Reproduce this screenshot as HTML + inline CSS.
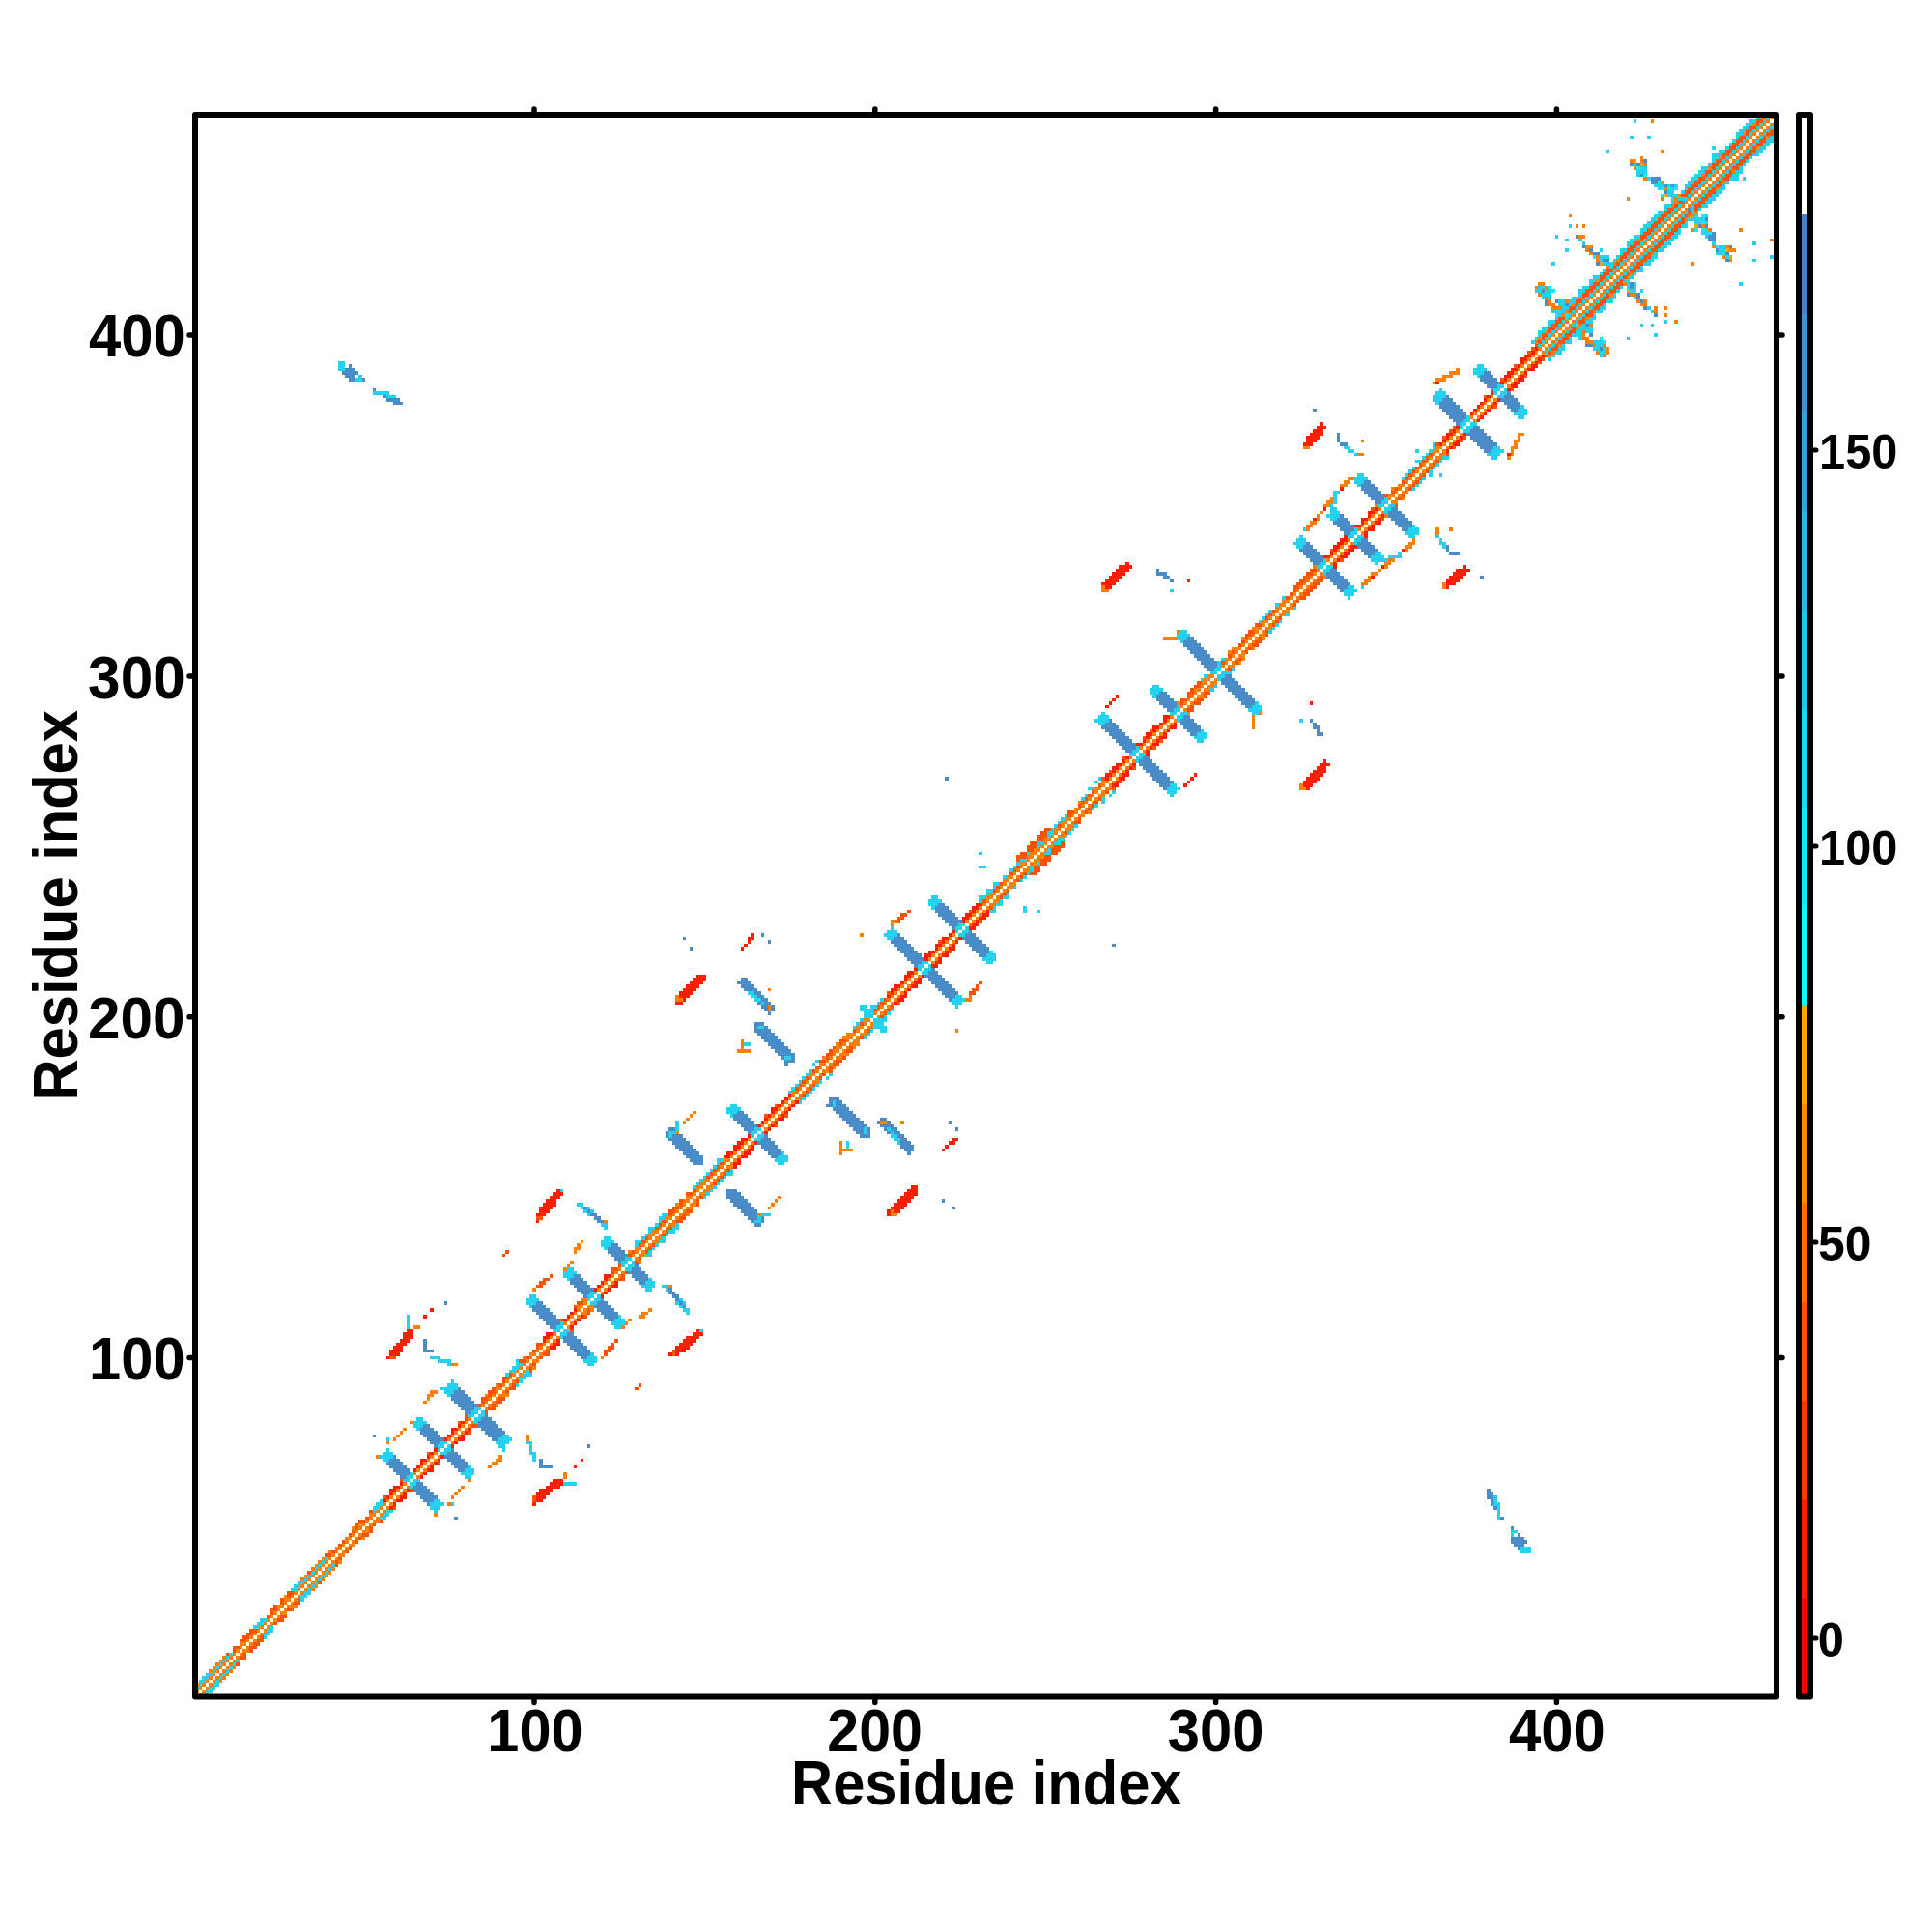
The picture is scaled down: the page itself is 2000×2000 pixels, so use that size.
<!DOCTYPE html>
<html><head><meta charset="utf-8"><style>
html,body{margin:0;padding:0;background:#fff;width:2000px;height:2000px;overflow:hidden}
svg{position:absolute;left:0;top:0}
text{font-family:"Liberation Sans",sans-serif;font-weight:bold;fill:#000}
</style></head><body>
<svg width="2000" height="2000" viewBox="0 0 2000 2000">

<g shape-rendering="crispEdges"><path fill="#FFFFF0" d="M202.0 1753.0H205.5V1756.5H202.0zM205.5 1749.4H209.1V1753.0H205.5zM209.1 1745.9H212.6V1749.4H209.1zM212.6 1742.4H216.1V1745.9H212.6zM216.1 1738.9H219.6V1742.4H216.1zM219.6 1735.3H223.2V1738.9H219.6zM223.2 1731.8H226.7V1735.3H223.2zM226.7 1728.3H230.2V1731.8H226.7zM230.2 1724.7H233.8V1728.3H230.2zM233.8 1721.2H237.3V1724.7H233.8zM237.3 1717.7H240.8V1721.2H237.3zM240.8 1714.2H244.3V1717.7H240.8zM244.3 1710.6H247.9V1714.2H244.3zM247.9 1707.1H251.4V1710.6H247.9zM251.4 1703.6H254.9V1707.1H251.4zM254.9 1700.1H258.4V1703.6H254.9zM258.4 1696.5H262.0V1700.1H258.4zM262.0 1693.0H265.5V1696.5H262.0zM265.5 1689.5H269.0V1693.0H265.5zM269.0 1685.9H272.6V1689.5H269.0zM272.6 1682.4H276.1V1685.9H272.6zM276.1 1678.9H279.6V1682.4H276.1zM279.6 1675.4H283.1V1678.9H279.6zM283.1 1671.8H286.7V1675.4H283.1zM286.7 1668.3H290.2V1671.8H286.7zM290.2 1664.8H293.7V1668.3H290.2zM293.7 1661.2H297.3V1664.8H293.7zM297.3 1657.7H300.8V1661.2H297.3zM300.8 1654.2H304.3V1657.7H300.8zM304.3 1650.7H307.8V1654.2H304.3zM307.8 1647.1H311.4V1650.7H307.8zM311.4 1643.6H314.9V1647.1H311.4zM314.9 1640.1H318.4V1643.6H314.9zM318.4 1636.5H322.0V1640.1H318.4zM322.0 1633.0H325.5V1636.5H322.0zM325.5 1629.5H329.0V1633.0H325.5zM329.0 1626.0H332.5V1629.5H329.0zM332.5 1622.4H336.1V1626.0H332.5zM336.1 1618.9H339.6V1622.4H336.1zM339.6 1615.4H343.1V1618.9H339.6zM343.1 1611.9H346.6V1615.4H343.1zM346.6 1608.3H350.2V1611.9H346.6zM350.2 1604.8H353.7V1608.3H350.2zM353.7 1601.3H357.2V1604.8H353.7zM357.2 1597.7H360.8V1601.3H357.2zM360.8 1594.2H364.3V1597.7H360.8zM364.3 1590.7H367.8V1594.2H364.3zM367.8 1587.2H371.3V1590.7H367.8zM371.3 1583.6H374.9V1587.2H371.3zM374.9 1580.1H378.4V1583.6H374.9zM378.4 1576.6H381.9V1580.1H378.4zM381.9 1573.0H385.5V1576.6H381.9zM385.5 1569.5H389.0V1573.0H385.5zM389.0 1566.0H392.5V1569.5H389.0zM392.5 1562.5H396.0V1566.0H392.5zM396.0 1558.9H399.6V1562.5H396.0zM399.6 1555.4H403.1V1558.9H399.6zM403.1 1551.9H406.6V1555.4H403.1zM406.6 1548.3H410.2V1551.9H406.6zM410.2 1544.8H413.7V1548.3H410.2zM413.7 1541.3H417.2V1544.8H413.7zM417.2 1537.8H420.7V1541.3H417.2zM420.7 1534.2H424.3V1537.8H420.7zM424.3 1530.7H427.8V1534.2H424.3zM427.8 1527.2H431.3V1530.7H427.8zM431.3 1523.7H434.8V1527.2H431.3zM434.8 1520.1H438.4V1523.7H434.8zM438.4 1516.6H441.9V1520.1H438.4zM441.9 1513.1H445.4V1516.6H441.9zM445.4 1509.5H449.0V1513.1H445.4zM449.0 1506.0H452.5V1509.5H449.0zM452.5 1502.5H456.0V1506.0H452.5zM456.0 1499.0H459.5V1502.5H456.0zM459.5 1495.4H463.1V1499.0H459.5zM463.1 1491.9H466.6V1495.4H463.1zM466.6 1488.4H470.1V1491.9H466.6zM470.1 1484.8H473.7V1488.4H470.1zM473.7 1481.3H477.2V1484.8H473.7zM477.2 1477.8H480.7V1481.3H477.2zM480.7 1474.3H484.2V1477.8H480.7zM484.2 1470.7H487.8V1474.3H484.2zM487.8 1467.2H491.3V1470.7H487.8zM491.3 1463.7H494.8V1467.2H491.3zM494.8 1460.1H498.4V1463.7H494.8zM498.4 1456.6H501.9V1460.1H498.4zM501.9 1453.1H505.4V1456.6H501.9zM505.4 1449.6H508.9V1453.1H505.4zM508.9 1446.0H512.5V1449.6H508.9zM512.5 1442.5H516.0V1446.0H512.5zM516.0 1439.0H519.5V1442.5H516.0zM519.5 1435.5H523.0V1439.0H519.5zM523.0 1431.9H526.6V1435.5H523.0zM526.6 1428.4H530.1V1431.9H526.6zM530.1 1424.9H533.6V1428.4H530.1zM533.6 1421.3H537.2V1424.9H533.6zM537.2 1417.8H540.7V1421.3H537.2zM540.7 1414.3H544.2V1417.8H540.7zM544.2 1410.8H547.7V1414.3H544.2zM547.7 1407.2H551.3V1410.8H547.7zM551.3 1403.7H554.8V1407.2H551.3zM554.8 1400.2H558.3V1403.7H554.8zM558.3 1396.6H561.9V1400.2H558.3zM561.9 1393.1H565.4V1396.6H561.9zM565.4 1389.6H568.9V1393.1H565.4zM568.9 1386.1H572.4V1389.6H568.9zM572.4 1382.5H576.0V1386.1H572.4zM576.0 1379.0H579.5V1382.5H576.0zM579.5 1375.5H583.0V1379.0H579.5zM583.0 1371.9H586.6V1375.5H583.0zM586.6 1368.4H590.1V1371.9H586.6zM590.1 1364.9H593.6V1368.4H590.1zM593.6 1361.4H597.1V1364.9H593.6zM597.1 1357.8H600.7V1361.4H597.1zM600.7 1354.3H604.2V1357.8H600.7zM604.2 1350.8H607.7V1354.3H604.2zM607.7 1347.3H611.2V1350.8H607.7zM611.2 1343.7H614.8V1347.3H611.2zM614.8 1340.2H618.3V1343.7H614.8zM618.3 1336.7H621.8V1340.2H618.3zM621.8 1333.1H625.4V1336.7H621.8zM625.4 1329.6H628.9V1333.1H625.4zM628.9 1326.1H632.4V1329.6H628.9zM632.4 1322.6H635.9V1326.1H632.4zM635.9 1319.0H639.5V1322.6H635.9zM639.5 1315.5H643.0V1319.0H639.5zM643.0 1312.0H646.5V1315.5H643.0zM646.5 1308.4H650.1V1312.0H646.5zM650.1 1304.9H653.6V1308.4H650.1zM653.6 1301.4H657.1V1304.9H653.6zM657.1 1297.9H660.6V1301.4H657.1zM660.6 1294.3H664.2V1297.9H660.6zM664.2 1290.8H667.7V1294.3H664.2zM667.7 1287.3H671.2V1290.8H667.7zM671.2 1283.7H674.8V1287.3H671.2zM674.8 1280.2H678.3V1283.7H674.8zM678.3 1276.7H681.8V1280.2H678.3zM681.8 1273.2H685.3V1276.7H681.8zM685.3 1269.6H688.9V1273.2H685.3zM688.9 1266.1H692.4V1269.6H688.9zM692.4 1262.6H695.9V1266.1H692.4zM695.9 1259.1H699.4V1262.6H695.9zM699.4 1255.5H703.0V1259.1H699.4zM703.0 1252.0H706.5V1255.5H703.0zM706.5 1248.5H710.0V1252.0H706.5zM710.0 1244.9H713.6V1248.5H710.0zM713.6 1241.4H717.1V1244.9H713.6zM717.1 1237.9H720.6V1241.4H717.1zM720.6 1234.4H724.1V1237.9H720.6zM724.1 1230.8H727.7V1234.4H724.1zM727.7 1227.3H731.2V1230.8H727.7zM731.2 1223.8H734.7V1227.3H731.2zM734.7 1220.2H738.3V1223.8H734.7zM738.3 1216.7H741.8V1220.2H738.3zM741.8 1213.2H745.3V1216.7H741.8zM745.3 1209.7H748.8V1213.2H745.3zM748.8 1206.1H752.4V1209.7H748.8zM752.4 1202.6H755.9V1206.1H752.4zM755.9 1199.1H759.4V1202.6H755.9zM759.4 1195.5H763.0V1199.1H759.4zM763.0 1192.0H766.5V1195.5H763.0zM766.5 1188.5H770.0V1192.0H766.5zM770.0 1185.0H773.5V1188.5H770.0zM773.5 1181.4H777.1V1185.0H773.5zM777.1 1177.9H780.6V1181.4H777.1zM780.6 1174.4H784.1V1177.9H780.6zM784.1 1170.9H787.6V1174.4H784.1zM787.6 1167.3H791.2V1170.9H787.6zM791.2 1163.8H794.7V1167.3H791.2zM794.7 1160.3H798.2V1163.8H794.7zM798.2 1156.7H801.8V1160.3H798.2zM801.8 1153.2H805.3V1156.7H801.8zM805.3 1149.7H808.8V1153.2H805.3zM808.8 1146.2H812.3V1149.7H808.8zM812.3 1142.6H815.9V1146.2H812.3zM815.9 1139.1H819.4V1142.6H815.9zM819.4 1135.6H822.9V1139.1H819.4zM822.9 1132.0H826.5V1135.6H822.9zM826.5 1128.5H830.0V1132.0H826.5zM830.0 1125.0H833.5V1128.5H830.0zM833.5 1121.5H837.0V1125.0H833.5zM837.0 1117.9H840.6V1121.5H837.0zM840.6 1114.4H844.1V1117.9H840.6zM844.1 1110.9H847.6V1114.4H844.1zM847.6 1107.3H851.2V1110.9H847.6zM851.2 1103.8H854.7V1107.3H851.2zM854.7 1100.3H858.2V1103.8H854.7zM858.2 1096.8H861.7V1100.3H858.2zM861.7 1093.2H865.3V1096.8H861.7zM865.3 1089.7H868.8V1093.2H865.3zM868.8 1086.2H872.3V1089.7H868.8zM872.3 1082.7H875.8V1086.2H872.3zM875.8 1079.1H879.4V1082.7H875.8zM879.4 1075.6H882.9V1079.1H879.4zM882.9 1072.1H886.4V1075.6H882.9zM886.4 1068.5H890.0V1072.1H886.4zM890.0 1065.0H893.5V1068.5H890.0zM893.5 1061.5H897.0V1065.0H893.5zM897.0 1058.0H900.5V1061.5H897.0zM900.5 1054.4H904.1V1058.0H900.5zM904.1 1050.9H907.6V1054.4H904.1zM907.6 1047.4H911.1V1050.9H907.6zM911.1 1043.8H914.7V1047.4H911.1zM914.7 1040.3H918.2V1043.8H914.7zM918.2 1036.8H921.7V1040.3H918.2zM921.7 1033.3H925.2V1036.8H921.7zM925.2 1029.7H928.8V1033.3H925.2zM928.8 1026.2H932.3V1029.7H928.8zM932.3 1022.7H935.8V1026.2H932.3zM935.8 1019.1H939.4V1022.7H935.8zM939.4 1015.6H942.9V1019.1H939.4zM942.9 1012.1H946.4V1015.6H942.9zM946.4 1008.6H949.9V1012.1H946.4zM949.9 1005.0H953.5V1008.6H949.9zM953.5 1001.5H957.0V1005.0H953.5zM957.0 998.0H960.5V1001.5H957.0zM960.5 994.5H964.0V998.0H960.5zM964.0 990.9H967.6V994.5H964.0zM967.6 987.4H971.1V990.9H967.6zM971.1 983.9H974.6V987.4H971.1zM974.6 980.3H978.2V983.9H974.6zM978.2 976.8H981.7V980.3H978.2zM981.7 973.3H985.2V976.8H981.7zM985.2 969.8H988.7V973.3H985.2zM988.7 966.2H992.3V969.8H988.7zM992.3 962.7H995.8V966.2H992.3zM995.8 959.2H999.3V962.7H995.8zM999.3 955.6H1002.9V959.2H999.3zM1002.9 952.1H1006.4V955.6H1002.9zM1006.4 948.6H1009.9V952.1H1006.4zM1009.9 945.1H1013.4V948.6H1009.9zM1013.4 941.5H1017.0V945.1H1013.4zM1017.0 938.0H1020.5V941.5H1017.0zM1020.5 934.5H1024.0V938.0H1020.5zM1024.0 930.9H1027.6V934.5H1024.0zM1027.6 927.4H1031.1V930.9H1027.6zM1031.1 923.9H1034.6V927.4H1031.1zM1034.6 920.4H1038.1V923.9H1034.6zM1038.1 916.8H1041.7V920.4H1038.1zM1041.7 913.3H1045.2V916.8H1041.7zM1045.2 909.8H1048.7V913.3H1045.2zM1048.7 906.3H1052.2V909.8H1048.7zM1052.2 902.7H1055.8V906.3H1052.2zM1055.8 899.2H1059.3V902.7H1055.8zM1059.3 895.7H1062.8V899.2H1059.3zM1062.8 892.1H1066.4V895.7H1062.8zM1066.4 888.6H1069.9V892.1H1066.4zM1069.9 885.1H1073.4V888.6H1069.9zM1073.4 881.6H1076.9V885.1H1073.4zM1076.9 878.0H1080.5V881.6H1076.9zM1080.5 874.5H1084.0V878.0H1080.5zM1084.0 871.0H1087.5V874.5H1084.0zM1087.5 867.4H1091.1V871.0H1087.5zM1091.1 863.9H1094.6V867.4H1091.1zM1094.6 860.4H1098.1V863.9H1094.6zM1098.1 856.9H1101.6V860.4H1098.1zM1101.6 853.3H1105.2V856.9H1101.6zM1105.2 849.8H1108.7V853.3H1105.2zM1108.7 846.3H1112.2V849.8H1108.7zM1112.2 842.7H1115.8V846.3H1112.2zM1115.8 839.2H1119.3V842.7H1115.8zM1119.3 835.7H1122.8V839.2H1119.3zM1122.8 832.2H1126.3V835.7H1122.8zM1126.3 828.6H1129.9V832.2H1126.3zM1129.9 825.1H1133.4V828.6H1129.9zM1133.4 821.6H1136.9V825.1H1133.4zM1136.9 818.1H1140.4V821.6H1136.9zM1140.4 814.5H1144.0V818.1H1140.4zM1144.0 811.0H1147.5V814.5H1144.0zM1147.5 807.5H1151.0V811.0H1147.5zM1151.0 803.9H1154.6V807.5H1151.0zM1154.6 800.4H1158.1V803.9H1154.6zM1158.1 796.9H1161.6V800.4H1158.1zM1161.6 793.4H1165.1V796.9H1161.6zM1165.1 789.8H1168.7V793.4H1165.1zM1168.7 786.3H1172.2V789.8H1168.7zM1172.2 782.8H1175.7V786.3H1172.2zM1175.7 779.2H1179.3V782.8H1175.7zM1179.3 775.7H1182.8V779.2H1179.3zM1182.8 772.2H1186.3V775.7H1182.8zM1186.3 768.7H1189.8V772.2H1186.3zM1189.8 765.1H1193.4V768.7H1189.8zM1193.4 761.6H1196.9V765.1H1193.4zM1196.9 758.1H1200.4V761.6H1196.9zM1200.4 754.5H1204.0V758.1H1200.4zM1204.0 751.0H1207.5V754.5H1204.0zM1207.5 747.5H1211.0V751.0H1207.5zM1211.0 744.0H1214.5V747.5H1211.0zM1214.5 740.4H1218.1V744.0H1214.5zM1218.1 736.9H1221.6V740.4H1218.1zM1221.6 733.4H1225.1V736.9H1221.6zM1225.1 729.9H1228.6V733.4H1225.1zM1228.6 726.3H1232.2V729.9H1228.6zM1232.2 722.8H1235.7V726.3H1232.2zM1235.7 719.3H1239.2V722.8H1235.7zM1239.2 715.7H1242.8V719.3H1239.2zM1242.8 712.2H1246.3V715.7H1242.8zM1246.3 708.7H1249.8V712.2H1246.3zM1249.8 705.2H1253.3V708.7H1249.8zM1253.3 701.6H1256.9V705.2H1253.3zM1256.9 698.1H1260.4V701.6H1256.9zM1260.4 694.6H1263.9V698.1H1260.4zM1263.9 691.0H1267.5V694.6H1263.9zM1267.5 687.5H1271.0V691.0H1267.5zM1271.0 684.0H1274.5V687.5H1271.0zM1274.5 680.5H1278.0V684.0H1274.5zM1278.0 676.9H1281.6V680.5H1278.0zM1281.6 673.4H1285.1V676.9H1281.6zM1285.1 669.9H1288.6V673.4H1285.1zM1288.6 666.3H1292.2V669.9H1288.6zM1292.2 662.8H1295.7V666.3H1292.2zM1295.7 659.3H1299.2V662.8H1295.7zM1299.2 655.8H1302.7V659.3H1299.2zM1302.7 652.2H1306.3V655.8H1302.7zM1306.3 648.7H1309.8V652.2H1306.3zM1309.8 645.2H1313.3V648.7H1309.8zM1313.3 641.7H1316.8V645.2H1313.3zM1316.8 638.1H1320.4V641.7H1316.8zM1320.4 634.6H1323.9V638.1H1320.4zM1323.9 631.1H1327.4V634.6H1323.9zM1327.4 627.5H1331.0V631.1H1327.4zM1331.0 624.0H1334.5V627.5H1331.0zM1334.5 620.5H1338.0V624.0H1334.5zM1338.0 617.0H1341.5V620.5H1338.0zM1341.5 613.4H1345.1V617.0H1341.5zM1345.1 609.9H1348.6V613.4H1345.1zM1348.6 606.4H1352.1V609.9H1348.6zM1352.1 602.8H1355.7V606.4H1352.1zM1355.7 599.3H1359.2V602.8H1355.7zM1359.2 595.8H1362.7V599.3H1359.2zM1362.7 592.3H1366.2V595.8H1362.7zM1366.2 588.7H1369.8V592.3H1366.2zM1369.8 585.2H1373.3V588.7H1369.8zM1373.3 581.7H1376.8V585.2H1373.3zM1376.8 578.1H1380.4V581.7H1376.8zM1380.4 574.6H1383.9V578.1H1380.4zM1383.9 571.1H1387.4V574.6H1383.9zM1387.4 567.6H1390.9V571.1H1387.4zM1390.9 564.0H1394.5V567.6H1390.9zM1394.5 560.5H1398.0V564.0H1394.5zM1398.0 557.0H1401.5V560.5H1398.0zM1401.5 553.5H1405.0V557.0H1401.5zM1405.0 549.9H1408.6V553.5H1405.0zM1408.6 546.4H1412.1V549.9H1408.6zM1412.1 542.9H1415.6V546.4H1412.1zM1415.6 539.3H1419.2V542.9H1415.6zM1419.2 535.8H1422.7V539.3H1419.2zM1422.7 532.3H1426.2V535.8H1422.7zM1426.2 528.8H1429.7V532.3H1426.2zM1429.7 525.2H1433.3V528.8H1429.7zM1433.3 521.7H1436.8V525.2H1433.3zM1436.8 518.2H1440.3V521.7H1436.8zM1440.3 514.6H1443.9V518.2H1440.3zM1443.9 511.1H1447.4V514.6H1443.9zM1447.4 507.6H1450.9V511.1H1447.4zM1450.9 504.1H1454.4V507.6H1450.9zM1454.4 500.5H1458.0V504.1H1454.4zM1458.0 497.0H1461.5V500.5H1458.0zM1461.5 493.5H1465.0V497.0H1461.5zM1465.0 489.9H1468.6V493.5H1465.0zM1468.6 486.4H1472.1V489.9H1468.6zM1472.1 482.9H1475.6V486.4H1472.1zM1475.6 479.4H1479.1V482.9H1475.6zM1479.1 475.8H1482.7V479.4H1479.1zM1482.7 472.3H1486.2V475.8H1482.7zM1486.2 468.8H1489.7V472.3H1486.2zM1489.7 465.3H1493.2V468.8H1489.7zM1493.2 461.7H1496.8V465.3H1493.2zM1496.8 458.2H1500.3V461.7H1496.8zM1500.3 454.7H1503.8V458.2H1500.3zM1503.8 451.1H1507.4V454.7H1503.8zM1507.4 447.6H1510.9V451.1H1507.4zM1510.9 444.1H1514.4V447.6H1510.9zM1514.4 440.6H1517.9V444.1H1514.4zM1517.9 437.0H1521.5V440.6H1517.9zM1521.5 433.5H1525.0V437.0H1521.5zM1525.0 430.0H1528.5V433.5H1525.0zM1528.5 426.4H1532.1V430.0H1528.5zM1532.1 422.9H1535.6V426.4H1532.1zM1535.6 419.4H1539.1V422.9H1535.6zM1539.1 415.9H1542.6V419.4H1539.1zM1542.6 412.3H1546.2V415.9H1542.6zM1546.2 408.8H1549.7V412.3H1546.2zM1549.7 405.3H1553.2V408.8H1549.7zM1553.2 401.7H1556.8V405.3H1553.2zM1556.8 398.2H1560.3V401.7H1556.8zM1560.3 394.7H1563.8V398.2H1560.3zM1563.8 391.2H1567.3V394.7H1563.8zM1567.3 387.6H1570.9V391.2H1567.3zM1570.9 384.1H1574.4V387.6H1570.9zM1574.4 380.6H1577.9V384.1H1574.4zM1577.9 377.1H1581.4V380.6H1577.9zM1581.4 373.5H1585.0V377.1H1581.4zM1585.0 370.0H1588.5V373.5H1585.0zM1588.5 366.5H1592.0V370.0H1588.5zM1592.0 362.9H1595.6V366.5H1592.0zM1595.6 359.4H1599.1V362.9H1595.6zM1599.1 355.9H1602.6V359.4H1599.1zM1602.6 352.4H1606.1V355.9H1602.6zM1606.1 348.8H1609.7V352.4H1606.1zM1609.7 345.3H1613.2V348.8H1609.7zM1613.2 341.8H1616.7V345.3H1613.2zM1616.7 338.2H1620.3V341.8H1616.7zM1620.3 334.7H1623.8V338.2H1620.3zM1623.8 331.2H1627.3V334.7H1623.8zM1627.3 327.7H1630.8V331.2H1627.3zM1630.8 324.1H1634.4V327.7H1630.8zM1634.4 320.6H1637.9V324.1H1634.4zM1637.9 317.1H1641.4V320.6H1637.9zM1641.4 313.5H1645.0V317.1H1641.4zM1645.0 310.0H1648.5V313.5H1645.0zM1648.5 306.5H1652.0V310.0H1648.5zM1652.0 303.0H1655.5V306.5H1652.0zM1655.5 299.4H1659.1V303.0H1655.5zM1659.1 295.9H1662.6V299.4H1659.1zM1662.6 292.4H1666.1V295.9H1662.6zM1666.1 288.9H1669.6V292.4H1666.1zM1669.6 285.3H1673.2V288.9H1669.6zM1673.2 281.8H1676.7V285.3H1673.2zM1676.7 278.3H1680.2V281.8H1676.7zM1680.2 274.7H1683.8V278.3H1680.2zM1683.8 271.2H1687.3V274.7H1683.8zM1687.3 267.7H1690.8V271.2H1687.3zM1690.8 264.2H1694.3V267.7H1690.8zM1694.3 260.6H1697.9V264.2H1694.3zM1697.9 257.1H1701.4V260.6H1697.9zM1701.4 253.6H1704.9V257.1H1701.4zM1704.9 250.0H1708.5V253.6H1704.9zM1708.5 246.5H1712.0V250.0H1708.5zM1712.0 243.0H1715.5V246.5H1712.0zM1715.5 239.5H1719.0V243.0H1715.5zM1719.0 235.9H1722.6V239.5H1719.0zM1722.6 232.4H1726.1V235.9H1722.6zM1726.1 228.9H1729.6V232.4H1726.1zM1729.6 225.3H1733.2V228.9H1729.6zM1733.2 221.8H1736.7V225.3H1733.2zM1736.7 218.3H1740.2V221.8H1736.7zM1740.2 214.8H1743.7V218.3H1740.2zM1743.7 211.2H1747.3V214.8H1743.7zM1747.3 207.7H1750.8V211.2H1747.3zM1750.8 204.2H1754.3V207.7H1750.8zM1754.3 200.7H1757.8V204.2H1754.3zM1757.8 197.1H1761.4V200.7H1757.8zM1761.4 193.6H1764.9V197.1H1761.4zM1764.9 190.1H1768.4V193.6H1764.9zM1768.4 186.5H1772.0V190.1H1768.4zM1772.0 183.0H1775.5V186.5H1772.0zM1775.5 179.5H1779.0V183.0H1775.5zM1779.0 176.0H1782.5V179.5H1779.0zM1782.5 172.4H1786.1V176.0H1782.5zM1786.1 168.9H1789.6V172.4H1786.1zM1789.6 165.4H1793.1V168.9H1789.6zM1793.1 161.8H1796.7V165.4H1793.1zM1796.7 158.3H1800.2V161.8H1796.7zM1800.2 154.8H1803.7V158.3H1800.2zM1803.7 151.3H1807.2V154.8H1803.7zM1807.2 147.7H1810.8V151.3H1807.2zM1810.8 144.2H1814.3V147.7H1810.8zM1814.3 140.7H1817.8V144.2H1814.3zM1817.8 137.1H1821.4V140.7H1817.8zM1821.4 133.6H1824.9V137.1H1821.4zM1824.9 130.1H1828.4V133.6H1824.9zM1828.4 126.6H1831.9V130.1H1828.4zM1831.9 123.0H1835.5V126.6H1831.9zM1835.5 119.5H1839.0V123.0H1835.5z"/><path fill="#FF7F00" d="M205.5 1753.0H209.1V1756.5H205.5zM212.6 1753.0H216.1V1756.5H212.6zM202.0 1749.4H205.5V1753.0H202.0zM209.1 1749.4H212.6V1753.0H209.1zM205.5 1745.9H209.1V1749.4H205.5zM212.6 1745.9H216.1V1749.4H212.6zM202.0 1742.4H205.5V1745.9H202.0zM209.1 1742.4H212.6V1745.9H209.1zM216.1 1742.4H219.6V1745.9H216.1zM212.6 1738.9H216.1V1742.4H212.6zM219.6 1738.9H223.2V1742.4H219.6zM226.7 1738.9H230.2V1742.4H226.7zM216.1 1735.3H219.6V1738.9H216.1zM223.2 1735.3H226.7V1738.9H223.2zM230.2 1735.3H233.8V1738.9H230.2zM219.6 1731.8H223.2V1735.3H219.6zM226.7 1731.8H230.2V1735.3H226.7zM233.8 1731.8H237.3V1735.3H233.8zM216.1 1728.3H219.6V1731.8H216.1zM223.2 1728.3H226.7V1731.8H223.2zM230.2 1728.3H233.8V1731.8H230.2zM237.3 1728.3H240.8V1731.8H237.3zM219.6 1724.7H223.2V1728.3H219.6zM226.7 1724.7H230.2V1728.3H226.7zM233.8 1724.7H237.3V1728.3H233.8zM240.8 1724.7H244.3V1728.3H240.8zM223.2 1721.2H226.7V1724.7H223.2zM230.2 1721.2H233.8V1724.7H230.2zM237.3 1721.2H240.8V1724.7H237.3zM226.7 1717.7H230.2V1721.2H226.7zM233.8 1717.7H237.3V1721.2H233.8zM240.8 1717.7H244.3V1721.2H240.8zM230.2 1714.2H233.8V1717.7H230.2zM237.3 1714.2H240.8V1717.7H237.3zM244.3 1714.2H247.9V1717.7H244.3zM240.8 1710.6H244.3V1714.2H240.8zM247.9 1710.6H251.4V1714.2H247.9zM244.3 1707.1H247.9V1710.6H244.3zM251.4 1707.1H258.4V1710.6H251.4zM247.9 1703.6H251.4V1707.1H247.9zM254.9 1703.6H258.4V1707.1H254.9zM247.9 1700.1H254.9V1703.6H247.9zM258.4 1700.1H262.0V1703.6H258.4zM254.9 1696.5H258.4V1700.1H254.9zM262.0 1696.5H265.5V1700.1H262.0zM258.4 1693.0H262.0V1696.5H258.4zM265.5 1693.0H269.0V1696.5H265.5zM262.0 1689.5H265.5V1693.0H262.0zM269.0 1689.5H272.6V1693.0H269.0zM265.5 1685.9H269.0V1689.5H265.5zM272.6 1685.9H276.1V1689.5H272.6zM269.0 1682.4H272.6V1685.9H269.0zM276.1 1682.4H279.6V1685.9H276.1zM272.6 1678.9H276.1V1682.4H272.6zM279.6 1678.9H283.1V1682.4H279.6zM276.1 1675.4H279.6V1678.9H276.1zM283.1 1675.4H286.7V1678.9H283.1zM279.6 1671.8H283.1V1675.4H279.6zM286.7 1671.8H290.2V1675.4H286.7zM283.1 1668.3H286.7V1671.8H283.1zM290.2 1668.3H297.3V1671.8H290.2zM286.7 1664.8H290.2V1668.3H286.7zM293.7 1664.8H297.3V1668.3H293.7zM286.7 1661.2H293.7V1664.8H286.7zM297.3 1661.2H307.8V1664.8H297.3zM293.7 1657.7H297.3V1661.2H293.7zM300.8 1657.7H304.3V1661.2H300.8zM293.7 1654.2H300.8V1657.7H293.7zM304.3 1654.2H307.8V1657.7H304.3zM293.7 1650.7H297.3V1654.2H293.7zM300.8 1650.7H304.3V1654.2H300.8zM307.8 1650.7H311.4V1654.2H307.8zM304.3 1647.1H307.8V1650.7H304.3zM311.4 1647.1H314.9V1650.7H311.4zM307.8 1643.6H311.4V1647.1H307.8zM314.9 1643.6H318.4V1647.1H314.9zM322.0 1643.6H325.5V1647.1H322.0zM311.4 1640.1H314.9V1643.6H311.4zM318.4 1640.1H322.0V1643.6H318.4zM325.5 1640.1H329.0V1643.6H325.5zM314.9 1636.5H318.4V1640.1H314.9zM322.0 1636.5H325.5V1640.1H322.0zM311.4 1633.0H314.9V1636.5H311.4zM318.4 1633.0H322.0V1636.5H318.4zM325.5 1633.0H329.0V1636.5H325.5zM332.5 1633.0H336.1V1636.5H332.5zM314.9 1629.5H318.4V1633.0H314.9zM322.0 1629.5H325.5V1633.0H322.0zM329.0 1629.5H332.5V1633.0H329.0zM336.1 1629.5H339.6V1633.0H336.1zM325.5 1626.0H329.0V1629.5H325.5zM332.5 1626.0H336.1V1629.5H332.5zM339.6 1626.0H343.1V1629.5H339.6zM322.0 1622.4H325.5V1626.0H322.0zM329.0 1622.4H332.5V1626.0H329.0zM336.1 1622.4H339.6V1626.0H336.1zM343.1 1622.4H346.6V1626.0H343.1zM325.5 1618.9H329.0V1622.4H325.5zM332.5 1618.9H336.1V1622.4H332.5zM339.6 1618.9H343.1V1622.4H339.6zM329.0 1615.4H332.5V1618.9H329.0zM336.1 1615.4H339.6V1618.9H336.1zM343.1 1615.4H346.6V1618.9H343.1zM350.2 1615.4H353.7V1618.9H350.2zM332.5 1611.9H336.1V1615.4H332.5zM339.6 1611.9H343.1V1615.4H339.6zM346.6 1611.9H350.2V1615.4H346.6zM343.1 1608.3H346.6V1611.9H343.1zM350.2 1608.3H357.2V1611.9H350.2zM339.6 1604.8H343.1V1608.3H339.6zM346.6 1604.8H350.2V1608.3H346.6zM353.7 1604.8H357.2V1608.3H353.7zM346.6 1601.3H353.7V1604.8H346.6zM357.2 1601.3H360.8V1604.8H357.2zM353.7 1597.7H357.2V1601.3H353.7zM360.8 1597.7H367.8V1601.3H360.8zM357.2 1594.2H360.8V1597.7H357.2zM364.3 1594.2H367.8V1597.7H364.3zM357.2 1590.7H364.3V1594.2H357.2zM367.8 1590.7H371.3V1594.2H367.8zM374.9 1590.7H378.4V1594.2H374.9zM364.3 1587.2H367.8V1590.7H364.3zM371.3 1587.2H374.9V1590.7H371.3zM367.8 1583.6H371.3V1587.2H367.8zM374.9 1583.6H381.9V1587.2H374.9zM364.3 1580.1H367.8V1583.6H364.3zM371.3 1580.1H374.9V1583.6H371.3zM378.4 1580.1H381.9V1583.6H378.4zM371.3 1576.6H378.4V1580.1H371.3zM381.9 1576.6H385.5V1580.1H381.9zM378.4 1573.0H381.9V1576.6H378.4zM385.5 1573.0H392.5V1576.6H385.5zM381.9 1569.5H385.5V1573.0H381.9zM389.0 1569.5H392.5V1573.0H389.0zM381.9 1566.0H389.0V1569.5H381.9zM392.5 1566.0H396.0V1569.5H392.5zM449.0 1566.0H452.5V1569.5H449.0zM389.0 1562.5H392.5V1566.0H389.0zM396.0 1562.5H399.6V1566.0H396.0zM392.5 1558.9H396.0V1562.5H392.5zM399.6 1558.9H403.1V1562.5H399.6zM396.0 1555.4H399.6V1558.9H396.0zM403.1 1555.4H406.6V1558.9H403.1zM463.1 1555.4H466.6V1558.9H463.1zM399.6 1551.9H403.1V1555.4H399.6zM406.6 1551.9H410.2V1555.4H406.6zM403.1 1548.3H406.6V1551.9H403.1zM410.2 1548.3H413.7V1551.9H410.2zM466.6 1548.3H470.1V1551.9H466.6zM406.6 1544.8H410.2V1548.3H406.6zM413.7 1544.8H417.2V1548.3H413.7zM470.1 1544.8H473.7V1548.3H470.1zM410.2 1541.3H413.7V1544.8H410.2zM417.2 1541.3H420.7V1544.8H417.2zM473.7 1541.3H477.2V1544.8H473.7zM413.7 1537.8H417.2V1541.3H413.7zM420.7 1537.8H424.3V1541.3H420.7zM477.2 1537.8H480.7V1541.3H477.2zM417.2 1534.2H420.7V1537.8H417.2zM484.2 1530.7H487.8V1534.2H484.2zM431.3 1527.2H434.8V1530.7H431.3zM583.0 1527.2H586.6V1530.7H583.0zM427.8 1523.7H431.3V1527.2H427.8zM434.8 1523.7H438.4V1527.2H434.8zM583.0 1523.7H586.6V1527.2H583.0zM431.3 1520.1H434.8V1523.7H431.3zM438.4 1520.1H441.9V1523.7H438.4zM434.8 1516.6H438.4V1520.1H434.8zM441.9 1516.6H445.4V1520.1H441.9zM505.4 1516.6H508.9V1520.1H505.4zM438.4 1513.1H441.9V1516.6H438.4zM445.4 1513.1H449.0V1516.6H445.4zM508.9 1513.1H516.0V1516.6H508.9zM441.9 1509.5H445.4V1513.1H441.9zM449.0 1509.5H452.5V1513.1H449.0zM512.5 1509.5H519.5V1513.1H512.5zM389.0 1506.0H392.5V1509.5H389.0zM445.4 1506.0H449.0V1509.5H445.4zM452.5 1506.0H456.0V1509.5H452.5zM516.0 1506.0H519.5V1509.5H516.0zM449.0 1502.5H452.5V1506.0H449.0zM399.6 1491.9H403.1V1495.4H399.6zM466.6 1491.9H470.1V1495.4H466.6zM406.6 1488.4H410.2V1491.9H406.6zM463.1 1488.4H466.6V1491.9H463.1zM470.1 1488.4H473.7V1491.9H470.1zM544.2 1488.4H547.7V1491.9H544.2zM410.2 1484.8H413.7V1488.4H410.2zM466.6 1484.8H470.1V1488.4H466.6zM473.7 1484.8H477.2V1488.4H473.7zM544.2 1484.8H547.7V1488.4H544.2zM413.7 1481.3H417.2V1484.8H413.7zM470.1 1481.3H473.7V1484.8H470.1zM477.2 1481.3H480.7V1484.8H477.2zM417.2 1477.8H420.7V1481.3H417.2zM473.7 1477.8H477.2V1481.3H473.7zM480.7 1477.8H484.2V1481.3H480.7zM477.2 1474.3H480.7V1477.8H477.2zM484.2 1474.3H487.8V1477.8H484.2zM424.3 1470.7H427.8V1474.3H424.3zM480.7 1470.7H484.2V1474.3H480.7zM487.8 1470.7H491.3V1474.3H487.8zM484.2 1467.2H487.8V1470.7H484.2zM501.9 1456.6H505.4V1460.1H501.9zM498.4 1453.1H501.9V1456.6H498.4zM505.4 1453.1H508.9V1456.6H505.4zM512.5 1453.1H516.0V1456.6H512.5zM438.4 1449.6H441.9V1453.1H438.4zM501.9 1449.6H505.4V1453.1H501.9zM508.9 1449.6H512.5V1453.1H508.9zM441.9 1446.0H445.4V1449.6H441.9zM505.4 1446.0H508.9V1449.6H505.4zM512.5 1446.0H516.0V1449.6H512.5zM441.9 1442.5H449.0V1446.0H441.9zM501.9 1442.5H505.4V1446.0H501.9zM508.9 1442.5H512.5V1446.0H508.9zM516.0 1442.5H526.6V1446.0H516.0zM445.4 1439.0H452.5V1442.5H445.4zM512.5 1439.0H516.0V1442.5H512.5zM519.5 1439.0H523.0V1442.5H519.5zM512.5 1435.5H519.5V1439.0H512.5zM523.0 1435.5H526.6V1439.0H523.0zM512.5 1431.9H516.0V1435.5H512.5zM519.5 1431.9H523.0V1435.5H519.5zM526.6 1431.9H530.1V1435.5H526.6zM523.0 1428.4H526.6V1431.9H523.0zM530.1 1428.4H533.6V1431.9H530.1zM526.6 1424.9H530.1V1428.4H526.6zM533.6 1424.9H537.2V1428.4H533.6zM530.1 1421.3H533.6V1424.9H530.1zM537.2 1421.3H540.7V1424.9H537.2zM533.6 1417.8H537.2V1421.3H533.6zM540.7 1417.8H544.2V1421.3H540.7zM537.2 1414.3H540.7V1417.8H537.2zM544.2 1414.3H547.7V1417.8H544.2zM551.3 1414.3H554.8V1417.8H551.3zM466.6 1410.8H473.7V1414.3H466.6zM540.7 1410.8H544.2V1414.3H540.7zM547.7 1410.8H551.3V1414.3H547.7zM544.2 1407.2H547.7V1410.8H544.2zM551.3 1407.2H558.3V1410.8H551.3zM540.7 1403.7H544.2V1407.2H540.7zM547.7 1403.7H551.3V1407.2H547.7zM554.8 1403.7H558.3V1407.2H554.8zM621.8 1403.7H625.4V1407.2H621.8zM547.7 1400.2H554.8V1403.7H547.7zM558.3 1400.2H561.9V1403.7H558.3zM554.8 1396.6H558.3V1400.2H554.8zM561.9 1396.6H565.4V1400.2H561.9zM558.3 1393.1H561.9V1396.6H558.3zM565.4 1393.1H568.9V1396.6H565.4zM561.9 1389.6H565.4V1393.1H561.9zM568.9 1389.6H572.4V1393.1H568.9zM565.4 1386.1H568.9V1389.6H565.4zM572.4 1386.1H576.0V1389.6H572.4zM568.9 1382.5H572.4V1386.1H568.9zM576.0 1382.5H579.5V1386.1H576.0zM572.4 1379.0H576.0V1382.5H572.4zM427.8 1371.9H434.8V1375.5H427.8zM586.6 1371.9H590.1V1375.5H586.6zM643.0 1371.9H646.5V1375.5H643.0zM583.0 1368.4H586.6V1371.9H583.0zM590.1 1368.4H593.6V1371.9H590.1zM646.5 1368.4H650.1V1371.9H646.5zM586.6 1364.9H590.1V1368.4H586.6zM593.6 1364.9H597.1V1368.4H593.6zM650.1 1364.9H653.6V1368.4H650.1zM590.1 1361.4H593.6V1364.9H590.1zM597.1 1361.4H600.7V1364.9H597.1zM660.6 1361.4H667.7V1364.9H660.6zM593.6 1357.8H597.1V1361.4H593.6zM600.7 1357.8H607.7V1361.4H600.7zM664.2 1357.8H671.2V1361.4H664.2zM597.1 1354.3H600.7V1357.8H597.1zM604.2 1354.3H607.7V1357.8H604.2zM611.2 1354.3H614.8V1357.8H611.2zM671.2 1354.3H674.8V1357.8H671.2zM597.1 1350.8H604.2V1354.3H597.1zM607.7 1350.8H614.8V1354.3H607.7zM604.2 1347.3H607.7V1350.8H604.2zM600.7 1343.7H607.7V1347.3H600.7zM621.8 1336.7H625.4V1340.2H621.8zM551.3 1333.1H554.8V1336.7H551.3zM618.3 1333.1H621.8V1336.7H618.3zM625.4 1333.1H628.9V1336.7H625.4zM621.8 1329.6H625.4V1333.1H621.8zM628.9 1329.6H632.4V1333.1H628.9zM692.4 1329.6H695.9V1333.1H692.4zM625.4 1326.1H628.9V1329.6H625.4zM632.4 1326.1H635.9V1329.6H632.4zM628.9 1322.6H632.4V1326.1H628.9zM635.9 1322.6H639.5V1326.1H635.9zM632.4 1319.0H635.9V1322.6H632.4zM639.5 1319.0H643.0V1322.6H639.5zM635.9 1315.5H639.5V1319.0H635.9zM643.0 1315.5H646.5V1319.0H643.0zM583.0 1312.0H586.6V1315.5H583.0zM639.5 1312.0H643.0V1315.5H639.5zM586.6 1308.4H590.1V1312.0H586.6zM590.1 1304.9H593.6V1308.4H590.1zM660.6 1304.9H664.2V1308.4H660.6zM657.1 1301.4H660.6V1304.9H657.1zM653.6 1297.9H657.1V1301.4H653.6zM660.6 1297.9H667.7V1301.4H660.6zM593.6 1294.3H597.1V1297.9H593.6zM650.1 1294.3H653.6V1297.9H650.1zM657.1 1294.3H660.6V1297.9H657.1zM664.2 1294.3H667.7V1297.9H664.2zM593.6 1290.8H600.7V1294.3H593.6zM657.1 1290.8H664.2V1294.3H657.1zM667.7 1290.8H671.2V1294.3H667.7zM597.1 1287.3H600.7V1290.8H597.1zM664.2 1287.3H667.7V1290.8H664.2zM671.2 1287.3H674.8V1290.8H671.2zM600.7 1283.7H604.2V1287.3H600.7zM667.7 1283.7H671.2V1287.3H667.7zM674.8 1283.7H681.8V1287.3H674.8zM671.2 1280.2H674.8V1283.7H671.2zM678.3 1280.2H685.3V1283.7H678.3zM671.2 1276.7H678.3V1280.2H671.2zM681.8 1276.7H685.3V1280.2H681.8zM674.8 1273.2H681.8V1276.7H674.8zM685.3 1273.2H688.9V1276.7H685.3zM681.8 1269.6H685.3V1273.2H681.8zM688.9 1269.6H692.4V1273.2H688.9zM685.3 1266.1H688.9V1269.6H685.3zM692.4 1266.1H699.4V1269.6H692.4zM625.4 1262.6H628.9V1266.1H625.4zM688.9 1262.6H692.4V1266.1H688.9zM695.9 1262.6H699.4V1266.1H695.9zM688.9 1259.1H695.9V1262.6H688.9zM699.4 1259.1H703.0V1262.6H699.4zM695.9 1255.5H699.4V1259.1H695.9zM703.0 1255.5H706.5V1259.1H703.0zM710.0 1255.5H713.6V1259.1H710.0zM784.1 1255.5H787.6V1259.1H784.1zM921.7 1255.5H928.8V1259.1H921.7zM699.4 1252.0H703.0V1255.5H699.4zM706.5 1252.0H710.0V1255.5H706.5zM921.7 1252.0H925.2V1255.5H921.7zM703.0 1248.5H706.5V1252.0H703.0zM710.0 1248.5H717.1V1252.0H710.0zM794.7 1248.5H798.2V1252.0H794.7zM699.4 1244.9H703.0V1248.5H699.4zM706.5 1244.9H710.0V1248.5H706.5zM713.6 1244.9H720.6V1248.5H713.6zM798.2 1244.9H801.8V1248.5H798.2zM706.5 1241.4H713.6V1244.9H706.5zM717.1 1241.4H720.6V1244.9H717.1zM801.8 1241.4H805.3V1244.9H801.8zM710.0 1237.9H717.1V1241.4H710.0zM720.6 1237.9H724.1V1241.4H720.6zM805.3 1237.9H808.8V1241.4H805.3zM717.1 1234.4H720.6V1237.9H717.1zM724.1 1234.4H731.2V1237.9H724.1zM720.6 1230.8H724.1V1234.4H720.6zM727.7 1230.8H734.7V1234.4H727.7zM720.6 1227.3H727.7V1230.8H720.6zM731.2 1227.3H738.3V1230.8H731.2zM724.1 1223.8H731.2V1227.3H724.1zM734.7 1223.8H738.3V1227.3H734.7zM727.7 1220.2H734.7V1223.8H727.7zM738.3 1220.2H741.8V1223.8H738.3zM734.7 1216.7H738.3V1220.2H734.7zM741.8 1216.7H745.3V1220.2H741.8zM738.3 1213.2H741.8V1216.7H738.3zM745.3 1213.2H748.8V1216.7H745.3zM741.8 1209.7H745.3V1213.2H741.8zM748.8 1209.7H752.4V1213.2H748.8zM745.3 1206.1H748.8V1209.7H745.3zM752.4 1206.1H759.4V1209.7H752.4zM748.8 1202.6H752.4V1206.1H748.8zM755.9 1202.6H759.4V1206.1H755.9zM748.8 1199.1H755.9V1202.6H748.8zM759.4 1199.1H763.0V1202.6H759.4zM755.9 1195.5H759.4V1199.1H755.9zM763.0 1195.5H766.5V1199.1H763.0zM759.4 1192.0H763.0V1195.5H759.4zM766.5 1192.0H770.0V1195.5H766.5zM868.8 1192.0H872.3V1195.5H868.8zM763.0 1188.5H766.5V1192.0H763.0zM770.0 1188.5H773.5V1192.0H770.0zM868.8 1188.5H882.9V1192.0H868.8zM766.5 1185.0H770.0V1188.5H766.5zM773.5 1185.0H777.1V1188.5H773.5zM868.8 1185.0H872.3V1188.5H868.8zM770.0 1181.4H773.5V1185.0H770.0zM777.1 1181.4H780.6V1185.0H777.1zM868.8 1181.4H872.3V1185.0H868.8zM773.5 1177.9H777.1V1181.4H773.5zM699.4 1170.9H703.0V1174.4H699.4zM791.2 1167.3H794.7V1170.9H791.2zM787.6 1163.8H791.2V1167.3H787.6zM794.7 1163.8H798.2V1167.3H794.7zM706.5 1160.3H710.0V1163.8H706.5zM791.2 1160.3H794.7V1163.8H791.2zM798.2 1160.3H801.8V1163.8H798.2zM911.1 1160.3H918.2V1163.8H911.1zM932.3 1160.3H935.8V1163.8H932.3zM710.0 1156.7H713.6V1160.3H710.0zM794.7 1156.7H798.2V1160.3H794.7zM801.8 1156.7H805.3V1160.3H801.8zM713.6 1153.2H717.1V1156.7H713.6zM798.2 1153.2H801.8V1156.7H798.2zM805.3 1153.2H808.8V1156.7H805.3zM717.1 1149.7H720.6V1153.2H717.1zM801.8 1149.7H805.3V1153.2H801.8zM808.8 1149.7H812.3V1153.2H808.8zM805.3 1146.2H808.8V1149.7H805.3zM812.3 1146.2H815.9V1149.7H812.3zM808.8 1142.6H812.3V1146.2H808.8zM815.9 1142.6H819.4V1146.2H815.9zM812.3 1139.1H815.9V1142.6H812.3zM819.4 1139.1H822.9V1142.6H819.4zM815.9 1135.6H819.4V1139.1H815.9zM822.9 1135.6H830.0V1139.1H822.9zM819.4 1132.0H822.9V1135.6H819.4zM826.5 1132.0H830.0V1135.6H826.5zM819.4 1128.5H826.5V1132.0H819.4zM830.0 1128.5H833.5V1132.0H830.0zM826.5 1125.0H830.0V1128.5H826.5zM833.5 1125.0H837.0V1128.5H833.5zM830.0 1121.5H833.5V1125.0H830.0zM837.0 1121.5H840.6V1125.0H837.0zM833.5 1117.9H837.0V1121.5H833.5zM840.6 1117.9H847.6V1121.5H840.6zM837.0 1114.4H840.6V1117.9H837.0zM844.1 1114.4H847.6V1117.9H844.1zM837.0 1110.9H844.1V1114.4H837.0zM847.6 1110.9H851.2V1114.4H847.6zM844.1 1107.3H847.6V1110.9H844.1zM851.2 1107.3H858.2V1110.9H851.2zM847.6 1103.8H851.2V1107.3H847.6zM854.7 1103.8H858.2V1107.3H854.7zM861.7 1103.8H865.3V1107.3H861.7zM847.6 1100.3H854.7V1103.8H847.6zM858.2 1100.3H861.7V1103.8H858.2zM854.7 1096.8H858.2V1100.3H854.7zM861.7 1096.8H865.3V1100.3H861.7zM851.2 1093.2H854.7V1096.8H851.2zM858.2 1093.2H861.7V1096.8H858.2zM865.3 1093.2H872.3V1096.8H865.3zM861.7 1089.7H865.3V1093.2H861.7zM868.8 1089.7H879.4V1093.2H868.8zM763.0 1086.2H777.1V1089.7H763.0zM861.7 1086.2H868.8V1089.7H861.7zM872.3 1086.2H875.8V1089.7H872.3zM766.5 1082.7H770.0V1086.2H766.5zM865.3 1082.7H872.3V1086.2H865.3zM875.8 1082.7H879.4V1086.2H875.8zM882.9 1082.7H886.4V1086.2H882.9zM766.5 1079.1H770.0V1082.7H766.5zM865.3 1079.1H868.8V1082.7H865.3zM872.3 1079.1H875.8V1082.7H872.3zM879.4 1079.1H890.0V1082.7H879.4zM766.5 1075.6H770.0V1079.1H766.5zM875.8 1075.6H879.4V1079.1H875.8zM882.9 1075.6H890.0V1079.1H882.9zM872.3 1072.1H882.9V1075.6H872.3zM886.4 1072.1H890.0V1075.6H886.4zM875.8 1068.5H886.4V1072.1H875.8zM890.0 1068.5H897.0V1072.1H890.0zM886.4 1065.0H890.0V1068.5H886.4zM893.5 1065.0H897.0V1068.5H893.5zM988.7 1065.0H992.3V1068.5H988.7zM886.4 1061.5H893.5V1065.0H886.4zM897.0 1061.5H904.1V1065.0H897.0zM893.5 1058.0H897.0V1061.5H893.5zM900.5 1058.0H904.1V1061.5H900.5zM893.5 1054.4H900.5V1058.0H893.5zM907.6 1050.9H911.1V1054.4H907.6zM904.1 1047.4H907.6V1050.9H904.1zM911.1 1047.4H914.7V1050.9H911.1zM794.7 1043.8H798.2V1047.4H794.7zM907.6 1043.8H911.1V1047.4H907.6zM914.7 1043.8H918.2V1047.4H914.7zM794.7 1040.3H798.2V1043.8H794.7zM911.1 1040.3H914.7V1043.8H911.1zM918.2 1040.3H921.7V1043.8H918.2zM914.7 1036.8H918.2V1040.3H914.7zM921.7 1036.8H925.2V1040.3H921.7zM699.4 1033.3H706.5V1036.8H699.4zM918.2 1033.3H921.7V1036.8H918.2zM925.2 1033.3H928.8V1036.8H925.2zM999.3 1033.3H1006.4V1036.8H999.3zM699.4 1029.7H703.0V1033.3H699.4zM921.7 1029.7H925.2V1033.3H921.7zM928.8 1029.7H932.3V1033.3H928.8zM1002.9 1029.7H1006.4V1033.3H1002.9zM925.2 1026.2H928.8V1029.7H925.2zM932.3 1026.2H935.8V1029.7H932.3zM794.7 1022.7H798.2V1026.2H794.7zM928.8 1022.7H932.3V1026.2H928.8zM935.8 1022.7H939.4V1026.2H935.8zM932.3 1019.1H935.8V1022.7H932.3zM939.4 1019.1H942.9V1022.7H939.4zM935.8 1015.6H939.4V1019.1H935.8zM942.9 1015.6H946.4V1019.1H942.9zM939.4 1012.1H942.9V1015.6H939.4zM946.4 1012.1H949.9V1015.6H946.4zM942.9 1008.6H946.4V1012.1H942.9zM949.9 1008.6H953.5V1012.1H949.9zM946.4 1005.0H949.9V1008.6H946.4zM964.0 994.5H967.6V998.0H964.0zM960.5 990.9H964.0V994.5H960.5zM967.6 990.9H971.1V994.5H967.6zM964.0 987.4H967.6V990.9H964.0zM971.1 987.4H974.6V990.9H971.1zM967.6 983.9H971.1V987.4H967.6zM974.6 983.9H978.2V987.4H974.6zM971.1 980.3H974.6V983.9H971.1zM978.2 980.3H981.7V983.9H978.2zM974.6 976.8H978.2V980.3H974.6zM981.7 976.8H985.2V980.3H981.7zM978.2 973.3H981.7V976.8H978.2zM985.2 973.3H988.7V976.8H985.2zM981.7 969.8H985.2V973.3H981.7zM988.7 969.8H992.3V973.3H988.7zM890.0 966.2H893.5V969.8H890.0zM985.2 966.2H988.7V969.8H985.2zM921.7 955.6H925.2V959.2H921.7zM1002.9 955.6H1006.4V959.2H1002.9zM921.7 952.1H928.8V955.6H921.7zM999.3 952.1H1002.9V955.6H999.3zM1006.4 952.1H1009.9V955.6H1006.4zM1002.9 948.6H1006.4V952.1H1002.9zM1009.9 948.6H1013.4V952.1H1009.9zM1006.4 945.1H1009.9V948.6H1006.4zM1013.4 945.1H1017.0V948.6H1013.4zM1009.9 941.5H1013.4V945.1H1009.9zM1017.0 941.5H1020.5V945.1H1017.0zM1013.4 938.0H1017.0V941.5H1013.4zM1020.5 938.0H1024.0V941.5H1020.5zM1017.0 934.5H1020.5V938.0H1017.0zM1024.0 934.5H1031.1V938.0H1024.0zM1020.5 930.9H1024.0V934.5H1020.5zM1027.6 930.9H1034.6V934.5H1027.6zM1020.5 927.4H1027.6V930.9H1020.5zM1031.1 927.4H1034.6V930.9H1031.1zM1024.0 923.9H1031.1V927.4H1024.0zM1034.6 923.9H1038.1V927.4H1034.6zM1031.1 920.4H1034.6V923.9H1031.1zM1038.1 920.4H1041.7V923.9H1038.1zM1034.6 916.8H1038.1V920.4H1034.6zM1041.7 916.8H1048.7V920.4H1041.7zM1038.1 913.3H1041.7V916.8H1038.1zM1045.2 913.3H1052.2V916.8H1045.2zM1038.1 909.8H1045.2V913.3H1038.1zM1048.7 909.8H1052.2V913.3H1048.7zM1041.7 906.3H1048.7V909.8H1041.7zM1052.2 906.3H1055.8V909.8H1052.2zM1048.7 902.7H1052.2V906.3H1048.7zM1055.8 902.7H1059.3V906.3H1055.8zM1052.2 899.2H1055.8V902.7H1052.2zM1059.3 899.2H1066.4V902.7H1059.3zM1055.8 895.7H1059.3V899.2H1055.8zM1062.8 895.7H1066.4V899.2H1062.8zM1055.8 892.1H1062.8V895.7H1055.8zM1066.4 892.1H1073.4V895.7H1066.4zM1062.8 888.6H1066.4V892.1H1062.8zM1069.9 888.6H1076.9V892.1H1069.9zM1062.8 885.1H1069.9V888.6H1062.8zM1073.4 885.1H1080.5V888.6H1073.4zM1066.4 881.6H1073.4V885.1H1066.4zM1076.9 881.6H1080.5V885.1H1076.9zM1069.9 878.0H1076.9V881.6H1069.9zM1080.5 878.0H1084.0V881.6H1080.5zM1076.9 874.5H1080.5V878.0H1076.9zM1084.0 874.5H1091.1V878.0H1084.0zM1080.5 871.0H1084.0V874.5H1080.5zM1087.5 871.0H1091.1V874.5H1087.5zM1080.5 867.4H1087.5V871.0H1080.5zM1091.1 867.4H1094.6V871.0H1091.1zM1087.5 863.9H1091.1V867.4H1087.5zM1094.6 863.9H1101.6V867.4H1094.6zM1091.1 860.4H1094.6V863.9H1091.1zM1098.1 860.4H1101.6V863.9H1098.1zM1091.1 856.9H1098.1V860.4H1091.1zM1101.6 856.9H1108.7V860.4H1101.6zM1098.1 853.3H1101.6V856.9H1098.1zM1105.2 853.3H1112.2V856.9H1105.2zM1098.1 849.8H1105.2V853.3H1098.1zM1108.7 849.8H1112.2V853.3H1108.7zM1101.6 846.3H1108.7V849.8H1101.6zM1112.2 846.3H1115.8V849.8H1112.2zM1108.7 842.7H1112.2V846.3H1108.7zM1115.8 842.7H1122.8V846.3H1115.8zM1112.2 839.2H1115.8V842.7H1112.2zM1119.3 839.2H1122.8V842.7H1119.3zM1126.3 839.2H1129.9V842.7H1126.3zM1112.2 835.7H1119.3V839.2H1112.2zM1122.8 835.7H1126.3V839.2H1122.8zM1119.3 832.2H1122.8V835.7H1119.3zM1126.3 832.2H1129.9V835.7H1126.3zM1115.8 828.6H1119.3V832.2H1115.8zM1122.8 828.6H1126.3V832.2H1122.8zM1129.9 828.6H1133.4V832.2H1129.9zM1126.3 825.1H1129.9V828.6H1126.3zM1133.4 825.1H1136.9V828.6H1133.4zM1129.9 821.6H1133.4V825.1H1129.9zM1136.9 821.6H1144.0V825.1H1136.9zM1133.4 818.1H1136.9V821.6H1133.4zM1140.4 818.1H1144.0V821.6H1140.4zM1133.4 814.5H1140.4V818.1H1133.4zM1144.0 814.5H1151.0V818.1H1144.0zM1345.1 814.5H1352.1V818.1H1345.1zM1140.4 811.0H1144.0V814.5H1140.4zM1147.5 811.0H1151.0V814.5H1147.5zM1345.1 811.0H1348.6V814.5H1345.1zM1140.4 807.5H1147.5V811.0H1140.4zM1151.0 807.5H1154.6V811.0H1151.0zM1147.5 803.9H1151.0V807.5H1147.5zM1154.6 803.9H1158.1V807.5H1154.6zM1151.0 800.4H1154.6V803.9H1151.0zM1158.1 800.4H1161.6V803.9H1158.1zM1154.6 796.9H1158.1V800.4H1154.6zM1161.6 796.9H1165.1V800.4H1161.6zM1158.1 793.4H1161.6V796.9H1158.1zM1165.1 793.4H1168.7V796.9H1165.1zM1161.6 789.8H1165.1V793.4H1161.6zM1168.7 789.8H1172.2V793.4H1168.7zM1165.1 786.3H1168.7V789.8H1165.1zM1172.2 786.3H1175.7V789.8H1172.2zM1168.7 782.8H1172.2V786.3H1168.7zM1182.8 775.7H1186.3V779.2H1182.8zM1179.3 772.2H1182.8V775.7H1179.3zM1186.3 772.2H1189.8V775.7H1186.3zM1182.8 768.7H1186.3V772.2H1182.8zM1189.8 768.7H1193.4V772.2H1189.8zM1186.3 765.1H1189.8V768.7H1186.3zM1193.4 765.1H1196.9V768.7H1193.4zM1189.8 761.6H1193.4V765.1H1189.8zM1196.9 761.6H1200.4V765.1H1196.9zM1193.4 758.1H1196.9V761.6H1193.4zM1200.4 758.1H1204.0V761.6H1200.4zM1196.9 754.5H1200.4V758.1H1196.9zM1204.0 754.5H1207.5V758.1H1204.0zM1200.4 751.0H1204.0V754.5H1200.4zM1207.5 751.0H1211.0V754.5H1207.5zM1295.7 751.0H1299.2V754.5H1295.7zM1204.0 747.5H1207.5V751.0H1204.0zM1211.0 747.5H1214.5V751.0H1211.0zM1295.7 747.5H1299.2V751.0H1295.7zM1207.5 744.0H1211.0V747.5H1207.5zM1214.5 744.0H1218.1V747.5H1214.5zM1295.7 744.0H1299.2V747.5H1295.7zM1211.0 740.4H1214.5V744.0H1211.0zM1295.7 740.4H1299.2V744.0H1295.7zM1228.6 736.9H1232.2V740.4H1228.6zM1302.7 736.9H1306.3V740.4H1302.7zM1225.1 733.4H1228.6V736.9H1225.1zM1221.6 729.9H1225.1V733.4H1221.6zM1228.6 729.9H1232.2V733.4H1228.6zM1218.1 726.3H1221.6V729.9H1218.1zM1225.1 726.3H1228.6V729.9H1225.1zM1232.2 726.3H1235.7V729.9H1232.2zM1228.6 722.8H1232.2V726.3H1228.6zM1235.7 722.8H1239.2V726.3H1235.7zM1232.2 719.3H1235.7V722.8H1232.2zM1239.2 719.3H1246.3V722.8H1239.2zM1235.7 715.7H1239.2V719.3H1235.7zM1242.8 715.7H1246.3V719.3H1242.8zM1235.7 712.2H1242.8V715.7H1235.7zM1246.3 712.2H1253.3V715.7H1246.3zM1242.8 708.7H1246.3V712.2H1242.8zM1249.8 708.7H1256.9V712.2H1249.8zM1242.8 705.2H1249.8V708.7H1242.8zM1253.3 705.2H1260.4V708.7H1253.3zM1246.3 701.6H1253.3V705.2H1246.3zM1256.9 701.6H1260.4V705.2H1256.9zM1249.8 698.1H1256.9V701.6H1249.8zM1267.5 691.0H1271.0V694.6H1267.5zM1263.9 687.5H1267.5V691.0H1263.9zM1271.0 687.5H1278.0V691.0H1271.0zM1267.5 684.0H1271.0V687.5H1267.5zM1274.5 684.0H1278.0V687.5H1274.5zM1281.6 684.0H1285.1V687.5H1281.6zM1267.5 680.5H1274.5V684.0H1267.5zM1278.0 680.5H1281.6V684.0H1278.0zM1285.1 680.5H1288.6V684.0H1285.1zM1274.5 676.9H1278.0V680.5H1274.5zM1281.6 676.9H1288.6V680.5H1281.6zM1271.0 673.4H1274.5V676.9H1271.0zM1278.0 673.4H1281.6V676.9H1278.0zM1285.1 673.4H1288.6V676.9H1285.1zM1274.5 669.9H1285.1V673.4H1274.5zM1288.6 669.9H1292.2V673.4H1288.6zM1295.7 669.9H1299.2V673.4H1295.7zM1285.1 666.3H1288.6V669.9H1285.1zM1292.2 666.3H1295.7V669.9H1292.2zM1288.6 662.8H1292.2V666.3H1288.6zM1295.7 662.8H1299.2V666.3H1295.7zM1204.0 659.3H1218.1V662.8H1204.0zM1285.1 659.3H1288.6V662.8H1285.1zM1292.2 659.3H1295.7V662.8H1292.2zM1299.2 659.3H1302.7V662.8H1299.2zM1306.3 659.3H1309.8V662.8H1306.3zM1295.7 655.8H1299.2V659.3H1295.7zM1302.7 655.8H1309.8V659.3H1302.7zM1218.1 652.2H1221.6V655.8H1218.1zM1299.2 652.2H1302.7V655.8H1299.2zM1306.3 652.2H1309.8V655.8H1306.3zM1295.7 648.7H1306.3V652.2H1295.7zM1309.8 648.7H1316.8V652.2H1309.8zM1306.3 645.2H1309.8V648.7H1306.3zM1313.3 645.2H1316.8V648.7H1313.3zM1306.3 641.7H1313.3V645.2H1306.3zM1316.8 641.7H1320.4V645.2H1316.8zM1313.3 638.1H1316.8V641.7H1313.3zM1320.4 638.1H1323.9V641.7H1320.4zM1316.8 634.6H1320.4V638.1H1316.8zM1323.9 634.6H1331.0V638.1H1323.9zM1320.4 631.1H1323.9V634.6H1320.4zM1327.4 631.1H1334.5V634.6H1327.4zM1320.4 627.5H1327.4V631.1H1320.4zM1331.0 627.5H1338.0V631.1H1331.0zM1323.9 624.0H1331.0V627.5H1323.9zM1334.5 624.0H1338.0V627.5H1334.5zM1327.4 620.5H1334.5V624.0H1327.4zM1338.0 620.5H1341.5V624.0H1338.0zM1334.5 617.0H1338.0V620.5H1334.5zM1341.5 617.0H1345.1V620.5H1341.5zM1338.0 613.4H1341.5V617.0H1338.0zM1345.1 613.4H1348.6V617.0H1345.1zM1140.4 609.9H1147.5V613.4H1140.4zM1341.5 609.9H1345.1V613.4H1341.5zM1348.6 609.9H1352.1V613.4H1348.6zM1140.4 606.4H1144.0V609.9H1140.4zM1345.1 606.4H1348.6V609.9H1345.1zM1352.1 606.4H1355.7V609.9H1352.1zM1493.2 606.4H1496.8V609.9H1493.2zM1348.6 602.8H1352.1V606.4H1348.6zM1355.7 602.8H1359.2V606.4H1355.7zM1408.6 602.8H1415.6V606.4H1408.6zM1493.2 602.8H1496.8V606.4H1493.2zM1352.1 599.3H1355.7V602.8H1352.1zM1359.2 599.3H1362.7V602.8H1359.2zM1412.1 599.3H1419.2V602.8H1412.1zM1355.7 595.8H1359.2V599.3H1355.7zM1362.7 595.8H1366.2V599.3H1362.7zM1369.8 595.8H1373.3V599.3H1369.8zM1415.6 595.8H1419.2V599.3H1415.6zM1359.2 592.3H1362.7V595.8H1359.2zM1366.2 592.3H1369.8V595.8H1366.2zM1419.2 592.3H1426.2V595.8H1419.2zM1362.7 588.7H1366.2V592.3H1362.7zM1426.2 588.7H1429.7V592.3H1426.2zM1359.2 585.2H1362.7V588.7H1359.2zM1433.3 585.2H1436.8V588.7H1433.3zM1376.8 581.7H1380.4V585.2H1376.8zM1433.3 581.7H1440.3V585.2H1433.3zM1373.3 578.1H1376.8V581.7H1373.3zM1380.4 578.1H1383.9V581.7H1380.4zM1436.8 578.1H1443.9V581.7H1436.8zM1376.8 574.6H1380.4V578.1H1376.8zM1383.9 574.6H1387.4V578.1H1383.9zM1380.4 571.1H1383.9V574.6H1380.4zM1387.4 571.1H1390.9V574.6H1387.4zM1383.9 567.6H1387.4V571.1H1383.9zM1390.9 567.6H1394.5V571.1H1390.9zM1454.4 567.6H1458.0V571.1H1454.4zM1387.4 564.0H1390.9V567.6H1387.4zM1394.5 564.0H1398.0V567.6H1394.5zM1454.4 564.0H1461.5V567.6H1454.4zM1390.9 560.5H1394.5V564.0H1390.9zM1398.0 560.5H1401.5V564.0H1398.0zM1458.0 560.5H1465.0V564.0H1458.0zM1394.5 557.0H1398.0V560.5H1394.5zM1461.5 557.0H1465.0V560.5H1461.5zM1408.6 549.9H1412.1V553.5H1408.6zM1486.2 549.9H1489.7V553.5H1486.2zM1352.1 546.4H1355.7V549.9H1352.1zM1405.0 546.4H1408.6V549.9H1405.0zM1412.1 546.4H1415.6V549.9H1412.1zM1486.2 546.4H1489.7V549.9H1486.2zM1500.3 546.4H1503.8V549.9H1500.3zM1352.1 542.9H1359.2V546.4H1352.1zM1408.6 542.9H1412.1V546.4H1408.6zM1415.6 542.9H1419.2V546.4H1415.6zM1355.7 539.3H1362.7V542.9H1355.7zM1412.1 539.3H1415.6V542.9H1412.1zM1419.2 539.3H1422.7V542.9H1419.2zM1362.7 535.8H1366.2V539.3H1362.7zM1415.6 535.8H1419.2V539.3H1415.6zM1422.7 535.8H1426.2V539.3H1422.7zM1362.7 532.3H1366.2V535.8H1362.7zM1419.2 532.3H1422.7V535.8H1419.2zM1426.2 532.3H1429.7V535.8H1426.2zM1433.3 532.3H1436.8V535.8H1433.3zM1366.2 528.8H1369.8V532.3H1366.2zM1422.7 528.8H1426.2V532.3H1422.7zM1429.7 528.8H1433.3V532.3H1429.7zM1426.2 525.2H1429.7V528.8H1426.2zM1369.8 521.7H1376.8V525.2H1369.8zM1422.7 521.7H1426.2V525.2H1422.7zM1373.3 518.2H1380.4V521.7H1373.3zM1440.3 518.2H1447.4V521.7H1440.3zM1376.8 514.6H1380.4V518.2H1376.8zM1436.8 514.6H1440.3V518.2H1436.8zM1443.9 514.6H1447.4V518.2H1443.9zM1450.9 514.6H1454.4V518.2H1450.9zM1436.8 511.1H1443.9V514.6H1436.8zM1447.4 511.1H1450.9V514.6H1447.4zM1443.9 507.6H1447.4V511.1H1443.9zM1450.9 507.6H1458.0V511.1H1450.9zM1440.3 504.1H1443.9V507.6H1440.3zM1447.4 504.1H1450.9V507.6H1447.4zM1454.4 504.1H1458.0V507.6H1454.4zM1387.4 500.5H1394.5V504.1H1387.4zM1447.4 500.5H1454.4V504.1H1447.4zM1458.0 500.5H1461.5V504.1H1458.0zM1390.9 497.0H1398.0V500.5H1390.9zM1454.4 497.0H1458.0V500.5H1454.4zM1461.5 497.0H1465.0V500.5H1461.5zM1394.5 493.5H1401.5V497.0H1394.5zM1458.0 493.5H1461.5V497.0H1458.0zM1465.0 493.5H1468.6V497.0H1465.0zM1461.5 489.9H1465.0V493.5H1461.5zM1468.6 489.9H1472.1V493.5H1468.6zM1465.0 486.4H1468.6V489.9H1465.0zM1472.1 486.4H1475.6V489.9H1472.1zM1468.6 482.9H1472.1V486.4H1468.6zM1475.6 482.9H1479.1V486.4H1475.6zM1472.1 479.4H1475.6V482.9H1472.1zM1479.1 479.4H1482.7V482.9H1479.1zM1475.6 475.8H1479.1V479.4H1475.6zM1482.7 475.8H1486.2V479.4H1482.7zM1479.1 472.3H1482.7V475.8H1479.1zM1486.2 472.3H1493.2V475.8H1486.2zM1560.3 472.3H1563.8V475.8H1560.3zM1405.0 468.8H1412.1V472.3H1405.0zM1482.7 468.8H1486.2V472.3H1482.7zM1489.7 468.8H1496.8V472.3H1489.7zM1563.8 468.8H1567.3V472.3H1563.8zM1482.7 465.3H1489.7V468.8H1482.7zM1493.2 465.3H1496.8V468.8H1493.2zM1563.8 465.3H1567.3V468.8H1563.8zM1348.6 461.7H1355.7V465.3H1348.6zM1486.2 461.7H1493.2V465.3H1486.2zM1496.8 461.7H1500.3V465.3H1496.8zM1563.8 461.7H1570.9V465.3H1563.8zM1493.2 458.2H1496.8V461.7H1493.2zM1500.3 458.2H1503.8V461.7H1500.3zM1567.3 458.2H1570.9V461.7H1567.3zM1408.6 454.7H1412.1V458.2H1408.6zM1496.8 454.7H1500.3V458.2H1496.8zM1503.8 454.7H1507.4V458.2H1503.8zM1567.3 454.7H1574.4V458.2H1567.3zM1500.3 451.1H1503.8V454.7H1500.3zM1507.4 451.1H1510.9V454.7H1507.4zM1570.9 451.1H1574.4V454.7H1570.9zM1503.8 447.6H1507.4V451.1H1503.8zM1510.9 447.6H1514.4V451.1H1510.9zM1570.9 447.6H1577.9V451.1H1570.9zM1507.4 444.1H1510.9V447.6H1507.4zM1525.0 433.5H1528.5V437.0H1525.0zM1521.5 430.0H1525.0V433.5H1521.5zM1528.5 430.0H1532.1V433.5H1528.5zM1525.0 426.4H1528.5V430.0H1525.0zM1532.1 426.4H1535.6V430.0H1532.1zM1528.5 422.9H1532.1V426.4H1528.5zM1535.6 422.9H1539.1V426.4H1535.6zM1532.1 419.4H1535.6V422.9H1532.1zM1539.1 419.4H1542.6V422.9H1539.1zM1535.6 415.9H1539.1V419.4H1535.6zM1542.6 415.9H1546.2V419.4H1542.6zM1539.1 412.3H1542.6V415.9H1539.1zM1546.2 412.3H1549.7V415.9H1546.2zM1542.6 408.8H1546.2V412.3H1542.6zM1560.3 398.2H1563.8V401.7H1560.3zM1482.7 394.7H1486.2V398.2H1482.7zM1556.8 394.7H1560.3V398.2H1556.8zM1563.8 394.7H1567.3V398.2H1563.8zM1486.2 391.2H1496.8V394.7H1486.2zM1560.3 391.2H1563.8V394.7H1560.3zM1567.3 391.2H1570.9V394.7H1567.3zM1493.2 387.6H1503.8V391.2H1493.2zM1563.8 387.6H1567.3V391.2H1563.8zM1570.9 387.6H1574.4V391.2H1570.9zM1500.3 384.1H1510.9V387.6H1500.3zM1567.3 384.1H1570.9V387.6H1567.3zM1574.4 384.1H1577.9V387.6H1574.4zM1507.4 380.6H1510.9V384.1H1507.4zM1570.9 380.6H1574.4V384.1H1570.9zM1577.9 380.6H1581.4V384.1H1577.9zM1574.4 377.1H1577.9V380.6H1574.4zM1581.4 377.1H1585.0V380.6H1581.4zM1577.9 373.5H1581.4V377.1H1577.9zM1585.0 373.5H1588.5V377.1H1585.0zM1581.4 370.0H1585.0V373.5H1581.4zM1588.5 370.0H1592.0V373.5H1588.5zM1585.0 366.5H1588.5V370.0H1585.0zM1592.0 366.5H1595.6V370.0H1592.0zM1602.6 366.5H1606.1V370.0H1602.6zM1659.1 366.5H1662.6V370.0H1659.1zM1588.5 362.9H1592.0V366.5H1588.5zM1595.6 362.9H1599.1V366.5H1595.6zM1606.1 362.9H1609.7V366.5H1606.1zM1652.0 362.9H1655.5V366.5H1652.0zM1662.6 362.9H1666.1V366.5H1662.6zM1592.0 359.4H1595.6V362.9H1592.0zM1599.1 359.4H1602.6V362.9H1599.1zM1662.6 359.4H1666.1V362.9H1662.6zM1595.6 355.9H1599.1V359.4H1595.6zM1602.6 355.9H1606.1V359.4H1602.6zM1613.2 355.9H1616.7V359.4H1613.2zM1648.5 355.9H1652.0V359.4H1648.5zM1659.1 355.9H1662.6V359.4H1659.1zM1588.5 352.4H1592.0V355.9H1588.5zM1599.1 352.4H1602.6V355.9H1599.1zM1606.1 352.4H1609.7V355.9H1606.1zM1641.4 352.4H1648.5V355.9H1641.4zM1592.0 348.8H1595.6V352.4H1592.0zM1602.6 348.8H1606.1V352.4H1602.6zM1609.7 348.8H1613.2V352.4H1609.7zM1637.9 348.8H1645.0V352.4H1637.9zM1606.1 345.3H1609.7V348.8H1606.1zM1613.2 345.3H1616.7V348.8H1613.2zM1637.9 345.3H1641.4V348.8H1637.9zM1599.1 341.8H1602.6V345.3H1599.1zM1609.7 341.8H1613.2V345.3H1609.7zM1616.7 341.8H1620.3V345.3H1616.7zM1637.9 341.8H1641.4V345.3H1637.9zM1613.2 338.2H1616.7V341.8H1613.2zM1620.3 338.2H1623.8V341.8H1620.3zM1630.8 338.2H1634.4V341.8H1630.8zM1616.7 334.7H1620.3V338.2H1616.7zM1623.8 334.7H1627.3V338.2H1623.8zM1634.4 334.7H1637.9V338.2H1634.4zM1645.0 334.7H1648.5V338.2H1645.0zM1620.3 331.2H1623.8V334.7H1620.3zM1627.3 331.2H1630.8V334.7H1627.3zM1733.2 331.2H1736.7V334.7H1733.2zM1623.8 327.7H1627.3V331.2H1623.8zM1630.8 327.7H1634.4V331.2H1630.8zM1641.4 327.7H1645.0V331.2H1641.4zM1616.7 324.1H1620.3V327.7H1616.7zM1627.3 324.1H1630.8V327.7H1627.3zM1634.4 324.1H1637.9V327.7H1634.4zM1722.6 324.1H1726.1V327.7H1722.6zM1620.3 320.6H1623.8V324.1H1620.3zM1630.8 320.6H1634.4V324.1H1630.8zM1637.9 320.6H1641.4V324.1H1637.9zM1648.5 320.6H1652.0V324.1H1648.5zM1712.0 320.6H1715.5V324.1H1712.0zM1606.1 317.1H1616.7V320.6H1606.1zM1634.4 317.1H1637.9V320.6H1634.4zM1641.4 317.1H1645.0V320.6H1641.4zM1712.0 317.1H1715.5V320.6H1712.0zM1722.6 317.1H1726.1V320.6H1722.6zM1602.6 313.5H1609.7V317.1H1602.6zM1627.3 313.5H1630.8V317.1H1627.3zM1637.9 313.5H1641.4V317.1H1637.9zM1645.0 313.5H1648.5V317.1H1645.0zM1697.9 313.5H1704.9V317.1H1697.9zM1602.6 310.0H1606.1V313.5H1602.6zM1620.3 310.0H1623.8V313.5H1620.3zM1641.4 310.0H1645.0V313.5H1641.4zM1648.5 310.0H1652.0V313.5H1648.5zM1694.3 310.0H1697.9V313.5H1694.3zM1701.4 310.0H1704.9V313.5H1701.4zM1599.1 306.5H1602.6V310.0H1599.1zM1634.4 306.5H1637.9V310.0H1634.4zM1645.0 306.5H1648.5V310.0H1645.0zM1652.0 306.5H1655.5V310.0H1652.0zM1592.0 303.0H1595.6V306.5H1592.0zM1648.5 303.0H1652.0V306.5H1648.5zM1655.5 303.0H1659.1V306.5H1655.5zM1666.1 303.0H1669.6V306.5H1666.1zM1687.3 303.0H1694.3V306.5H1687.3zM1652.0 299.4H1655.5V303.0H1652.0zM1659.1 299.4H1662.6V303.0H1659.1zM1588.5 295.9H1592.0V299.4H1588.5zM1599.1 295.9H1602.6V299.4H1599.1zM1655.5 295.9H1659.1V299.4H1655.5zM1662.6 295.9H1666.1V299.4H1662.6zM1592.0 292.4H1599.1V295.9H1592.0zM1659.1 292.4H1662.6V295.9H1659.1zM1666.1 292.4H1669.6V295.9H1666.1zM1680.2 292.4H1683.8V295.9H1680.2zM1652.0 288.9H1655.5V292.4H1652.0zM1662.6 288.9H1666.1V292.4H1662.6zM1669.6 288.9H1673.2V292.4H1669.6zM1666.1 285.3H1669.6V288.9H1666.1zM1673.2 285.3H1676.7V288.9H1673.2zM1683.8 285.3H1687.3V288.9H1683.8zM1669.6 281.8H1673.2V285.3H1669.6zM1676.7 281.8H1680.2V285.3H1676.7zM1687.3 281.8H1690.8V285.3H1687.3zM1673.2 278.3H1676.7V281.8H1673.2zM1680.2 278.3H1683.8V281.8H1680.2zM1662.6 274.7H1666.1V278.3H1662.6zM1676.7 274.7H1680.2V278.3H1676.7zM1683.8 274.7H1687.3V278.3H1683.8zM1669.6 271.2H1673.2V274.7H1669.6zM1680.2 271.2H1683.8V274.7H1680.2zM1687.3 271.2H1690.8V274.7H1687.3zM1750.8 271.2H1754.3V274.7H1750.8zM1652.0 267.7H1655.5V271.2H1652.0zM1673.2 267.7H1676.7V271.2H1673.2zM1683.8 267.7H1687.3V271.2H1683.8zM1690.8 267.7H1694.3V271.2H1690.8zM1789.6 267.7H1793.1V271.2H1789.6zM1652.0 264.2H1655.5V267.7H1652.0zM1687.3 264.2H1690.8V267.7H1687.3zM1694.3 264.2H1697.9V267.7H1694.3zM1782.5 264.2H1786.1V267.7H1782.5zM1645.0 260.6H1648.5V264.2H1645.0zM1690.8 260.6H1694.3V264.2H1690.8zM1697.9 260.6H1701.4V264.2H1697.9zM1708.5 260.6H1712.0V264.2H1708.5zM1641.4 257.1H1645.0V260.6H1641.4zM1694.3 257.1H1697.9V260.6H1694.3zM1701.4 257.1H1704.9V260.6H1701.4zM1789.6 257.1H1796.7V260.6H1789.6zM1641.4 253.6H1648.5V257.1H1641.4zM1697.9 253.6H1701.4V257.1H1697.9zM1704.9 253.6H1708.5V257.1H1704.9zM1772.0 253.6H1775.5V257.1H1772.0zM1786.1 253.6H1789.6V257.1H1786.1zM1701.4 250.0H1704.9V253.6H1701.4zM1708.5 250.0H1712.0V253.6H1708.5zM1694.3 246.5H1697.9V250.0H1694.3zM1704.9 246.5H1708.5V250.0H1704.9zM1712.0 246.5H1715.5V250.0H1712.0zM1831.9 246.5H1835.5V250.0H1831.9zM1634.4 243.0H1641.4V246.5H1634.4zM1708.5 243.0H1712.0V246.5H1708.5zM1715.5 243.0H1719.0V246.5H1715.5zM1712.0 239.5H1715.5V243.0H1712.0zM1719.0 239.5H1722.6V243.0H1719.0zM1715.5 235.9H1719.0V239.5H1715.5zM1722.6 235.9H1726.1V239.5H1722.6zM1750.8 235.9H1754.3V239.5H1750.8zM1768.4 235.9H1772.0V239.5H1768.4zM1800.2 235.9H1803.7V239.5H1800.2zM1630.8 232.4H1634.4V235.9H1630.8zM1637.9 232.4H1641.4V235.9H1637.9zM1719.0 232.4H1722.6V235.9H1719.0zM1726.1 232.4H1729.6V235.9H1726.1zM1761.4 232.4H1764.9V235.9H1761.4zM1722.6 228.9H1726.1V232.4H1722.6zM1729.6 228.9H1733.2V232.4H1729.6zM1726.1 225.3H1729.6V228.9H1726.1zM1733.2 225.3H1736.7V228.9H1733.2zM1743.7 225.3H1747.3V228.9H1743.7zM1623.8 221.8H1627.3V225.3H1623.8zM1729.6 221.8H1733.2V225.3H1729.6zM1736.7 221.8H1740.2V225.3H1736.7zM1747.3 221.8H1754.3V225.3H1747.3zM1733.2 218.3H1736.7V221.8H1733.2zM1740.2 218.3H1743.7V221.8H1740.2zM1754.3 218.3H1757.8V221.8H1754.3zM1736.7 214.8H1740.2V218.3H1736.7zM1743.7 214.8H1747.3V218.3H1743.7zM1729.6 211.2H1733.2V214.8H1729.6zM1740.2 211.2H1743.7V214.8H1740.2zM1747.3 211.2H1750.8V214.8H1747.3zM1733.2 207.7H1736.7V211.2H1733.2zM1743.7 207.7H1747.3V211.2H1743.7zM1750.8 207.7H1754.3V211.2H1750.8zM1683.8 204.2H1687.3V207.7H1683.8zM1719.0 204.2H1722.6V207.7H1719.0zM1733.2 204.2H1736.7V207.7H1733.2zM1747.3 204.2H1750.8V207.7H1747.3zM1754.3 204.2H1757.8V207.7H1754.3zM1736.7 200.7H1740.2V204.2H1736.7zM1750.8 200.7H1754.3V204.2H1750.8zM1757.8 200.7H1761.4V204.2H1757.8zM1754.3 197.1H1757.8V200.7H1754.3zM1761.4 197.1H1764.9V200.7H1761.4zM1722.6 193.6H1726.1V197.1H1722.6zM1757.8 193.6H1761.4V197.1H1757.8zM1764.9 193.6H1768.4V197.1H1764.9zM1775.5 193.6H1779.0V197.1H1775.5zM1761.4 190.1H1764.9V193.6H1761.4zM1768.4 190.1H1772.0V193.6H1768.4zM1719.0 186.5H1722.6V190.1H1719.0zM1764.9 186.5H1768.4V190.1H1764.9zM1772.0 186.5H1775.5V190.1H1772.0zM1782.5 186.5H1786.1V190.1H1782.5zM1701.4 183.0H1704.9V186.5H1701.4zM1768.4 183.0H1772.0V186.5H1768.4zM1775.5 183.0H1779.0V186.5H1775.5zM1761.4 179.5H1764.9V183.0H1761.4zM1772.0 179.5H1775.5V183.0H1772.0zM1779.0 179.5H1782.5V183.0H1779.0zM1775.5 176.0H1779.0V179.5H1775.5zM1782.5 176.0H1786.1V179.5H1782.5zM1793.1 176.0H1796.7V179.5H1793.1zM1690.8 172.4H1694.3V176.0H1690.8zM1768.4 172.4H1772.0V176.0H1768.4zM1779.0 172.4H1782.5V176.0H1779.0zM1786.1 172.4H1789.6V176.0H1786.1zM1701.4 168.9H1704.9V172.4H1701.4zM1782.5 168.9H1786.1V172.4H1782.5zM1789.6 168.9H1793.1V172.4H1789.6zM1687.3 165.4H1690.8V168.9H1687.3zM1697.9 165.4H1701.4V168.9H1697.9zM1786.1 165.4H1789.6V168.9H1786.1zM1793.1 165.4H1796.7V168.9H1793.1zM1697.9 161.8H1701.4V165.4H1697.9zM1779.0 161.8H1782.5V165.4H1779.0zM1789.6 161.8H1793.1V165.4H1789.6zM1796.7 161.8H1800.2V165.4H1796.7zM1793.1 158.3H1796.7V161.8H1793.1zM1800.2 158.3H1803.7V161.8H1800.2zM1719.0 154.8H1722.6V158.3H1719.0zM1796.7 154.8H1800.2V158.3H1796.7zM1803.7 154.8H1807.2V158.3H1803.7zM1800.2 151.3H1803.7V154.8H1800.2zM1807.2 151.3H1810.8V154.8H1807.2zM1817.8 151.3H1821.4V154.8H1817.8zM1803.7 147.7H1807.2V151.3H1803.7zM1810.8 147.7H1814.3V151.3H1810.8zM1807.2 144.2H1810.8V147.7H1807.2zM1814.3 144.2H1817.8V147.7H1814.3zM1810.8 140.7H1814.3V144.2H1810.8zM1817.8 140.7H1821.4V144.2H1817.8zM1828.4 140.7H1831.9V144.2H1828.4zM1803.7 137.1H1807.2V140.7H1803.7zM1814.3 137.1H1817.8V140.7H1814.3zM1821.4 137.1H1824.9V140.7H1821.4zM1817.8 133.6H1821.4V137.1H1817.8zM1824.9 133.6H1828.4V137.1H1824.9zM1835.5 133.6H1839.0V137.1H1835.5zM1821.4 130.1H1824.9V133.6H1821.4zM1828.4 130.1H1831.9V133.6H1828.4zM1814.3 126.6H1817.8V130.1H1814.3zM1824.9 126.6H1828.4V130.1H1824.9zM1831.9 126.6H1835.5V130.1H1831.9zM1708.5 123.0H1712.0V126.6H1708.5zM1828.4 123.0H1831.9V126.6H1828.4zM1835.5 123.0H1839.0V126.6H1835.5zM1821.4 119.5H1824.9V123.0H1821.4zM1831.9 119.5H1835.5V123.0H1831.9z"/><path fill="#FF5200" d="M244.3 1721.2H247.9V1724.7H244.3zM247.9 1714.2H254.9V1717.7H247.9zM233.8 1710.6H237.3V1714.2H233.8zM251.4 1710.6H254.9V1714.2H251.4zM240.8 1707.1H244.3V1710.6H240.8zM258.4 1707.1H262.0V1710.6H258.4zM240.8 1703.6H247.9V1707.1H240.8zM258.4 1703.6H265.5V1707.1H258.4zM262.0 1700.1H269.0V1703.6H262.0zM247.9 1696.5H254.9V1700.1H247.9zM265.5 1696.5H272.6V1700.1H265.5zM251.4 1693.0H258.4V1696.5H251.4zM269.0 1693.0H272.6V1696.5H269.0zM254.9 1689.5H262.0V1693.0H254.9zM258.4 1685.9H265.5V1689.5H258.4zM283.1 1678.9H286.7V1682.4H283.1zM286.7 1675.4H293.7V1678.9H286.7zM276.1 1671.8H279.6V1675.4H276.1zM290.2 1671.8H297.3V1675.4H290.2zM279.6 1668.3H283.1V1671.8H279.6zM279.6 1664.8H286.7V1668.3H279.6zM297.3 1664.8H304.3V1668.3H297.3zM283.1 1661.2H286.7V1664.8H283.1zM290.2 1657.7H293.7V1661.2H290.2zM304.3 1657.7H311.4V1661.2H304.3zM290.2 1654.2H293.7V1657.7H290.2zM307.8 1654.2H311.4V1657.7H307.8zM297.3 1650.7H300.8V1654.2H297.3zM297.3 1647.1H304.3V1650.7H297.3zM329.0 1636.5H332.5V1640.1H329.0zM318.4 1626.0H322.0V1629.5H318.4zM346.6 1618.9H350.2V1622.4H346.6zM346.6 1615.4H350.2V1618.9H346.6zM350.2 1611.9H353.7V1615.4H350.2zM336.1 1608.3H343.1V1611.9H336.1zM343.1 1604.8H346.6V1608.3H343.1zM357.2 1604.8H360.8V1608.3H357.2zM360.8 1601.3H364.3V1604.8H360.8zM350.2 1597.7H353.7V1601.3H350.2zM353.7 1594.2H357.2V1597.7H353.7zM367.8 1594.2H371.3V1597.7H367.8zM371.3 1590.7H374.9V1594.2H371.3zM360.8 1587.2H364.3V1590.7H360.8zM374.9 1587.2H381.9V1590.7H374.9zM364.3 1583.6H367.8V1587.2H364.3zM381.9 1583.6H385.5V1587.2H381.9zM367.8 1580.1H371.3V1583.6H367.8zM381.9 1580.1H385.5V1583.6H381.9zM367.8 1576.6H371.3V1580.1H367.8zM385.5 1576.6H389.0V1580.1H385.5zM371.3 1573.0H378.4V1576.6H371.3zM392.5 1573.0H396.0V1576.6H392.5zM378.4 1569.5H381.9V1573.0H378.4zM381.9 1562.5H385.5V1566.0H381.9zM406.6 1558.9H410.2V1562.5H406.6zM551.3 1551.9H554.8V1555.4H551.3zM396.0 1548.3H399.6V1551.9H396.0zM551.3 1548.3H554.8V1551.9H551.3zM424.3 1541.3H427.8V1544.8H424.3zM413.7 1530.7H417.2V1534.2H413.7zM452.5 1513.1H456.0V1516.6H452.5zM441.9 1502.5H445.4V1506.0H441.9zM484.2 1481.3H487.8V1484.8H484.2zM487.8 1474.3H494.8V1477.8H487.8zM473.7 1470.7H477.2V1474.3H473.7zM480.7 1467.2H484.2V1470.7H480.7zM480.7 1463.7H484.2V1467.2H480.7zM501.9 1460.1H505.4V1463.7H501.9zM505.4 1456.6H512.5V1460.1H505.4zM494.8 1453.1H498.4V1456.6H494.8zM508.9 1453.1H512.5V1456.6H508.9zM498.4 1449.6H501.9V1453.1H498.4zM512.5 1449.6H519.5V1453.1H512.5zM498.4 1446.0H505.4V1449.6H498.4zM516.0 1446.0H523.0V1449.6H516.0zM505.4 1442.5H508.9V1446.0H505.4zM505.4 1439.0H512.5V1442.5H505.4zM523.0 1439.0H526.6V1442.5H523.0zM508.9 1435.5H512.5V1439.0H508.9zM526.6 1435.5H533.6V1439.0H526.6zM657.1 1435.5H660.6V1439.0H657.1zM516.0 1431.9H519.5V1435.5H516.0zM530.1 1431.9H533.6V1435.5H530.1zM660.6 1431.9H664.2V1435.5H660.6zM519.5 1428.4H523.0V1431.9H519.5zM533.6 1428.4H537.2V1431.9H533.6zM519.5 1424.9H526.6V1428.4H519.5zM526.6 1421.3H530.1V1424.9H526.6zM547.7 1417.8H551.3V1421.3H547.7zM547.7 1414.3H551.3V1417.8H547.7zM551.3 1410.8H554.8V1414.3H551.3zM537.2 1407.2H544.2V1410.8H537.2zM403.1 1403.7H410.2V1407.2H403.1zM544.2 1403.7H547.7V1407.2H544.2zM558.3 1403.7H561.9V1407.2H558.3zM561.9 1400.2H568.9V1403.7H561.9zM625.4 1400.2H628.9V1403.7H625.4zM695.9 1400.2H699.4V1403.7H695.9zM551.3 1396.6H554.8V1400.2H551.3zM565.4 1396.6H568.9V1400.2H565.4zM625.4 1396.6H632.4V1400.2H625.4zM695.9 1396.6H699.4V1400.2H695.9zM554.8 1393.1H558.3V1396.6H554.8zM628.9 1393.1H635.9V1396.6H628.9zM554.8 1389.6H561.9V1393.1H554.8zM632.4 1389.6H635.9V1393.1H632.4zM635.9 1386.1H639.5V1389.6H635.9zM590.1 1375.5H593.6V1379.0H590.1zM579.5 1364.9H583.0V1368.4H579.5zM604.2 1361.4H607.7V1364.9H604.2zM607.7 1357.8H611.2V1361.4H607.7zM607.7 1354.3H611.2V1357.8H607.7zM593.6 1350.8H597.1V1354.3H593.6zM597.1 1347.3H604.2V1350.8H597.1zM554.8 1329.6H561.9V1333.1H554.8zM558.3 1326.1H565.4V1329.6H558.3zM561.9 1322.6H568.9V1326.1H561.9zM639.5 1322.6H646.5V1326.1H639.5zM568.9 1319.0H572.4V1322.6H568.9zM643.0 1319.0H646.5V1322.6H643.0zM632.4 1315.5H635.9V1319.0H632.4zM646.5 1315.5H650.1V1319.0H646.5zM632.4 1312.0H639.5V1315.5H632.4zM639.5 1308.4H643.0V1312.0H639.5zM657.1 1304.9H660.6V1308.4H657.1zM660.6 1301.4H664.2V1304.9H660.6zM519.5 1297.9H523.0V1301.4H519.5zM650.1 1297.9H653.6V1301.4H650.1zM523.0 1294.3H526.6V1297.9H523.0zM653.6 1294.3H657.1V1297.9H653.6zM667.7 1294.3H671.2V1297.9H667.7zM671.2 1290.8H674.8V1294.3H671.2zM660.6 1287.3H664.2V1290.8H660.6zM674.8 1287.3H678.3V1290.8H674.8zM664.2 1283.7H667.7V1287.3H664.2zM667.7 1280.2H671.2V1283.7H667.7zM685.3 1276.7H688.9V1280.2H685.3zM688.9 1273.2H692.4V1276.7H688.9zM678.3 1269.6H681.8V1273.2H678.3zM692.4 1269.6H695.9V1273.2H692.4zM681.8 1266.1H685.3V1269.6H681.8zM685.3 1262.6H688.9V1266.1H685.3zM699.4 1262.6H706.5V1266.1H699.4zM554.8 1259.1H561.9V1262.6H554.8zM703.0 1259.1H710.0V1262.6H703.0zM692.4 1255.5H695.9V1259.1H692.4zM706.5 1255.5H710.0V1259.1H706.5zM692.4 1252.0H699.4V1255.5H692.4zM710.0 1252.0H717.1V1255.5H710.0zM695.9 1248.5H703.0V1252.0H695.9zM703.0 1244.9H706.5V1248.5H703.0zM720.6 1244.9H724.1V1248.5H720.6zM703.0 1241.4H706.5V1244.9H703.0zM720.6 1241.4H724.1V1244.9H720.6zM724.1 1237.9H727.7V1241.4H724.1zM710.0 1234.4H717.1V1237.9H710.0zM717.1 1230.8H720.6V1234.4H717.1zM738.3 1223.8H741.8V1227.3H738.3zM741.8 1220.2H745.3V1223.8H741.8zM731.2 1216.7H734.7V1220.2H731.2zM745.3 1216.7H748.8V1220.2H745.3zM734.7 1213.2H738.3V1216.7H734.7zM748.8 1213.2H752.4V1216.7H748.8zM738.3 1209.7H741.8V1213.2H738.3zM752.4 1209.7H755.9V1213.2H752.4zM741.8 1206.1H745.3V1209.7H741.8zM745.3 1202.6H748.8V1206.1H745.3zM801.8 1163.8H805.3V1167.3H801.8zM791.2 1153.2H794.7V1156.7H791.2zM812.3 1153.2H815.9V1156.7H812.3zM801.8 1142.6H805.3V1146.2H801.8zM830.0 1132.0H833.5V1135.6H830.0zM833.5 1128.5H837.0V1132.0H833.5zM822.9 1125.0H826.5V1128.5H822.9zM837.0 1125.0H840.6V1128.5H837.0zM826.5 1121.5H830.0V1125.0H826.5zM840.6 1121.5H844.1V1125.0H840.6zM830.0 1117.9H833.5V1121.5H830.0zM833.5 1114.4H837.0V1117.9H833.5zM847.6 1114.4H851.2V1117.9H847.6zM851.2 1110.9H854.7V1114.4H851.2zM840.6 1107.3H844.1V1110.9H840.6zM858.2 1107.3H861.7V1110.9H858.2zM844.1 1103.8H847.6V1107.3H844.1zM858.2 1103.8H861.7V1107.3H858.2zM861.7 1100.3H868.8V1103.8H861.7zM847.6 1096.8H854.7V1100.3H847.6zM865.3 1096.8H872.3V1100.3H865.3zM854.7 1093.2H858.2V1096.8H854.7zM872.3 1093.2H875.8V1096.8H872.3zM854.7 1089.7H861.7V1093.2H854.7zM858.2 1086.2H861.7V1089.7H858.2zM875.8 1086.2H882.9V1089.7H875.8zM861.7 1082.7H865.3V1086.2H861.7zM879.4 1082.7H882.9V1086.2H879.4zM868.8 1079.1H872.3V1082.7H868.8zM868.8 1075.6H875.8V1079.1H868.8zM890.0 1072.1H893.5V1075.6H890.0zM882.9 1065.0H886.4V1068.5H882.9zM897.0 1065.0H900.5V1068.5H897.0zM890.0 1058.0H893.5V1061.5H890.0zM911.1 1050.9H914.7V1054.4H911.1zM914.7 1047.4H918.2V1050.9H914.7zM904.1 1043.8H907.6V1047.4H904.1zM918.2 1043.8H921.7V1047.4H918.2zM907.6 1040.3H911.1V1043.8H907.6zM921.7 1040.3H925.2V1043.8H921.7zM911.1 1036.8H914.7V1040.3H911.1zM928.8 1036.8H932.3V1040.3H928.8zM914.7 1033.3H918.2V1036.8H914.7zM918.2 1026.2H921.7V1029.7H918.2zM1002.9 1026.2H1009.9V1029.7H1002.9zM1006.4 1022.7H1013.4V1026.2H1006.4zM1009.9 1019.1H1013.4V1022.7H1009.9zM1013.4 1015.6H1017.0V1019.1H1013.4zM981.7 983.9H985.2V987.4H981.7zM971.1 973.3H974.6V976.8H971.1zM928.8 952.1H932.3V955.6H928.8zM1013.4 952.1H1017.0V955.6H1013.4zM928.8 948.6H935.8V952.1H928.8zM932.3 945.1H939.4V948.6H932.3zM939.4 941.5H942.9V945.1H939.4zM1002.9 941.5H1006.4V945.1H1002.9zM1024.0 938.0H1027.6V941.5H1024.0zM1017.0 930.9H1020.5V934.5H1017.0zM1034.6 927.4H1038.1V930.9H1034.6zM1038.1 923.9H1041.7V927.4H1038.1zM1027.6 920.4H1031.1V923.9H1027.6zM1041.7 920.4H1045.2V923.9H1041.7zM1031.1 916.8H1034.6V920.4H1031.1zM1034.6 913.3H1038.1V916.8H1034.6zM1052.2 909.8H1055.8V913.3H1052.2zM1055.8 906.3H1059.3V909.8H1055.8zM1045.2 902.7H1048.7V906.3H1045.2zM1059.3 902.7H1062.8V906.3H1059.3zM1066.4 902.7H1073.4V906.3H1066.4zM1048.7 899.2H1052.2V902.7H1048.7zM1069.9 899.2H1076.9V902.7H1069.9zM1052.2 895.7H1055.8V899.2H1052.2zM1069.9 895.7H1076.9V899.2H1069.9zM1076.9 892.1H1084.0V895.7H1076.9zM1052.2 888.6H1055.8V892.1H1052.2zM1076.9 888.6H1087.5V892.1H1076.9zM1052.2 885.1H1062.8V888.6H1052.2zM1080.5 885.1H1087.5V888.6H1080.5zM1055.8 881.6H1062.8V885.1H1055.8zM1087.5 881.6H1094.6V885.1H1087.5zM1062.8 878.0H1069.9V881.6H1062.8zM1087.5 878.0H1098.1V881.6H1087.5zM1062.8 874.5H1073.4V878.0H1062.8zM1091.1 874.5H1101.6V878.0H1091.1zM1066.4 871.0H1073.4V874.5H1066.4zM1098.1 871.0H1101.6V874.5H1098.1zM1073.4 867.4H1080.5V871.0H1073.4zM1073.4 863.9H1084.0V867.4H1073.4zM1076.9 860.4H1084.0V863.9H1076.9zM1101.6 860.4H1105.2V863.9H1101.6zM1080.5 856.9H1087.5V860.4H1080.5zM1094.6 853.3H1098.1V856.9H1094.6zM1112.2 849.8H1119.3V853.3H1112.2zM1115.8 846.3H1119.3V849.8H1115.8zM1105.2 842.7H1108.7V846.3H1105.2zM1105.2 839.2H1112.2V842.7H1105.2zM1122.8 839.2H1126.3V842.7H1122.8zM1126.3 835.7H1129.9V839.2H1126.3zM1115.8 832.2H1119.3V835.7H1115.8zM1129.9 832.2H1133.4V835.7H1129.9zM1119.3 828.6H1122.8V832.2H1119.3zM1133.4 828.6H1136.9V832.2H1133.4zM1122.8 825.1H1126.3V828.6H1122.8zM1136.9 825.1H1140.4V828.6H1136.9zM1126.3 821.6H1129.9V825.1H1126.3zM1129.9 818.1H1133.4V821.6H1129.9zM1144.0 818.1H1147.5V821.6H1144.0zM1151.0 814.5H1154.6V818.1H1151.0zM1136.9 811.0H1140.4V814.5H1136.9zM1158.1 807.5H1161.6V811.0H1158.1zM1140.4 803.9H1144.0V807.5H1140.4zM1147.5 796.9H1151.0V800.4H1147.5zM1172.2 793.4H1175.7V796.9H1172.2zM1161.6 782.8H1165.1V786.3H1161.6zM1193.4 772.2H1196.9V775.7H1193.4zM1200.4 765.1H1204.0V768.7H1200.4zM1182.8 761.6H1186.3V765.1H1182.8zM1189.8 754.5H1193.4V758.1H1189.8zM1228.6 733.4H1235.7V736.9H1228.6zM1232.2 729.9H1235.7V733.4H1232.2zM1221.6 726.3H1225.1V729.9H1221.6zM1235.7 726.3H1242.8V729.9H1235.7zM1221.6 722.8H1228.6V726.3H1221.6zM1239.2 722.8H1246.3V726.3H1239.2zM1228.6 719.3H1232.2V722.8H1228.6zM1246.3 719.3H1249.8V722.8H1246.3zM1228.6 715.7H1235.7V719.3H1228.6zM1246.3 715.7H1253.3V719.3H1246.3zM1232.2 712.2H1235.7V715.7H1232.2zM1235.7 708.7H1242.8V712.2H1235.7zM1239.2 705.2H1242.8V708.7H1239.2zM1271.0 691.0H1274.5V694.6H1271.0zM1263.9 684.0H1267.5V687.5H1263.9zM1278.0 684.0H1281.6V687.5H1278.0zM1281.6 680.5H1285.1V684.0H1281.6zM1271.0 676.9H1274.5V680.5H1271.0zM1274.5 673.4H1278.0V676.9H1274.5zM1288.6 673.4H1292.2V676.9H1288.6zM1292.2 669.9H1295.7V673.4H1292.2zM1281.6 666.3H1285.1V669.9H1281.6zM1295.7 666.3H1302.7V669.9H1295.7zM1285.1 662.8H1288.6V666.3H1285.1zM1299.2 662.8H1306.3V666.3H1299.2zM1288.6 659.3H1292.2V662.8H1288.6zM1302.7 659.3H1306.3V662.8H1302.7zM1288.6 655.8H1295.7V659.3H1288.6zM1309.8 655.8H1313.3V659.3H1309.8zM1292.2 652.2H1299.2V655.8H1292.2zM1309.8 652.2H1313.3V655.8H1309.8zM1299.2 645.2H1306.3V648.7H1299.2zM1316.8 645.2H1320.4V648.7H1316.8zM1320.4 641.7H1323.9V645.2H1320.4zM1309.8 638.1H1313.3V641.7H1309.8zM1323.9 638.1H1327.4V641.7H1323.9zM1313.3 634.6H1316.8V638.1H1313.3zM1316.8 631.1H1320.4V634.6H1316.8zM1338.0 624.0H1341.5V627.5H1338.0zM1341.5 620.5H1345.1V624.0H1341.5zM1331.0 617.0H1334.5V620.5H1331.0zM1345.1 617.0H1352.1V620.5H1345.1zM1334.5 613.4H1338.0V617.0H1334.5zM1348.6 613.4H1355.7V617.0H1348.6zM1338.0 609.9H1341.5V613.4H1338.0zM1352.1 609.9H1359.2V613.4H1352.1zM1338.0 606.4H1345.1V609.9H1338.0zM1355.7 606.4H1362.7V609.9H1355.7zM1341.5 602.8H1348.6V606.4H1341.5zM1359.2 602.8H1366.2V606.4H1359.2zM1345.1 599.3H1352.1V602.8H1345.1zM1362.7 599.3H1369.8V602.8H1362.7zM1348.6 595.8H1355.7V599.3H1348.6zM1366.2 595.8H1369.8V599.3H1366.2zM1352.1 592.3H1359.2V595.8H1352.1zM1355.7 588.7H1362.7V592.3H1355.7zM1387.4 578.1H1390.9V581.7H1387.4zM1376.8 567.6H1380.4V571.1H1376.8zM1429.7 535.8H1433.3V539.3H1429.7zM1419.2 525.2H1422.7V528.8H1419.2zM1443.9 521.7H1447.4V525.2H1443.9zM1447.4 514.6H1450.9V518.2H1447.4zM1433.3 511.1H1436.8V514.6H1433.3zM1450.9 511.1H1454.4V514.6H1450.9zM1440.3 507.6H1443.9V511.1H1440.3zM1443.9 504.1H1447.4V507.6H1443.9zM1458.0 504.1H1461.5V507.6H1458.0zM1461.5 500.5H1465.0V504.1H1461.5zM1450.9 497.0H1454.4V500.5H1450.9zM1465.0 497.0H1468.6V500.5H1465.0zM1454.4 493.5H1458.0V497.0H1454.4zM1468.6 493.5H1472.1V497.0H1468.6zM1458.0 489.9H1461.5V493.5H1458.0zM1472.1 489.9H1475.6V493.5H1472.1zM1461.5 486.4H1465.0V489.9H1461.5zM1475.6 486.4H1479.1V489.9H1475.6zM1465.0 482.9H1468.6V486.4H1465.0zM1479.1 482.9H1482.7V486.4H1479.1zM1468.6 479.4H1472.1V482.9H1468.6zM1482.7 479.4H1486.2V482.9H1482.7zM1472.1 475.8H1475.6V479.4H1472.1zM1486.2 475.8H1489.7V479.4H1486.2zM1475.6 472.3H1479.1V475.8H1475.6zM1479.1 468.8H1482.7V472.3H1479.1zM1496.8 468.8H1500.3V472.3H1496.8zM1503.8 461.7H1507.4V465.3H1503.8zM1486.2 458.2H1489.7V461.7H1486.2zM1510.9 454.7H1514.4V458.2H1510.9zM1493.2 451.1H1496.8V454.7H1493.2zM1514.4 451.1H1517.9V454.7H1514.4zM1500.3 444.1H1503.8V447.6H1500.3zM1503.8 440.6H1507.4V444.1H1503.8zM1546.2 419.4H1549.7V422.9H1546.2zM1535.6 408.8H1539.1V412.3H1535.6zM1563.8 401.7H1567.3V405.3H1563.8zM1553.2 391.2H1556.8V394.7H1553.2zM1577.9 387.6H1581.4V391.2H1577.9zM1567.3 377.1H1570.9V380.6H1567.3zM1592.0 373.5H1595.6V377.1H1592.0zM1595.6 370.0H1599.1V373.5H1595.6zM1599.1 366.5H1602.6V370.0H1599.1zM1581.4 362.9H1585.0V366.5H1581.4zM1602.6 362.9H1606.1V366.5H1602.6zM1585.0 359.4H1588.5V362.9H1585.0zM1606.1 359.4H1613.2V362.9H1606.1zM1588.5 355.9H1592.0V359.4H1588.5zM1609.7 355.9H1613.2V359.4H1609.7zM1592.0 352.4H1595.6V355.9H1592.0zM1613.2 352.4H1620.3V355.9H1613.2zM1595.6 348.8H1599.1V352.4H1595.6zM1616.7 348.8H1623.8V352.4H1616.7zM1595.6 345.3H1602.6V348.8H1595.6zM1620.3 345.3H1627.3V348.8H1620.3zM1602.6 341.8H1606.1V345.3H1602.6zM1623.8 341.8H1630.8V345.3H1623.8zM1602.6 338.2H1609.7V341.8H1602.6zM1627.3 338.2H1630.8V341.8H1627.3zM1606.1 334.7H1613.2V338.2H1606.1zM1609.7 331.2H1616.7V334.7H1609.7zM1634.4 331.2H1641.4V334.7H1634.4zM1613.2 327.7H1620.3V331.2H1613.2zM1637.9 327.7H1641.4V331.2H1637.9zM1641.4 324.1H1648.5V327.7H1641.4zM1623.8 320.6H1627.3V324.1H1623.8zM1645.0 320.6H1648.5V324.1H1645.0zM1623.8 317.1H1630.8V320.6H1623.8zM1648.5 317.1H1655.5V320.6H1648.5zM1630.8 313.5H1634.4V317.1H1630.8zM1652.0 313.5H1659.1V317.1H1652.0zM1630.8 310.0H1637.9V313.5H1630.8zM1655.5 310.0H1662.6V313.5H1655.5zM1637.9 306.5H1641.4V310.0H1637.9zM1659.1 306.5H1666.1V310.0H1659.1zM1637.9 303.0H1645.0V306.5H1637.9zM1662.6 303.0H1666.1V306.5H1662.6zM1641.4 299.4H1648.5V303.0H1641.4zM1666.1 299.4H1673.2V303.0H1666.1zM1645.0 295.9H1652.0V299.4H1645.0zM1669.6 295.9H1676.7V299.4H1669.6zM1648.5 292.4H1655.5V295.9H1648.5zM1673.2 292.4H1680.2V295.9H1673.2zM1655.5 288.9H1659.1V292.4H1655.5zM1676.7 288.9H1680.2V292.4H1676.7zM1655.5 285.3H1662.6V288.9H1655.5zM1680.2 285.3H1683.8V288.9H1680.2zM1659.1 281.8H1666.1V285.3H1659.1zM1683.8 281.8H1687.3V285.3H1683.8zM1662.6 278.3H1669.6V281.8H1662.6zM1687.3 278.3H1694.3V281.8H1687.3zM1669.6 274.7H1673.2V278.3H1669.6zM1690.8 274.7H1697.9V278.3H1690.8zM1673.2 271.2H1676.7V274.7H1673.2zM1694.3 271.2H1701.4V274.7H1694.3zM1676.7 267.7H1680.2V271.2H1676.7zM1697.9 267.7H1704.9V271.2H1697.9zM1676.7 264.2H1683.8V267.7H1676.7zM1701.4 264.2H1708.5V267.7H1701.4zM1680.2 260.6H1687.3V264.2H1680.2zM1704.9 260.6H1708.5V264.2H1704.9zM1683.8 257.1H1690.8V260.6H1683.8zM1708.5 257.1H1715.5V260.6H1708.5zM1687.3 253.6H1694.3V257.1H1687.3zM1712.0 253.6H1719.0V257.1H1712.0zM1690.8 250.0H1697.9V253.6H1690.8zM1715.5 250.0H1722.6V253.6H1715.5zM1697.9 246.5H1701.4V250.0H1697.9zM1719.0 246.5H1726.1V250.0H1719.0zM1697.9 243.0H1704.9V246.5H1697.9zM1722.6 243.0H1729.6V246.5H1722.6zM1701.4 239.5H1708.5V243.0H1701.4zM1726.1 239.5H1733.2V243.0H1726.1zM1704.9 235.9H1712.0V239.5H1704.9zM1729.6 235.9H1736.7V239.5H1729.6zM1708.5 232.4H1715.5V235.9H1708.5zM1733.2 232.4H1740.2V235.9H1733.2zM1712.0 228.9H1719.0V232.4H1712.0zM1736.7 228.9H1743.7V232.4H1736.7zM1715.5 225.3H1722.6V228.9H1715.5zM1740.2 225.3H1743.7V228.9H1740.2zM1719.0 221.8H1726.1V225.3H1719.0zM1743.7 221.8H1747.3V225.3H1743.7zM1722.6 218.3H1729.6V221.8H1722.6zM1747.3 218.3H1750.8V221.8H1747.3zM1726.1 214.8H1733.2V218.3H1726.1zM1754.3 214.8H1757.8V218.3H1754.3zM1733.2 211.2H1736.7V214.8H1733.2zM1754.3 211.2H1761.4V214.8H1754.3zM1736.7 207.7H1740.2V211.2H1736.7zM1757.8 207.7H1764.9V211.2H1757.8zM1761.4 204.2H1768.4V207.7H1761.4zM1740.2 200.7H1747.3V204.2H1740.2zM1764.9 200.7H1772.0V204.2H1764.9zM1743.7 197.1H1750.8V200.7H1743.7zM1768.4 197.1H1775.5V200.7H1768.4zM1747.3 193.6H1754.3V197.1H1747.3zM1772.0 193.6H1775.5V197.1H1772.0zM1750.8 190.1H1757.8V193.6H1750.8zM1775.5 190.1H1782.5V193.6H1775.5zM1754.3 186.5H1761.4V190.1H1754.3zM1779.0 186.5H1782.5V190.1H1779.0zM1757.8 183.0H1764.9V186.5H1757.8zM1782.5 183.0H1789.6V186.5H1782.5zM1764.9 179.5H1768.4V183.0H1764.9zM1786.1 179.5H1793.1V183.0H1786.1zM1764.9 176.0H1772.0V179.5H1764.9zM1789.6 176.0H1793.1V179.5H1789.6zM1772.0 172.4H1775.5V176.0H1772.0zM1793.1 172.4H1800.2V176.0H1793.1zM1772.0 168.9H1779.0V172.4H1772.0zM1796.7 168.9H1803.7V172.4H1796.7zM1775.5 165.4H1782.5V168.9H1775.5zM1800.2 165.4H1807.2V168.9H1800.2zM1782.5 161.8H1786.1V165.4H1782.5zM1803.7 161.8H1810.8V165.4H1803.7zM1782.5 158.3H1789.6V161.8H1782.5zM1807.2 158.3H1814.3V161.8H1807.2zM1786.1 154.8H1793.1V158.3H1786.1zM1810.8 154.8H1817.8V158.3H1810.8zM1789.6 151.3H1796.7V154.8H1789.6zM1814.3 151.3H1817.8V154.8H1814.3zM1793.1 147.7H1800.2V151.3H1793.1zM1817.8 147.7H1824.9V151.3H1817.8zM1796.7 144.2H1803.7V147.7H1796.7zM1821.4 144.2H1828.4V147.7H1821.4zM1800.2 140.7H1807.2V144.2H1800.2zM1824.9 140.7H1828.4V144.2H1824.9zM1807.2 137.1H1810.8V140.7H1807.2zM1828.4 137.1H1835.5V140.7H1828.4zM1807.2 133.6H1814.3V137.1H1807.2zM1831.9 133.6H1835.5V137.1H1831.9zM1810.8 130.1H1817.8V133.6H1810.8zM1835.5 130.1H1839.0V133.6H1835.5zM1817.8 126.6H1821.4V130.1H1817.8zM1817.8 123.0H1824.9V126.6H1817.8zM1824.9 119.5H1828.4V123.0H1824.9z"/><path fill="#FF1E00" d="M403.1 1558.9H406.6V1562.5H403.1zM406.6 1555.4H410.2V1558.9H406.6zM551.3 1555.4H554.8V1558.9H551.3zM396.0 1551.9H399.6V1555.4H396.0zM410.2 1551.9H417.2V1555.4H410.2zM554.8 1551.9H561.9V1555.4H554.8zM399.6 1548.3H403.1V1551.9H399.6zM413.7 1548.3H420.7V1551.9H413.7zM554.8 1548.3H565.4V1551.9H554.8zM403.1 1544.8H406.6V1548.3H403.1zM417.2 1544.8H420.7V1548.3H417.2zM554.8 1544.8H568.9V1548.3H554.8zM403.1 1541.3H410.2V1544.8H403.1zM420.7 1541.3H424.3V1544.8H420.7zM558.3 1541.3H572.4V1544.8H558.3zM406.6 1537.8H413.7V1541.3H406.6zM565.4 1537.8H579.5V1541.3H565.4zM413.7 1534.2H417.2V1537.8H413.7zM568.9 1534.2H583.0V1537.8H568.9zM572.4 1530.7H583.0V1534.2H572.4zM434.8 1527.2H438.4V1530.7H434.8zM438.4 1523.7H441.9V1527.2H438.4zM427.8 1520.1H431.3V1523.7H427.8zM441.9 1520.1H449.0V1523.7H441.9zM431.3 1516.6H434.8V1520.1H431.3zM445.4 1516.6H449.0V1520.1H445.4zM593.6 1516.6H597.1V1520.1H593.6zM434.8 1513.1H438.4V1516.6H434.8zM449.0 1513.1H452.5V1516.6H449.0zM434.8 1509.5H441.9V1513.1H434.8zM452.5 1509.5H456.0V1513.1H452.5zM600.7 1509.5H604.2V1513.1H600.7zM441.9 1506.0H445.4V1509.5H441.9zM456.0 1506.0H459.5V1509.5H456.0zM445.4 1502.5H449.0V1506.0H445.4zM449.0 1499.0H452.5V1502.5H449.0zM466.6 1495.4H470.1V1499.0H466.6zM470.1 1491.9H473.7V1495.4H470.1zM459.5 1488.4H463.1V1491.9H459.5zM473.7 1488.4H480.7V1491.9H473.7zM463.1 1484.8H466.6V1488.4H463.1zM477.2 1484.8H480.7V1488.4H477.2zM466.6 1481.3H470.1V1484.8H466.6zM480.7 1481.3H484.2V1484.8H480.7zM466.6 1477.8H473.7V1481.3H466.6zM484.2 1477.8H487.8V1481.3H484.2zM473.7 1474.3H477.2V1477.8H473.7zM477.2 1470.7H480.7V1474.3H477.2zM399.6 1403.7H403.1V1407.2H399.6zM403.1 1400.2H413.7V1403.7H403.1zM692.4 1400.2H695.9V1403.7H692.4zM699.4 1400.2H703.0V1403.7H699.4zM403.1 1396.6H417.2V1400.2H403.1zM699.4 1396.6H710.0V1400.2H699.4zM406.6 1393.1H417.2V1396.6H406.6zM568.9 1393.1H576.0V1396.6H568.9zM699.4 1393.1H713.6V1396.6H699.4zM410.2 1389.6H420.7V1393.1H410.2zM572.4 1389.6H579.5V1393.1H572.4zM703.0 1389.6H717.1V1393.1H703.0zM413.7 1386.1H424.3V1389.6H413.7zM561.9 1386.1H565.4V1389.6H561.9zM576.0 1386.1H579.5V1389.6H576.0zM706.5 1386.1H720.6V1389.6H706.5zM417.2 1382.5H427.8V1386.1H417.2zM561.9 1382.5H568.9V1386.1H561.9zM710.0 1382.5H724.1V1386.1H710.0zM417.2 1379.0H427.8V1382.5H417.2zM565.4 1379.0H572.4V1382.5H565.4zM717.1 1379.0H727.7V1382.5H717.1zM420.7 1375.5H427.8V1379.0H420.7zM720.6 1375.5H724.1V1379.0H720.6zM590.1 1371.9H593.6V1375.5H590.1zM593.6 1368.4H597.1V1371.9H593.6zM583.0 1364.9H586.6V1368.4H583.0zM597.1 1364.9H600.7V1368.4H597.1zM438.4 1361.4H441.9V1364.9H438.4zM586.6 1361.4H590.1V1364.9H586.6zM600.7 1361.4H604.2V1364.9H600.7zM590.1 1357.8H593.6V1361.4H590.1zM445.4 1354.3H449.0V1357.8H445.4zM593.6 1354.3H597.1V1357.8H593.6zM621.8 1340.2H625.4V1343.7H621.8zM625.4 1336.7H628.9V1340.2H625.4zM614.8 1333.1H618.3V1336.7H614.8zM628.9 1333.1H632.4V1336.7H628.9zM618.3 1329.6H621.8V1333.1H618.3zM632.4 1329.6H639.5V1333.1H632.4zM621.8 1326.1H625.4V1329.6H621.8zM635.9 1326.1H639.5V1329.6H635.9zM625.4 1322.6H628.9V1326.1H625.4zM625.4 1319.0H632.4V1322.6H625.4zM554.8 1262.6H558.3V1266.1H554.8zM554.8 1255.5H565.4V1259.1H554.8zM918.2 1255.5H921.7V1259.1H918.2zM558.3 1252.0H568.9V1255.5H558.3zM918.2 1252.0H921.7V1255.5H918.2zM925.2 1252.0H932.3V1255.5H925.2zM558.3 1248.5H572.4V1252.0H558.3zM921.7 1248.5H935.8V1252.0H921.7zM561.9 1244.9H576.0V1248.5H561.9zM925.2 1244.9H939.4V1248.5H925.2zM565.4 1241.4H576.0V1244.9H565.4zM928.8 1241.4H942.9V1244.9H928.8zM568.9 1237.9H579.5V1241.4H568.9zM932.3 1237.9H946.4V1241.4H932.3zM572.4 1234.4H583.0V1237.9H572.4zM935.8 1234.4H949.9V1237.9H935.8zM576.0 1230.8H579.5V1234.4H576.0zM939.4 1230.8H949.9V1234.4H939.4zM942.9 1227.3H949.9V1230.8H942.9zM759.4 1206.1H763.0V1209.7H759.4zM759.4 1202.6H766.5V1206.1H759.4zM763.0 1199.1H766.5V1202.6H763.0zM748.8 1195.5H755.9V1199.1H748.8zM766.5 1195.5H773.5V1199.1H766.5zM752.4 1192.0H759.4V1195.5H752.4zM770.0 1192.0H777.1V1195.5H770.0zM759.4 1188.5H763.0V1192.0H759.4zM773.5 1188.5H780.6V1192.0H773.5zM974.6 1188.5H978.2V1192.0H974.6zM759.4 1185.0H766.5V1188.5H759.4zM777.1 1185.0H780.6V1188.5H777.1zM978.2 1185.0H981.7V1188.5H978.2zM763.0 1181.4H770.0V1185.0H763.0zM780.6 1181.4H784.1V1185.0H780.6zM981.7 1181.4H988.7V1185.0H981.7zM766.5 1177.9H773.5V1181.4H766.5zM985.2 1177.9H992.3V1181.4H985.2zM773.5 1174.4H777.1V1177.9H773.5zM791.2 1170.9H794.7V1174.4H791.2zM794.7 1167.3H798.2V1170.9H794.7zM784.1 1163.8H787.6V1167.3H784.1zM798.2 1163.8H801.8V1167.3H798.2zM787.6 1160.3H791.2V1163.8H787.6zM801.8 1160.3H805.3V1163.8H801.8zM791.2 1156.7H794.7V1160.3H791.2zM805.3 1156.7H812.3V1160.3H805.3zM794.7 1153.2H798.2V1156.7H794.7zM808.8 1153.2H812.3V1156.7H808.8zM798.2 1149.7H801.8V1153.2H798.2zM812.3 1149.7H815.9V1153.2H812.3zM798.2 1146.2H805.3V1149.7H798.2zM815.9 1146.2H819.4V1149.7H815.9zM805.3 1142.6H808.8V1146.2H805.3zM819.4 1142.6H822.9V1146.2H819.4zM808.8 1139.1H812.3V1142.6H808.8zM822.9 1139.1H826.5V1142.6H822.9zM812.3 1135.6H815.9V1139.1H812.3zM815.9 1132.0H819.4V1135.6H815.9zM699.4 1036.8H706.5V1040.3H699.4zM925.2 1036.8H928.8V1040.3H925.2zM706.5 1033.3H710.0V1036.8H706.5zM928.8 1033.3H935.8V1036.8H928.8zM703.0 1029.7H713.6V1033.3H703.0zM918.2 1029.7H921.7V1033.3H918.2zM932.3 1029.7H939.4V1033.3H932.3zM703.0 1026.2H717.1V1029.7H703.0zM921.7 1026.2H925.2V1029.7H921.7zM935.8 1026.2H939.4V1029.7H935.8zM706.5 1022.7H720.6V1026.2H706.5zM921.7 1022.7H928.8V1026.2H921.7zM939.4 1022.7H942.9V1026.2H939.4zM710.0 1019.1H724.1V1022.7H710.0zM925.2 1019.1H932.3V1022.7H925.2zM942.9 1019.1H949.9V1022.7H942.9zM713.6 1015.6H727.7V1019.1H713.6zM932.3 1015.6H935.8V1019.1H932.3zM946.4 1015.6H953.5V1019.1H946.4zM717.1 1012.1H731.2V1015.6H717.1zM935.8 1012.1H939.4V1015.6H935.8zM949.9 1012.1H953.5V1015.6H949.9zM720.6 1008.6H731.2V1012.1H720.6zM935.8 1008.6H942.9V1012.1H935.8zM953.5 1008.6H957.0V1012.1H953.5zM939.4 1005.0H946.4V1008.6H939.4zM946.4 1001.5H949.9V1005.0H946.4zM964.0 998.0H971.1V1001.5H964.0zM967.6 994.5H974.6V998.0H967.6zM957.0 990.9H960.5V994.5H957.0zM971.1 990.9H974.6V994.5H971.1zM957.0 987.4H964.0V990.9H957.0zM974.6 987.4H981.7V990.9H974.6zM960.5 983.9H967.6V987.4H960.5zM978.2 983.9H981.7V987.4H978.2zM766.5 980.3H770.0V983.9H766.5zM967.6 980.3H971.1V983.9H967.6zM981.7 980.3H988.7V983.9H981.7zM770.0 976.8H773.5V980.3H770.0zM967.6 976.8H974.6V980.3H967.6zM985.2 976.8H988.7V980.3H985.2zM773.5 973.3H777.1V976.8H773.5zM974.6 973.3H978.2V976.8H974.6zM988.7 973.3H992.3V976.8H988.7zM773.5 969.8H780.6V973.3H773.5zM974.6 969.8H981.7V973.3H974.6zM992.3 969.8H995.8V973.3H992.3zM777.1 966.2H780.6V969.8H777.1zM981.7 966.2H985.2V969.8H981.7zM985.2 962.7H988.7V966.2H985.2zM1002.9 959.2H1009.9V962.7H1002.9zM1006.4 955.6H1013.4V959.2H1006.4zM995.8 952.1H999.3V955.6H995.8zM1009.9 952.1H1013.4V955.6H1009.9zM995.8 948.6H1002.9V952.1H995.8zM1013.4 948.6H1020.5V952.1H1013.4zM999.3 945.1H1006.4V948.6H999.3zM1017.0 945.1H1024.0V948.6H1017.0zM1006.4 941.5H1009.9V945.1H1006.4zM1020.5 941.5H1024.0V945.1H1020.5zM1006.4 938.0H1013.4V941.5H1006.4zM1009.9 934.5H1017.0V938.0H1009.9zM1352.1 814.5H1355.7V818.1H1352.1zM1151.0 811.0H1158.1V814.5H1151.0zM1225.1 811.0H1228.6V814.5H1225.1zM1348.6 811.0H1359.2V814.5H1348.6zM1154.6 807.5H1158.1V811.0H1154.6zM1228.6 807.5H1232.2V811.0H1228.6zM1348.6 807.5H1362.7V811.0H1348.6zM1144.0 803.9H1147.5V807.5H1144.0zM1158.1 803.9H1165.1V807.5H1158.1zM1232.2 803.9H1235.7V807.5H1232.2zM1352.1 803.9H1366.2V807.5H1352.1zM1144.0 800.4H1151.0V803.9H1144.0zM1161.6 800.4H1168.7V803.9H1161.6zM1235.7 800.4H1239.2V803.9H1235.7zM1355.7 800.4H1369.8V803.9H1355.7zM1151.0 796.9H1154.6V800.4H1151.0zM1165.1 796.9H1168.7V800.4H1165.1zM1359.2 796.9H1373.3V800.4H1359.2zM1151.0 793.4H1158.1V796.9H1151.0zM1168.7 793.4H1172.2V796.9H1168.7zM1362.7 793.4H1373.3V796.9H1362.7zM1154.6 789.8H1161.6V793.4H1154.6zM1172.2 789.8H1175.7V793.4H1172.2zM1366.2 789.8H1376.8V793.4H1366.2zM1161.6 786.3H1165.1V789.8H1161.6zM1369.8 786.3H1373.3V789.8H1369.8zM1165.1 782.8H1168.7V786.3H1165.1zM1186.3 779.2H1189.8V782.8H1186.3zM1186.3 775.7H1189.8V779.2H1186.3zM1189.8 772.2H1193.4V775.7H1189.8zM1175.7 768.7H1182.8V772.2H1175.7zM1193.4 768.7H1200.4V772.2H1193.4zM1182.8 765.1H1186.3V768.7H1182.8zM1196.9 765.1H1200.4V768.7H1196.9zM1186.3 761.6H1189.8V765.1H1186.3zM1200.4 761.6H1207.5V765.1H1200.4zM1186.3 758.1H1193.4V761.6H1186.3zM1204.0 758.1H1207.5V761.6H1204.0zM1193.4 754.5H1196.9V758.1H1193.4zM1207.5 754.5H1211.0V758.1H1207.5zM1193.4 751.0H1200.4V754.5H1193.4zM1211.0 751.0H1218.1V754.5H1211.0zM1200.4 747.5H1204.0V751.0H1200.4zM1214.5 747.5H1218.1V751.0H1214.5zM1204.0 744.0H1207.5V747.5H1204.0zM1204.0 740.4H1211.0V744.0H1204.0zM1144.0 729.9H1147.5V733.4H1144.0zM1147.5 726.3H1151.0V729.9H1147.5zM1355.7 726.3H1359.2V729.9H1355.7zM1151.0 722.8H1154.6V726.3H1151.0zM1154.6 719.3H1158.1V722.8H1154.6zM1144.0 606.4H1151.0V609.9H1144.0zM1496.8 606.4H1500.3V609.9H1496.8zM1140.4 602.8H1154.6V606.4H1140.4zM1496.8 602.8H1507.4V606.4H1496.8zM1144.0 599.3H1158.1V602.8H1144.0zM1228.6 599.3H1232.2V602.8H1228.6zM1496.8 599.3H1510.9V602.8H1496.8zM1147.5 595.8H1161.6V599.3H1147.5zM1419.2 595.8H1422.7V599.3H1419.2zM1500.3 595.8H1514.4V599.3H1500.3zM1151.0 592.3H1165.1V595.8H1151.0zM1503.8 592.3H1517.9V595.8H1503.8zM1154.6 588.7H1168.7V592.3H1154.6zM1507.4 588.7H1521.5V592.3H1507.4zM1158.1 585.2H1172.2V588.7H1158.1zM1380.4 585.2H1383.9V588.7H1380.4zM1429.7 585.2H1433.3V588.7H1429.7zM1514.4 585.2H1517.9V588.7H1514.4zM1165.1 581.7H1168.7V585.2H1165.1zM1380.4 581.7H1383.9V585.2H1380.4zM1383.9 578.1H1387.4V581.7H1383.9zM1369.8 574.6H1376.8V578.1H1369.8zM1387.4 574.6H1394.5V578.1H1387.4zM1376.8 571.1H1380.4V574.6H1376.8zM1390.9 571.1H1398.0V574.6H1390.9zM1380.4 567.6H1383.9V571.1H1380.4zM1394.5 567.6H1401.5V571.1H1394.5zM1450.9 567.6H1454.4V571.1H1450.9zM1380.4 564.0H1387.4V567.6H1380.4zM1398.0 564.0H1405.0V567.6H1398.0zM1383.9 560.5H1390.9V564.0H1383.9zM1387.4 557.0H1394.5V560.5H1387.4zM1390.9 553.5H1394.5V557.0H1390.9zM1412.1 553.5H1415.6V557.0H1412.1zM1412.1 549.9H1415.6V553.5H1412.1zM1415.6 546.4H1422.7V549.9H1415.6zM1401.5 542.9H1408.6V546.4H1401.5zM1419.2 542.9H1422.7V546.4H1419.2zM1408.6 539.3H1412.1V542.9H1408.6zM1422.7 539.3H1429.7V542.9H1422.7zM1359.2 535.8H1362.7V539.3H1359.2zM1408.6 535.8H1415.6V539.3H1408.6zM1426.2 535.8H1429.7V539.3H1426.2zM1415.6 532.3H1419.2V535.8H1415.6zM1429.7 532.3H1433.3V535.8H1429.7zM1415.6 528.8H1422.7V532.3H1415.6zM1369.8 525.2H1373.3V528.8H1369.8zM1422.7 525.2H1426.2V528.8H1422.7zM1387.4 504.1H1390.9V507.6H1387.4zM1560.3 468.8H1563.8V472.3H1560.3zM1496.8 465.3H1500.3V468.8H1496.8zM1500.3 461.7H1503.8V465.3H1500.3zM1348.6 458.2H1359.2V461.7H1348.6zM1489.7 458.2H1493.2V461.7H1489.7zM1503.8 458.2H1510.9V461.7H1503.8zM1352.1 454.7H1362.7V458.2H1352.1zM1493.2 454.7H1496.8V458.2H1493.2zM1507.4 454.7H1510.9V458.2H1507.4zM1352.1 451.1H1366.2V454.7H1352.1zM1496.8 451.1H1500.3V454.7H1496.8zM1510.9 451.1H1514.4V454.7H1510.9zM1355.7 447.6H1369.8V451.1H1355.7zM1496.8 447.6H1503.8V451.1H1496.8zM1514.4 447.6H1517.9V451.1H1514.4zM1359.2 444.1H1369.8V447.6H1359.2zM1503.8 444.1H1507.4V447.6H1503.8zM1362.7 440.6H1373.3V444.1H1362.7zM1507.4 440.6H1510.9V444.1H1507.4zM1366.2 437.0H1369.8V440.6H1366.2zM1528.5 433.5H1532.1V437.0H1528.5zM1532.1 430.0H1535.6V433.5H1532.1zM1521.5 426.4H1525.0V430.0H1521.5zM1535.6 426.4H1539.1V430.0H1535.6zM1525.0 422.9H1528.5V426.4H1525.0zM1539.1 422.9H1542.6V426.4H1539.1zM1528.5 419.4H1532.1V422.9H1528.5zM1542.6 419.4H1546.2V422.9H1542.6zM1532.1 415.9H1535.6V419.4H1532.1zM1546.2 415.9H1549.7V419.4H1546.2zM1535.6 412.3H1539.1V415.9H1535.6zM1549.7 412.3H1553.2V415.9H1549.7zM1539.1 408.8H1542.6V412.3H1539.1zM1542.6 405.3H1546.2V408.8H1542.6zM1560.3 401.7H1563.8V405.3H1560.3zM1563.8 398.2H1570.9V401.7H1563.8zM1486.2 394.7H1489.7V398.2H1486.2zM1553.2 394.7H1556.8V398.2H1553.2zM1567.3 394.7H1574.4V398.2H1567.3zM1556.8 391.2H1560.3V394.7H1556.8zM1570.9 391.2H1577.9V394.7H1570.9zM1556.8 387.6H1563.8V391.2H1556.8zM1574.4 387.6H1577.9V391.2H1574.4zM1560.3 384.1H1567.3V387.6H1560.3zM1577.9 384.1H1581.4V387.6H1577.9zM1563.8 380.6H1570.9V384.1H1563.8zM1581.4 380.6H1588.5V384.1H1581.4zM1570.9 377.1H1574.4V380.6H1570.9zM1585.0 377.1H1592.0V380.6H1585.0zM1574.4 373.5H1577.9V377.1H1574.4zM1588.5 373.5H1592.0V377.1H1588.5zM1574.4 370.0H1581.4V373.5H1574.4zM1592.0 370.0H1595.6V373.5H1592.0zM1577.9 366.5H1585.0V370.0H1577.9zM1595.6 366.5H1599.1V370.0H1595.6zM1585.0 362.9H1588.5V366.5H1585.0zM1588.5 359.4H1592.0V362.9H1588.5z"/><path fill="#FFA200" d="M1683.8 299.4H1687.3V303.0H1683.8zM1655.5 271.2H1659.1V274.7H1655.5zM1789.6 264.2H1793.1V267.7H1789.6zM1786.1 257.1H1789.6V260.6H1786.1zM1754.3 232.4H1757.8V235.9H1754.3zM1722.6 200.7H1726.1V204.2H1722.6zM1697.9 168.9H1701.4V172.4H1697.9zM1690.8 165.4H1694.3V168.9H1690.8z"/><path fill="#22D2EE" d="M209.1 1753.0H212.6V1756.5H209.1zM212.6 1749.4H219.6V1753.0H212.6zM202.0 1745.9H205.5V1749.4H202.0zM216.1 1745.9H223.2V1749.4H216.1zM205.5 1742.4H209.1V1745.9H205.5zM219.6 1742.4H226.7V1745.9H219.6zM205.5 1738.9H212.6V1742.4H205.5zM223.2 1738.9H226.7V1742.4H223.2zM209.1 1735.3H216.1V1738.9H209.1zM226.7 1735.3H230.2V1738.9H226.7zM212.6 1731.8H219.6V1735.3H212.6zM230.2 1731.8H233.8V1735.3H230.2zM219.6 1728.3H223.2V1731.8H219.6zM233.8 1728.3H237.3V1731.8H233.8zM223.2 1724.7H226.7V1728.3H223.2zM237.3 1724.7H240.8V1728.3H237.3zM226.7 1721.2H230.2V1724.7H226.7zM240.8 1721.2H244.3V1724.7H240.8zM230.2 1717.7H233.8V1721.2H230.2zM244.3 1717.7H247.9V1721.2H244.3zM233.8 1714.2H237.3V1717.7H233.8zM237.3 1710.6H240.8V1714.2H237.3zM272.6 1693.0H276.1V1696.5H272.6zM272.6 1689.5H279.6V1693.0H272.6zM276.1 1685.9H283.1V1689.5H276.1zM262.0 1682.4H269.0V1685.9H262.0zM279.6 1682.4H283.1V1685.9H279.6zM265.5 1678.9H272.6V1682.4H265.5zM269.0 1675.4H276.1V1678.9H269.0zM311.4 1654.2H314.9V1657.7H311.4zM311.4 1650.7H318.4V1654.2H311.4zM314.9 1647.1H322.0V1650.7H314.9zM300.8 1643.6H307.8V1647.1H300.8zM318.4 1643.6H322.0V1647.1H318.4zM304.3 1640.1H311.4V1643.6H304.3zM322.0 1640.1H325.5V1643.6H322.0zM307.8 1636.5H314.9V1640.1H307.8zM325.5 1636.5H329.0V1640.1H325.5zM314.9 1633.0H318.4V1636.5H314.9zM329.0 1633.0H332.5V1636.5H329.0zM318.4 1629.5H322.0V1633.0H318.4zM332.5 1629.5H336.1V1633.0H332.5zM322.0 1626.0H325.5V1629.5H322.0zM336.1 1626.0H339.6V1629.5H336.1zM325.5 1622.4H329.0V1626.0H325.5zM339.6 1622.4H343.1V1626.0H339.6zM329.0 1618.9H332.5V1622.4H329.0zM343.1 1618.9H346.6V1622.4H343.1zM332.5 1615.4H336.1V1618.9H332.5zM336.1 1611.9H339.6V1615.4H336.1zM1574.4 1604.8H1585.0V1608.3H1574.4zM1574.4 1601.3H1585.0V1604.8H1574.4zM1563.8 1587.2H1567.3V1590.7H1563.8zM1563.8 1583.6H1570.9V1587.2H1563.8zM392.5 1569.5H399.6V1573.0H392.5zM1549.7 1569.5H1553.2V1573.0H1549.7zM396.0 1566.0H403.1V1569.5H396.0zM1549.7 1566.0H1553.2V1569.5H1549.7zM385.5 1562.5H389.0V1566.0H385.5zM399.6 1562.5H406.6V1566.0H399.6zM449.0 1562.5H452.5V1566.0H449.0zM1549.7 1562.5H1553.2V1566.0H1549.7zM385.5 1558.9H392.5V1562.5H385.5zM445.4 1558.9H456.0V1562.5H445.4zM1549.7 1558.9H1553.2V1562.5H1549.7zM389.0 1555.4H396.0V1558.9H389.0zM445.4 1555.4H459.5V1558.9H445.4zM466.6 1555.4H470.1V1558.9H466.6zM1546.2 1555.4H1553.2V1558.9H1546.2zM392.5 1551.9H396.0V1555.4H392.5zM449.0 1551.9H456.0V1555.4H449.0zM1546.2 1551.9H1549.7V1555.4H1546.2zM1546.2 1548.3H1549.7V1551.9H1546.2zM424.3 1537.8H427.8V1541.3H424.3zM424.3 1534.2H431.3V1537.8H424.3zM583.0 1534.2H597.1V1537.8H583.0zM417.2 1530.7H424.3V1534.2H417.2zM427.8 1530.7H434.8V1534.2H427.8zM420.7 1527.2H427.8V1530.7H420.7zM480.7 1527.2H487.8V1530.7H480.7zM424.3 1523.7H427.8V1527.2H424.3zM477.2 1523.7H491.3V1527.2H477.2zM480.7 1520.1H491.3V1523.7H480.7zM484.2 1516.6H487.8V1520.1H484.2zM396.0 1509.5H403.1V1513.1H396.0zM551.3 1509.5H554.8V1513.1H551.3zM392.5 1506.0H406.6V1509.5H392.5zM551.3 1506.0H554.8V1509.5H551.3zM396.0 1502.5H406.6V1506.0H396.0zM456.0 1502.5H463.1V1506.0H456.0zM547.7 1502.5H554.8V1506.0H547.7zM399.6 1499.0H403.1V1502.5H399.6zM452.5 1499.0H456.0V1502.5H452.5zM459.5 1499.0H466.6V1502.5H459.5zM519.5 1499.0H523.0V1502.5H519.5zM547.7 1499.0H551.3V1502.5H547.7zM452.5 1495.4H459.5V1499.0H452.5zM463.1 1495.4H466.6V1499.0H463.1zM516.0 1495.4H523.0V1499.0H516.0zM547.7 1495.4H551.3V1499.0H547.7zM456.0 1491.9H463.1V1495.4H456.0zM512.5 1491.9H526.6V1495.4H512.5zM544.2 1491.9H551.3V1495.4H544.2zM399.6 1488.4H403.1V1491.9H399.6zM516.0 1488.4H530.1V1491.9H516.0zM519.5 1484.8H526.6V1488.4H519.5zM431.3 1477.8H434.8V1481.3H431.3zM427.8 1474.3H438.4V1477.8H427.8zM427.8 1470.7H441.9V1474.3H427.8zM491.3 1470.7H494.8V1474.3H491.3zM431.3 1467.2H438.4V1470.7H431.3zM491.3 1467.2H498.4V1470.7H491.3zM484.2 1463.7H491.3V1467.2H484.2zM494.8 1463.7H501.9V1467.2H494.8zM487.8 1460.1H494.8V1463.7H487.8zM498.4 1460.1H501.9V1463.7H498.4zM491.3 1456.6H498.4V1460.1H491.3zM463.1 1442.5H466.6V1446.0H463.1zM459.5 1439.0H470.1V1442.5H459.5zM456.0 1435.5H473.7V1439.0H456.0zM463.1 1431.9H473.7V1435.5H463.1zM533.6 1431.9H537.2V1435.5H533.6zM466.6 1428.4H470.1V1431.9H466.6zM537.2 1428.4H540.7V1431.9H537.2zM537.2 1424.9H544.2V1428.4H537.2zM523.0 1421.3H526.6V1424.9H523.0zM540.7 1421.3H551.3V1424.9H540.7zM526.6 1417.8H533.6V1421.3H526.6zM544.2 1417.8H547.7V1421.3H544.2zM530.1 1414.3H537.2V1417.8H530.1zM463.1 1410.8H466.6V1414.3H463.1zM533.6 1410.8H540.7V1414.3H533.6zM607.7 1410.8H614.8V1414.3H607.7zM452.5 1407.2H466.6V1410.8H452.5zM533.6 1407.2H537.2V1410.8H533.6zM604.2 1407.2H618.3V1410.8H604.2zM445.4 1403.7H456.0V1407.2H445.4zM607.7 1403.7H618.3V1407.2H607.7zM611.2 1400.2H614.8V1403.7H611.2zM579.5 1382.5H583.0V1386.1H579.5zM579.5 1379.0H586.6V1382.5H579.5zM572.4 1375.5H579.5V1379.0H572.4zM583.0 1375.5H590.1V1379.0H583.0zM724.1 1375.5H727.7V1379.0H724.1zM420.7 1371.9H424.3V1375.5H420.7zM576.0 1371.9H583.0V1375.5H576.0zM635.9 1371.9H643.0V1375.5H635.9zM420.7 1368.4H424.3V1371.9H420.7zM579.5 1368.4H583.0V1371.9H579.5zM632.4 1368.4H646.5V1371.9H632.4zM420.7 1364.9H424.3V1368.4H420.7zM635.9 1364.9H646.5V1368.4H635.9zM420.7 1361.4H424.3V1364.9H420.7zM639.5 1361.4H643.0V1364.9H639.5zM710.0 1357.8H713.6V1361.4H710.0zM706.5 1354.3H713.6V1357.8H706.5zM547.7 1350.8H551.3V1354.3H547.7zM703.0 1350.8H706.5V1354.3H703.0zM544.2 1347.3H554.8V1350.8H544.2zM611.2 1347.3H618.3V1350.8H611.2zM699.4 1347.3H703.0V1350.8H699.4zM706.5 1347.3H710.0V1350.8H706.5zM544.2 1343.7H558.3V1347.3H544.2zM607.7 1343.7H611.2V1347.3H607.7zM614.8 1343.7H621.8V1347.3H614.8zM703.0 1343.7H706.5V1347.3H703.0zM547.7 1340.2H554.8V1343.7H547.7zM607.7 1340.2H614.8V1343.7H607.7zM618.3 1340.2H621.8V1343.7H618.3zM611.2 1336.7H618.3V1340.2H611.2zM667.7 1333.1H674.8V1336.7H667.7zM688.9 1333.1H692.4V1336.7H688.9zM664.2 1329.6H678.3V1333.1H664.2zM685.3 1329.6H692.4V1333.1H685.3zM667.7 1326.1H678.3V1329.6H667.7zM586.6 1322.6H590.1V1326.1H586.6zM671.2 1322.6H674.8V1326.1H671.2zM583.0 1319.0H593.6V1322.6H583.0zM583.0 1315.5H597.1V1319.0H583.0zM586.6 1312.0H593.6V1315.5H586.6zM646.5 1312.0H653.6V1315.5H646.5zM643.0 1308.4H646.5V1312.0H643.0zM650.1 1308.4H657.1V1312.0H650.1zM643.0 1304.9H650.1V1308.4H643.0zM653.6 1304.9H657.1V1308.4H653.6zM646.5 1301.4H653.6V1304.9H646.5zM667.7 1297.9H674.8V1301.4H667.7zM671.2 1294.3H674.8V1297.9H671.2zM625.4 1290.8H628.9V1294.3H625.4zM674.8 1290.8H678.3V1294.3H674.8zM621.8 1287.3H632.4V1290.8H621.8zM657.1 1287.3H660.6V1290.8H657.1zM678.3 1287.3H681.8V1290.8H678.3zM621.8 1283.7H635.9V1287.3H621.8zM657.1 1283.7H664.2V1287.3H657.1zM681.8 1283.7H688.9V1287.3H681.8zM625.4 1280.2H632.4V1283.7H625.4zM664.2 1280.2H667.7V1283.7H664.2zM685.3 1280.2H688.9V1283.7H685.3zM667.7 1276.7H671.2V1280.2H667.7zM688.9 1276.7H692.4V1280.2H688.9zM671.2 1273.2H674.8V1276.7H671.2zM692.4 1273.2H699.4V1276.7H692.4zM625.4 1269.6H628.9V1273.2H625.4zM671.2 1269.6H678.3V1273.2H671.2zM695.9 1269.6H703.0V1273.2H695.9zM621.8 1266.1H628.9V1269.6H621.8zM678.3 1266.1H681.8V1269.6H678.3zM699.4 1266.1H703.0V1269.6H699.4zM681.8 1262.6H685.3V1266.1H681.8zM780.6 1262.6H787.6V1266.1H780.6zM681.8 1259.1H688.9V1262.6H681.8zM784.1 1259.1H787.6V1262.6H784.1zM607.7 1255.5H611.2V1259.1H607.7zM685.3 1255.5H692.4V1259.1H685.3zM787.6 1255.5H798.2V1259.1H787.6zM604.2 1252.0H607.7V1255.5H604.2zM611.2 1252.0H614.8V1255.5H611.2zM600.7 1248.5H604.2V1252.0H600.7zM607.7 1248.5H611.2V1252.0H607.7zM597.1 1244.9H604.2V1248.5H597.1zM727.7 1237.9H731.2V1241.4H727.7zM731.2 1234.4H734.7V1237.9H731.2zM579.5 1230.8H583.0V1234.4H579.5zM734.7 1230.8H738.3V1234.4H734.7zM717.1 1227.3H720.6V1230.8H717.1zM738.3 1227.3H741.8V1230.8H738.3zM720.6 1223.8H724.1V1227.3H720.6zM741.8 1223.8H745.3V1227.3H741.8zM724.1 1220.2H727.7V1223.8H724.1zM745.3 1220.2H748.8V1223.8H745.3zM727.7 1216.7H731.2V1220.2H727.7zM748.8 1216.7H752.4V1220.2H748.8zM731.2 1213.2H734.7V1216.7H731.2zM752.4 1213.2H759.4V1216.7H752.4zM734.7 1209.7H738.3V1213.2H734.7zM755.9 1209.7H759.4V1213.2H755.9zM738.3 1206.1H741.8V1209.7H738.3zM741.8 1202.6H745.3V1206.1H741.8zM805.3 1202.6H812.3V1206.1H805.3zM741.8 1199.1H748.8V1202.6H741.8zM801.8 1199.1H815.9V1202.6H801.8zM805.3 1195.5H815.9V1199.1H805.3zM808.8 1192.0H812.3V1195.5H808.8zM875.8 1185.0H879.4V1188.5H875.8zM875.8 1181.4H879.4V1185.0H875.8zM928.8 1181.4H932.3V1185.0H928.8zM780.6 1177.9H787.6V1181.4H780.6zM925.2 1177.9H932.3V1181.4H925.2zM692.4 1174.4H695.9V1177.9H692.4zM777.1 1174.4H780.6V1177.9H777.1zM784.1 1174.4H791.2V1177.9H784.1zM921.7 1174.4H928.8V1177.9H921.7zM692.4 1170.9H699.4V1174.4H692.4zM777.1 1170.9H784.1V1174.4H777.1zM787.6 1170.9H791.2V1174.4H787.6zM893.5 1170.9H897.0V1174.4H893.5zM921.7 1170.9H925.2V1174.4H921.7zM699.4 1167.3H703.0V1170.9H699.4zM780.6 1167.3H787.6V1170.9H780.6zM893.5 1167.3H897.0V1170.9H893.5zM918.2 1167.3H921.7V1170.9H918.2zM699.4 1163.8H703.0V1167.3H699.4zM699.4 1160.3H703.0V1163.8H699.4zM755.9 1153.2H759.4V1156.7H755.9zM752.4 1149.7H763.0V1153.2H752.4zM752.4 1146.2H766.5V1149.7H752.4zM755.9 1142.6H763.0V1146.2H755.9zM861.7 1142.6H865.3V1146.2H861.7zM826.5 1139.1H830.0V1142.6H826.5zM861.7 1139.1H865.3V1142.6H861.7zM830.0 1135.6H833.5V1139.1H830.0zM833.5 1132.0H837.0V1135.6H833.5zM815.9 1128.5H819.4V1132.0H815.9zM837.0 1128.5H840.6V1132.0H837.0zM819.4 1125.0H822.9V1128.5H819.4zM840.6 1125.0H844.1V1128.5H840.6zM822.9 1121.5H826.5V1125.0H822.9zM844.1 1121.5H847.6V1125.0H844.1zM826.5 1117.9H830.0V1121.5H826.5zM847.6 1117.9H851.2V1121.5H847.6zM830.0 1114.4H833.5V1117.9H830.0zM854.7 1114.4H858.2V1117.9H854.7zM833.5 1110.9H837.0V1114.4H833.5zM858.2 1110.9H861.7V1114.4H858.2zM837.0 1107.3H840.6V1110.9H837.0zM840.6 1100.3H844.1V1103.8H840.6zM844.1 1096.8H847.6V1100.3H844.1zM812.3 1093.2H819.4V1096.8H812.3zM770.0 1079.1H777.1V1082.7H770.0zM893.5 1072.1H897.0V1075.6H893.5zM897.0 1068.5H900.5V1072.1H897.0zM900.5 1065.0H904.1V1068.5H900.5zM911.1 1065.0H918.2V1068.5H911.1zM784.1 1061.5H791.2V1065.0H784.1zM882.9 1061.5H886.4V1065.0H882.9zM904.1 1061.5H918.2V1065.0H904.1zM886.4 1058.0H890.0V1061.5H886.4zM904.1 1058.0H914.7V1061.5H904.1zM890.0 1054.4H893.5V1058.0H890.0zM904.1 1054.4H918.2V1058.0H904.1zM893.5 1050.9H904.1V1054.4H893.5zM914.7 1050.9H918.2V1054.4H914.7zM893.5 1047.4H904.1V1050.9H893.5zM918.2 1047.4H921.7V1050.9H918.2zM890.0 1043.8H904.1V1047.4H890.0zM921.7 1043.8H925.2V1047.4H921.7zM890.0 1040.3H897.0V1043.8H890.0zM900.5 1040.3H907.6V1043.8H900.5zM988.7 1040.3H992.3V1043.8H988.7zM787.6 1036.8H791.2V1040.3H787.6zM907.6 1036.8H911.1V1040.3H907.6zM985.2 1036.8H995.8V1040.3H985.2zM780.6 1033.3H787.6V1036.8H780.6zM911.1 1033.3H914.7V1036.8H911.1zM985.2 1033.3H999.3V1036.8H985.2zM777.1 1029.7H784.1V1033.3H777.1zM988.7 1029.7H995.8V1033.3H988.7zM773.5 1026.2H780.6V1029.7H773.5zM953.5 1005.0H960.5V1008.6H953.5zM949.9 1001.5H953.5V1005.0H949.9zM957.0 1001.5H964.0V1005.0H957.0zM949.9 998.0H957.0V1001.5H949.9zM960.5 998.0H964.0V1001.5H960.5zM953.5 994.5H960.5V998.0H953.5zM1020.5 994.5H1027.6V998.0H1020.5zM1017.0 990.9H1031.1V994.5H1017.0zM1020.5 987.4H1031.1V990.9H1020.5zM1024.0 983.9H1027.6V987.4H1024.0zM918.2 969.8H925.2V973.3H918.2zM914.7 966.2H928.8V969.8H914.7zM992.3 966.2H999.3V969.8H992.3zM918.2 962.7H928.8V966.2H918.2zM988.7 962.7H992.3V966.2H988.7zM995.8 962.7H1002.9V966.2H995.8zM921.7 959.2H925.2V962.7H921.7zM988.7 959.2H995.8V962.7H988.7zM999.3 959.2H1002.9V962.7H999.3zM992.3 955.6H999.3V959.2H992.3zM1024.0 941.5H1031.1V945.1H1024.0zM1059.3 941.5H1062.8V945.1H1059.3zM1073.4 941.5H1076.9V945.1H1073.4zM964.0 938.0H967.6V941.5H964.0zM1027.6 938.0H1031.1V941.5H1027.6zM1059.3 938.0H1062.8V941.5H1059.3zM960.5 934.5H971.1V938.0H960.5zM1031.1 934.5H1038.1V938.0H1031.1zM960.5 930.9H974.6V934.5H960.5zM1013.4 930.9H1017.0V934.5H1013.4zM1034.6 930.9H1038.1V934.5H1034.6zM964.0 927.4H971.1V930.9H964.0zM1013.4 927.4H1020.5V930.9H1013.4zM1038.1 927.4H1045.2V930.9H1038.1zM1020.5 923.9H1024.0V927.4H1020.5zM1041.7 923.9H1045.2V927.4H1041.7zM1020.5 920.4H1027.6V923.9H1020.5zM1027.6 916.8H1031.1V920.4H1027.6zM1048.7 916.8H1052.2V920.4H1048.7zM1027.6 913.3H1034.6V916.8H1027.6zM1055.8 909.8H1059.3V913.3H1055.8zM1038.1 906.3H1041.7V909.8H1038.1zM1059.3 906.3H1062.8V909.8H1059.3zM1062.8 902.7H1066.4V906.3H1062.8zM1045.2 899.2H1048.7V902.7H1045.2zM1066.4 899.2H1069.9V902.7H1066.4zM1013.4 895.7H1020.5V899.2H1013.4zM1048.7 895.7H1052.2V899.2H1048.7zM1066.4 895.7H1069.9V899.2H1066.4zM1052.2 892.1H1055.8V895.7H1052.2zM1073.4 892.1H1076.9V895.7H1073.4zM1055.8 888.6H1062.8V892.1H1055.8zM1013.4 881.6H1017.0V885.1H1013.4zM1062.8 881.6H1066.4V885.1H1062.8zM1080.5 881.6H1087.5V885.1H1080.5zM1084.0 878.0H1087.5V881.6H1084.0zM1073.4 874.5H1076.9V878.0H1073.4zM1073.4 871.0H1080.5V874.5H1073.4zM1091.1 871.0H1098.1V874.5H1091.1zM1094.6 867.4H1101.6V871.0H1094.6zM1084.0 863.9H1087.5V867.4H1084.0zM1101.6 863.9H1105.2V867.4H1101.6zM1084.0 860.4H1091.1V863.9H1084.0zM1105.2 860.4H1108.7V863.9H1105.2zM1087.5 856.9H1091.1V860.4H1087.5zM1108.7 856.9H1112.2V860.4H1108.7zM1091.1 853.3H1094.6V856.9H1091.1zM1112.2 853.3H1115.8V856.9H1112.2zM1094.6 849.8H1098.1V853.3H1094.6zM1098.1 846.3H1101.6V849.8H1098.1zM1101.6 842.7H1105.2V846.3H1101.6zM1129.9 835.7H1133.4V839.2H1129.9zM1133.4 832.2H1136.9V835.7H1133.4zM1140.4 828.6H1144.0V832.2H1140.4zM1119.3 825.1H1122.8V828.6H1119.3zM1140.4 825.1H1144.0V828.6H1140.4zM1122.8 821.6H1126.3V825.1H1122.8zM1147.5 821.6H1151.0V825.1H1147.5zM1211.0 821.6H1214.5V825.1H1211.0zM1151.0 818.1H1154.6V821.6H1151.0zM1207.5 818.1H1218.1V821.6H1207.5zM1126.3 814.5H1133.4V818.1H1126.3zM1207.5 814.5H1221.6V818.1H1207.5zM1211.0 811.0H1218.1V814.5H1211.0zM1133.4 807.5H1136.9V811.0H1133.4zM1136.9 803.9H1140.4V807.5H1136.9zM1175.7 786.3H1179.3V789.8H1175.7zM1175.7 782.8H1182.8V786.3H1175.7zM1168.7 779.2H1175.7V782.8H1168.7zM1179.3 779.2H1186.3V782.8H1179.3zM1172.2 775.7H1179.3V779.2H1172.2zM1175.7 772.2H1179.3V775.7H1175.7zM1239.2 765.1H1246.3V768.7H1239.2zM1235.7 761.6H1249.8V765.1H1235.7zM1239.2 758.1H1249.8V761.6H1239.2zM1242.8 754.5H1246.3V758.1H1242.8zM1136.9 747.5H1144.0V751.0H1136.9zM1133.4 744.0H1147.5V747.5H1133.4zM1218.1 744.0H1221.6V747.5H1218.1zM1345.1 744.0H1348.6V747.5H1345.1zM1136.9 740.4H1147.5V744.0H1136.9zM1218.1 740.4H1225.1V744.0H1218.1zM1140.4 736.9H1144.0V740.4H1140.4zM1211.0 736.9H1218.1V740.4H1211.0zM1221.6 736.9H1228.6V740.4H1221.6zM1295.7 736.9H1302.7V740.4H1295.7zM1214.5 733.4H1221.6V736.9H1214.5zM1292.2 733.4H1306.3V736.9H1292.2zM1218.1 729.9H1221.6V733.4H1218.1zM1295.7 729.9H1306.3V733.4H1295.7zM1299.2 726.3H1302.7V729.9H1299.2zM1193.4 719.3H1196.9V722.8H1193.4zM1189.8 715.7H1200.4V719.3H1189.8zM1189.8 712.2H1204.0V715.7H1189.8zM1253.3 712.2H1256.9V715.7H1253.3zM1193.4 708.7H1200.4V712.2H1193.4zM1256.9 708.7H1260.4V712.2H1256.9zM1242.8 701.6H1246.3V705.2H1242.8zM1260.4 701.6H1263.9V705.2H1260.4zM1246.3 698.1H1249.8V701.6H1246.3zM1260.4 698.1H1267.5V701.6H1260.4zM1253.3 694.6H1260.4V698.1H1253.3zM1263.9 694.6H1274.5V698.1H1263.9zM1256.9 691.0H1263.9V694.6H1256.9zM1274.5 691.0H1278.0V694.6H1274.5zM1260.4 687.5H1263.9V691.0H1260.4zM1260.4 684.0H1263.9V687.5H1260.4zM1263.9 680.5H1267.5V684.0H1263.9zM1221.6 662.8H1225.1V666.3H1221.6zM1218.1 659.3H1228.6V662.8H1218.1zM1218.1 655.8H1232.2V659.3H1218.1zM1221.6 652.2H1228.6V655.8H1221.6zM1313.3 652.2H1316.8V655.8H1313.3zM1316.8 648.7H1320.4V652.2H1316.8zM1320.4 645.2H1323.9V648.7H1320.4zM1302.7 641.7H1306.3V645.2H1302.7zM1323.9 641.7H1327.4V645.2H1323.9zM1306.3 638.1H1309.8V641.7H1306.3zM1309.8 634.6H1313.3V638.1H1309.8zM1331.0 634.6H1334.5V638.1H1331.0zM1313.3 631.1H1316.8V634.6H1313.3zM1338.0 627.5H1341.5V631.1H1338.0zM1320.4 624.0H1323.9V627.5H1320.4zM1327.4 617.0H1331.0V620.5H1327.4zM1394.5 617.0H1398.0V620.5H1394.5zM1390.9 613.4H1401.5V617.0H1390.9zM1211.0 609.9H1214.5V613.4H1211.0zM1390.9 609.9H1405.0V613.4H1390.9zM1394.5 606.4H1401.5V609.9H1394.5zM1408.6 606.4H1412.1V609.9H1408.6zM1369.8 592.3H1373.3V595.8H1369.8zM1369.8 588.7H1376.8V592.3H1369.8zM1362.7 585.2H1369.8V588.7H1362.7zM1373.3 585.2H1380.4V588.7H1373.3zM1366.2 581.7H1373.3V585.2H1366.2zM1422.7 581.7H1426.2V585.2H1422.7zM1369.8 578.1H1373.3V581.7H1369.8zM1419.2 578.1H1436.8V581.7H1419.2zM1419.2 574.6H1433.3V578.1H1419.2zM1436.8 574.6H1450.9V578.1H1436.8zM1422.7 571.1H1429.7V574.6H1422.7zM1447.4 571.1H1450.9V574.6H1447.4zM1341.5 564.0H1348.6V567.6H1341.5zM1493.2 564.0H1496.8V567.6H1493.2zM1338.0 560.5H1352.1V564.0H1338.0zM1401.5 560.5H1405.0V564.0H1401.5zM1489.7 560.5H1496.8V564.0H1489.7zM1341.5 557.0H1352.1V560.5H1341.5zM1401.5 557.0H1408.6V560.5H1401.5zM1489.7 557.0H1493.2V560.5H1489.7zM1345.1 553.5H1348.6V557.0H1345.1zM1394.5 553.5H1401.5V557.0H1394.5zM1405.0 553.5H1412.1V557.0H1405.0zM1458.0 553.5H1465.0V557.0H1458.0zM1486.2 553.5H1489.7V557.0H1486.2zM1398.0 549.9H1405.0V553.5H1398.0zM1454.4 549.9H1468.6V553.5H1454.4zM1348.6 546.4H1352.1V549.9H1348.6zM1401.5 546.4H1405.0V549.9H1401.5zM1458.0 546.4H1468.6V549.9H1458.0zM1461.5 542.9H1465.0V546.4H1461.5zM1376.8 535.8H1383.9V539.3H1376.8zM1373.3 532.3H1387.4V535.8H1373.3zM1376.8 528.8H1387.4V532.3H1376.8zM1433.3 528.8H1436.8V532.3H1433.3zM1376.8 525.2H1383.9V528.8H1376.8zM1433.3 525.2H1440.3V528.8H1433.3zM1376.8 521.7H1380.4V525.2H1376.8zM1426.2 521.7H1433.3V525.2H1426.2zM1436.8 521.7H1443.9V525.2H1436.8zM1380.4 518.2H1383.9V521.7H1380.4zM1429.7 518.2H1436.8V521.7H1429.7zM1380.4 514.6H1383.9V518.2H1380.4zM1433.3 514.6H1436.8V518.2H1433.3zM1380.4 511.1H1383.9V514.6H1380.4zM1380.4 507.6H1387.4V511.1H1380.4zM1461.5 504.1H1465.0V507.6H1461.5zM1405.0 500.5H1408.6V504.1H1405.0zM1465.0 500.5H1468.6V504.1H1465.0zM1401.5 497.0H1412.1V500.5H1401.5zM1468.6 497.0H1472.1V500.5H1468.6zM1401.5 493.5H1415.6V497.0H1401.5zM1450.9 493.5H1454.4V497.0H1450.9zM1472.1 493.5H1475.6V497.0H1472.1zM1405.0 489.9H1412.1V493.5H1405.0zM1454.4 489.9H1458.0V493.5H1454.4zM1479.1 489.9H1482.7V493.5H1479.1zM1489.7 489.9H1493.2V493.5H1489.7zM1458.0 486.4H1461.5V489.9H1458.0zM1479.1 486.4H1482.7V489.9H1479.1zM1461.5 482.9H1465.0V486.4H1461.5zM1482.7 482.9H1486.2V486.4H1482.7zM1486.2 479.4H1489.7V482.9H1486.2zM1465.0 475.8H1472.1V479.4H1465.0zM1489.7 475.8H1493.2V479.4H1489.7zM1472.1 472.3H1475.6V475.8H1472.1zM1493.2 472.3H1500.3V475.8H1493.2zM1542.6 472.3H1549.7V475.8H1542.6zM1401.5 468.8H1405.0V472.3H1401.5zM1475.6 468.8H1479.1V472.3H1475.6zM1539.1 468.8H1553.2V472.3H1539.1zM1394.5 465.3H1401.5V468.8H1394.5zM1465.0 465.3H1468.6V468.8H1465.0zM1479.1 465.3H1482.7V468.8H1479.1zM1542.6 465.3H1556.8V468.8H1542.6zM1390.9 461.7H1398.0V465.3H1390.9zM1482.7 461.7H1486.2V465.3H1482.7zM1546.2 461.7H1553.2V465.3H1546.2zM1482.7 458.2H1486.2V461.7H1482.7zM1514.4 444.1H1521.5V447.6H1514.4zM1510.9 440.6H1514.4V444.1H1510.9zM1517.9 440.6H1525.0V444.1H1517.9zM1510.9 437.0H1517.9V440.6H1510.9zM1521.5 437.0H1528.5V440.6H1521.5zM1514.4 433.5H1521.5V437.0H1514.4zM1517.9 430.0H1521.5V433.5H1517.9zM1570.9 430.0H1577.9V433.5H1570.9zM1567.3 426.4H1581.4V430.0H1567.3zM1570.9 422.9H1581.4V426.4H1570.9zM1574.4 419.4H1577.9V422.9H1574.4zM1486.2 415.9H1489.7V419.4H1486.2zM1482.7 412.3H1493.2V415.9H1482.7zM399.6 408.8H410.2V412.3H399.6zM1482.7 408.8H1496.8V412.3H1482.7zM1549.7 408.8H1556.8V412.3H1549.7zM385.5 405.3H403.1V408.8H385.5zM1486.2 405.3H1496.8V408.8H1486.2zM1546.2 405.3H1549.7V408.8H1546.2zM1553.2 405.3H1560.3V408.8H1553.2zM1489.7 401.7H1493.2V405.3H1489.7zM1546.2 401.7H1553.2V405.3H1546.2zM1556.8 401.7H1560.3V405.3H1556.8zM1549.7 398.2H1556.8V401.7H1549.7zM367.8 391.2H374.9V394.7H367.8zM371.3 387.6H374.9V391.2H371.3zM1528.5 387.6H1532.1V391.2H1528.5zM1525.0 384.1H1535.6V387.6H1525.0zM350.2 380.6H357.2V384.1H350.2zM1525.0 380.6H1539.1V384.1H1525.0zM350.2 377.1H357.2V380.6H350.2zM1528.5 377.1H1535.6V380.6H1528.5zM350.2 373.5H357.2V377.1H350.2zM1602.6 370.0H1606.1V373.5H1602.6zM1606.1 366.5H1609.7V370.0H1606.1zM1655.5 366.5H1659.1V370.0H1655.5zM1599.1 362.9H1602.6V366.5H1599.1zM1609.7 362.9H1616.7V366.5H1609.7zM1655.5 362.9H1662.6V366.5H1655.5zM1602.6 359.4H1606.1V362.9H1602.6zM1613.2 359.4H1620.3V362.9H1613.2zM1648.5 359.4H1655.5V362.9H1648.5zM1659.1 359.4H1662.6V362.9H1659.1zM1592.0 355.9H1595.6V359.4H1592.0zM1606.1 355.9H1609.7V359.4H1606.1zM1616.7 355.9H1620.3V359.4H1616.7zM1652.0 355.9H1659.1V359.4H1652.0zM1585.0 352.4H1588.5V355.9H1585.0zM1595.6 352.4H1599.1V355.9H1595.6zM1609.7 352.4H1613.2V355.9H1609.7zM1620.3 352.4H1627.3V355.9H1620.3zM1648.5 352.4H1659.1V355.9H1648.5zM1588.5 348.8H1592.0V352.4H1588.5zM1599.1 348.8H1602.6V352.4H1599.1zM1613.2 348.8H1616.7V352.4H1613.2zM1623.8 348.8H1627.3V352.4H1623.8zM1634.4 348.8H1637.9V352.4H1634.4zM1683.8 348.8H1687.3V352.4H1683.8zM1592.0 345.3H1595.6V348.8H1592.0zM1602.6 345.3H1606.1V348.8H1602.6zM1616.7 345.3H1620.3V348.8H1616.7zM1627.3 345.3H1630.8V348.8H1627.3zM1634.4 345.3H1637.9V348.8H1634.4zM1712.0 345.3H1715.5V348.8H1712.0zM1592.0 341.8H1599.1V345.3H1592.0zM1606.1 341.8H1609.7V345.3H1606.1zM1620.3 341.8H1623.8V345.3H1620.3zM1630.8 341.8H1637.9V345.3H1630.8zM1641.4 341.8H1648.5V345.3H1641.4zM1595.6 338.2H1602.6V341.8H1595.6zM1609.7 338.2H1613.2V341.8H1609.7zM1623.8 338.2H1627.3V341.8H1623.8zM1634.4 338.2H1648.5V341.8H1634.4zM1602.6 334.7H1606.1V338.2H1602.6zM1613.2 334.7H1616.7V338.2H1613.2zM1627.3 334.7H1630.8V338.2H1627.3zM1637.9 334.7H1641.4V338.2H1637.9zM1697.9 334.7H1701.4V338.2H1697.9zM1708.5 334.7H1712.0V338.2H1708.5zM1602.6 331.2H1609.7V334.7H1602.6zM1616.7 331.2H1620.3V334.7H1616.7zM1630.8 331.2H1634.4V334.7H1630.8zM1641.4 331.2H1648.5V334.7H1641.4zM1722.6 331.2H1726.1V334.7H1722.6zM1609.7 327.7H1613.2V331.2H1609.7zM1620.3 327.7H1623.8V331.2H1620.3zM1634.4 327.7H1637.9V331.2H1634.4zM1645.0 327.7H1652.0V331.2H1645.0zM1613.2 324.1H1616.7V327.7H1613.2zM1623.8 324.1H1627.3V327.7H1623.8zM1637.9 324.1H1641.4V327.7H1637.9zM1648.5 324.1H1652.0V327.7H1648.5zM1606.1 320.6H1620.3V324.1H1606.1zM1627.3 320.6H1630.8V324.1H1627.3zM1641.4 320.6H1645.0V324.1H1641.4zM1652.0 320.6H1659.1V324.1H1652.0zM1708.5 320.6H1712.0V324.1H1708.5zM1616.7 317.1H1623.8V320.6H1616.7zM1630.8 317.1H1634.4V320.6H1630.8zM1645.0 317.1H1648.5V320.6H1645.0zM1655.5 317.1H1662.6V320.6H1655.5zM1704.9 317.1H1708.5V320.6H1704.9zM1613.2 313.5H1620.3V317.1H1613.2zM1623.8 313.5H1627.3V317.1H1623.8zM1634.4 313.5H1637.9V317.1H1634.4zM1648.5 313.5H1652.0V317.1H1648.5zM1659.1 313.5H1662.6V317.1H1659.1zM1613.2 310.0H1620.3V313.5H1613.2zM1623.8 310.0H1630.8V313.5H1623.8zM1637.9 310.0H1641.4V313.5H1637.9zM1652.0 310.0H1655.5V313.5H1652.0zM1662.6 310.0H1669.6V313.5H1662.6zM1595.6 306.5H1599.1V310.0H1595.6zM1602.6 306.5H1606.1V310.0H1602.6zM1627.3 306.5H1634.4V310.0H1627.3zM1641.4 306.5H1645.0V310.0H1641.4zM1655.5 306.5H1659.1V310.0H1655.5zM1666.1 306.5H1673.2V310.0H1666.1zM1595.6 303.0H1606.1V306.5H1595.6zM1634.4 303.0H1637.9V306.5H1634.4zM1645.0 303.0H1648.5V306.5H1645.0zM1659.1 303.0H1662.6V306.5H1659.1zM1669.6 303.0H1673.2V306.5H1669.6zM1588.5 299.4H1595.6V303.0H1588.5zM1599.1 299.4H1606.1V303.0H1599.1zM1634.4 299.4H1641.4V303.0H1634.4zM1648.5 299.4H1652.0V303.0H1648.5zM1662.6 299.4H1666.1V303.0H1662.6zM1673.2 299.4H1676.7V303.0H1673.2zM1687.3 299.4H1694.3V303.0H1687.3zM1697.9 299.4H1701.4V303.0H1697.9zM1592.0 295.9H1599.1V299.4H1592.0zM1637.9 295.9H1645.0V299.4H1637.9zM1652.0 295.9H1655.5V299.4H1652.0zM1666.1 295.9H1669.6V299.4H1666.1zM1676.7 295.9H1680.2V299.4H1676.7zM1683.8 295.9H1687.3V299.4H1683.8zM1690.8 295.9H1694.3V299.4H1690.8zM1645.0 292.4H1648.5V295.9H1645.0zM1655.5 292.4H1659.1V295.9H1655.5zM1669.6 292.4H1673.2V295.9H1669.6zM1683.8 292.4H1687.3V295.9H1683.8zM1690.8 292.4H1694.3V295.9H1690.8zM1800.2 292.4H1803.7V295.9H1800.2zM1645.0 288.9H1652.0V292.4H1645.0zM1659.1 288.9H1662.6V292.4H1659.1zM1673.2 288.9H1676.7V292.4H1673.2zM1680.2 288.9H1687.3V292.4H1680.2zM1648.5 285.3H1655.5V288.9H1648.5zM1662.6 285.3H1666.1V288.9H1662.6zM1676.7 285.3H1680.2V288.9H1676.7zM1687.3 285.3H1690.8V288.9H1687.3zM1655.5 281.8H1659.1V285.3H1655.5zM1666.1 281.8H1669.6V285.3H1666.1zM1680.2 281.8H1683.8V285.3H1680.2zM1690.8 281.8H1694.3V285.3H1690.8zM1659.1 278.3H1662.6V281.8H1659.1zM1669.6 278.3H1673.2V281.8H1669.6zM1683.8 278.3H1687.3V281.8H1683.8zM1694.3 278.3H1701.4V281.8H1694.3zM1666.1 274.7H1669.6V278.3H1666.1zM1673.2 274.7H1676.7V278.3H1673.2zM1687.3 274.7H1690.8V278.3H1687.3zM1697.9 274.7H1701.4V278.3H1697.9zM1606.1 271.2H1609.7V274.7H1606.1zM1659.1 271.2H1669.6V274.7H1659.1zM1676.7 271.2H1680.2V274.7H1676.7zM1690.8 271.2H1694.3V274.7H1690.8zM1701.4 271.2H1708.5V274.7H1701.4zM1655.5 267.7H1659.1V271.2H1655.5zM1669.6 267.7H1673.2V271.2H1669.6zM1680.2 267.7H1683.8V271.2H1680.2zM1694.3 267.7H1697.9V271.2H1694.3zM1704.9 267.7H1712.0V271.2H1704.9zM1814.3 267.7H1817.8V271.2H1814.3zM1655.5 264.2H1666.1V267.7H1655.5zM1673.2 264.2H1676.7V267.7H1673.2zM1683.8 264.2H1687.3V267.7H1683.8zM1697.9 264.2H1701.4V267.7H1697.9zM1708.5 264.2H1715.5V267.7H1708.5zM1786.1 264.2H1789.6V267.7H1786.1zM1831.9 264.2H1835.5V267.7H1831.9zM1676.7 260.6H1680.2V264.2H1676.7zM1687.3 260.6H1690.8V264.2H1687.3zM1701.4 260.6H1704.9V264.2H1701.4zM1712.0 260.6H1715.5V264.2H1712.0zM1775.5 260.6H1782.5V264.2H1775.5zM1620.3 257.1H1623.8V260.6H1620.3zM1655.5 257.1H1659.1V260.6H1655.5zM1676.7 257.1H1683.8V260.6H1676.7zM1690.8 257.1H1694.3V260.6H1690.8zM1704.9 257.1H1708.5V260.6H1704.9zM1715.5 257.1H1722.6V260.6H1715.5zM1779.0 257.1H1786.1V260.6H1779.0zM1683.8 253.6H1687.3V257.1H1683.8zM1694.3 253.6H1697.9V257.1H1694.3zM1708.5 253.6H1712.0V257.1H1708.5zM1719.0 253.6H1726.1V257.1H1719.0zM1779.0 253.6H1786.1V257.1H1779.0zM1637.9 250.0H1641.4V253.6H1637.9zM1683.8 250.0H1690.8V253.6H1683.8zM1697.9 250.0H1701.4V253.6H1697.9zM1712.0 250.0H1715.5V253.6H1712.0zM1722.6 250.0H1729.6V253.6H1722.6zM1772.0 250.0H1775.5V253.6H1772.0zM1814.3 250.0H1817.8V253.6H1814.3zM1620.3 246.5H1623.8V250.0H1620.3zM1634.4 246.5H1637.9V250.0H1634.4zM1687.3 246.5H1694.3V250.0H1687.3zM1701.4 246.5H1704.9V250.0H1701.4zM1715.5 246.5H1719.0V250.0H1715.5zM1726.1 246.5H1733.2V250.0H1726.1zM1609.7 243.0H1613.2V246.5H1609.7zM1690.8 243.0H1697.9V246.5H1690.8zM1704.9 243.0H1708.5V246.5H1704.9zM1719.0 243.0H1722.6V246.5H1719.0zM1729.6 243.0H1736.7V246.5H1729.6zM1764.9 243.0H1768.4V246.5H1764.9zM1697.9 239.5H1701.4V243.0H1697.9zM1708.5 239.5H1712.0V243.0H1708.5zM1722.6 239.5H1726.1V243.0H1722.6zM1733.2 239.5H1740.2V243.0H1733.2zM1761.4 239.5H1768.4V243.0H1761.4zM1697.9 235.9H1704.9V239.5H1697.9zM1712.0 235.9H1715.5V239.5H1712.0zM1726.1 235.9H1729.6V239.5H1726.1zM1736.7 235.9H1740.2V239.5H1736.7zM1764.9 235.9H1768.4V239.5H1764.9zM1623.8 232.4H1627.3V235.9H1623.8zM1701.4 232.4H1708.5V235.9H1701.4zM1715.5 232.4H1719.0V235.9H1715.5zM1729.6 232.4H1733.2V235.9H1729.6zM1740.2 232.4H1747.3V235.9H1740.2zM1704.9 228.9H1712.0V232.4H1704.9zM1719.0 228.9H1722.6V232.4H1719.0zM1733.2 228.9H1736.7V232.4H1733.2zM1743.7 228.9H1747.3V232.4H1743.7zM1754.3 228.9H1761.4V232.4H1754.3zM1764.9 228.9H1768.4V232.4H1764.9zM1708.5 225.3H1715.5V228.9H1708.5zM1722.6 225.3H1726.1V228.9H1722.6zM1736.7 225.3H1740.2V228.9H1736.7zM1747.3 225.3H1764.9V228.9H1747.3zM1712.0 221.8H1719.0V225.3H1712.0zM1726.1 221.8H1729.6V225.3H1726.1zM1740.2 221.8H1743.7V225.3H1740.2zM1754.3 221.8H1757.8V225.3H1754.3zM1764.9 221.8H1768.4V225.3H1764.9zM1715.5 218.3H1722.6V221.8H1715.5zM1729.6 218.3H1733.2V221.8H1729.6zM1743.7 218.3H1747.3V221.8H1743.7zM1750.8 218.3H1754.3V221.8H1750.8zM1722.6 214.8H1726.1V218.3H1722.6zM1733.2 214.8H1736.7V218.3H1733.2zM1750.8 214.8H1754.3V218.3H1750.8zM1757.8 214.8H1761.4V218.3H1757.8zM1722.6 211.2H1729.6V214.8H1722.6zM1736.7 211.2H1740.2V214.8H1736.7zM1750.8 211.2H1754.3V214.8H1750.8zM1761.4 211.2H1768.4V214.8H1761.4zM1729.6 207.7H1733.2V211.2H1729.6zM1754.3 207.7H1757.8V211.2H1754.3zM1764.9 207.7H1772.0V211.2H1764.9zM1729.6 204.2H1733.2V207.7H1729.6zM1736.7 204.2H1747.3V207.7H1736.7zM1757.8 204.2H1761.4V207.7H1757.8zM1768.4 204.2H1775.5V207.7H1768.4zM1726.1 200.7H1736.7V204.2H1726.1zM1747.3 200.7H1750.8V204.2H1747.3zM1761.4 200.7H1764.9V204.2H1761.4zM1772.0 200.7H1779.0V204.2H1772.0zM1726.1 197.1H1733.2V200.7H1726.1zM1740.2 197.1H1743.7V200.7H1740.2zM1750.8 197.1H1754.3V200.7H1750.8zM1764.9 197.1H1768.4V200.7H1764.9zM1775.5 197.1H1782.5V200.7H1775.5zM1715.5 193.6H1719.0V197.1H1715.5zM1729.6 193.6H1733.2V197.1H1729.6zM1743.7 193.6H1747.3V197.1H1743.7zM1754.3 193.6H1757.8V197.1H1754.3zM1768.4 193.6H1772.0V197.1H1768.4zM1779.0 193.6H1786.1V197.1H1779.0zM1712.0 190.1H1722.6V193.6H1712.0zM1726.1 190.1H1729.6V193.6H1726.1zM1733.2 190.1H1736.7V193.6H1733.2zM1743.7 190.1H1750.8V193.6H1743.7zM1757.8 190.1H1761.4V193.6H1757.8zM1772.0 190.1H1775.5V193.6H1772.0zM1782.5 190.1H1786.1V193.6H1782.5zM1747.3 186.5H1754.3V190.1H1747.3zM1761.4 186.5H1764.9V190.1H1761.4zM1775.5 186.5H1779.0V190.1H1775.5zM1786.1 186.5H1789.6V190.1H1786.1zM1704.9 183.0H1708.5V186.5H1704.9zM1750.8 183.0H1757.8V186.5H1750.8zM1764.9 183.0H1768.4V186.5H1764.9zM1779.0 183.0H1782.5V186.5H1779.0zM1789.6 183.0H1800.2V186.5H1789.6zM1803.7 183.0H1807.2V186.5H1803.7zM1694.3 179.5H1697.9V183.0H1694.3zM1754.3 179.5H1761.4V183.0H1754.3zM1768.4 179.5H1772.0V183.0H1768.4zM1782.5 179.5H1786.1V183.0H1782.5zM1793.1 179.5H1800.2V183.0H1793.1zM1694.3 176.0H1704.9V179.5H1694.3zM1757.8 176.0H1764.9V179.5H1757.8zM1772.0 176.0H1775.5V179.5H1772.0zM1786.1 176.0H1789.6V179.5H1786.1zM1796.7 176.0H1803.7V179.5H1796.7zM1697.9 172.4H1704.9V176.0H1697.9zM1761.4 172.4H1768.4V176.0H1761.4zM1775.5 172.4H1779.0V176.0H1775.5zM1789.6 172.4H1793.1V176.0H1789.6zM1800.2 172.4H1803.7V176.0H1800.2zM1690.8 168.9H1694.3V172.4H1690.8zM1768.4 168.9H1772.0V172.4H1768.4zM1779.0 168.9H1782.5V172.4H1779.0zM1793.1 168.9H1796.7V172.4H1793.1zM1803.7 168.9H1807.2V172.4H1803.7zM1772.0 165.4H1775.5V168.9H1772.0zM1782.5 165.4H1786.1V168.9H1782.5zM1796.7 165.4H1800.2V168.9H1796.7zM1807.2 165.4H1810.8V168.9H1807.2zM1772.0 161.8H1779.0V165.4H1772.0zM1786.1 161.8H1789.6V165.4H1786.1zM1800.2 161.8H1803.7V165.4H1800.2zM1810.8 161.8H1814.3V165.4H1810.8zM1772.0 158.3H1782.5V161.8H1772.0zM1789.6 158.3H1793.1V161.8H1789.6zM1803.7 158.3H1807.2V161.8H1803.7zM1814.3 158.3H1821.4V161.8H1814.3zM1662.6 154.8H1666.1V158.3H1662.6zM1779.0 154.8H1786.1V158.3H1779.0zM1793.1 154.8H1796.7V158.3H1793.1zM1807.2 154.8H1810.8V158.3H1807.2zM1817.8 154.8H1824.9V158.3H1817.8zM1772.0 151.3H1775.5V154.8H1772.0zM1786.1 151.3H1789.6V154.8H1786.1zM1796.7 151.3H1800.2V154.8H1796.7zM1810.8 151.3H1814.3V154.8H1810.8zM1821.4 151.3H1828.4V154.8H1821.4zM1789.6 147.7H1793.1V151.3H1789.6zM1800.2 147.7H1803.7V151.3H1800.2zM1814.3 147.7H1817.8V151.3H1814.3zM1824.9 147.7H1831.9V151.3H1824.9zM1793.1 144.2H1796.7V147.7H1793.1zM1803.7 144.2H1807.2V147.7H1803.7zM1817.8 144.2H1821.4V147.7H1817.8zM1828.4 144.2H1835.5V147.7H1828.4zM1687.3 140.7H1690.8V144.2H1687.3zM1704.9 140.7H1708.5V144.2H1704.9zM1796.7 140.7H1800.2V144.2H1796.7zM1807.2 140.7H1810.8V144.2H1807.2zM1821.4 140.7H1824.9V144.2H1821.4zM1831.9 140.7H1835.5V144.2H1831.9zM1796.7 137.1H1803.7V140.7H1796.7zM1810.8 137.1H1814.3V140.7H1810.8zM1824.9 137.1H1828.4V140.7H1824.9zM1835.5 137.1H1839.0V140.7H1835.5zM1800.2 133.6H1807.2V137.1H1800.2zM1814.3 133.6H1817.8V137.1H1814.3zM1828.4 133.6H1831.9V137.1H1828.4zM1803.7 130.1H1810.8V133.6H1803.7zM1817.8 130.1H1821.4V133.6H1817.8zM1831.9 130.1H1835.5V133.6H1831.9zM1807.2 126.6H1814.3V130.1H1807.2zM1821.4 126.6H1824.9V130.1H1821.4zM1835.5 126.6H1839.0V130.1H1835.5zM1690.8 123.0H1694.3V126.6H1690.8zM1810.8 123.0H1817.8V126.6H1810.8zM1824.9 123.0H1828.4V126.6H1824.9zM1817.8 119.5H1821.4V123.0H1817.8zM1828.4 119.5H1831.9V123.0H1828.4z"/><path fill="#0CEEFF" d="M1659.1 352.4H1662.6V355.9H1659.1zM1655.5 348.8H1659.1V352.4H1655.5zM1630.8 345.3H1634.4V348.8H1630.8zM1630.8 334.7H1634.4V338.2H1630.8zM1609.7 324.1H1613.2V327.7H1609.7zM1620.3 324.1H1623.8V327.7H1620.3zM1690.8 306.5H1694.3V310.0H1690.8zM1606.1 299.4H1609.7V303.0H1606.1zM1602.6 295.9H1606.1V299.4H1602.6zM1648.5 264.2H1652.0V267.7H1648.5zM1782.5 260.6H1786.1V264.2H1782.5zM1775.5 253.6H1779.0V257.1H1775.5zM1768.4 239.5H1772.0V243.0H1768.4zM1754.3 235.9H1757.8V239.5H1754.3zM1761.4 235.9H1764.9V239.5H1761.4zM1761.4 228.9H1764.9V232.4H1761.4zM1761.4 221.8H1764.9V225.3H1761.4zM1719.0 200.7H1722.6V204.2H1719.0zM1719.0 193.6H1722.6V197.1H1719.0zM1726.1 193.6H1729.6V197.1H1726.1zM1733.2 193.6H1736.7V197.1H1733.2zM1715.5 186.5H1719.0V190.1H1715.5zM1701.4 179.5H1704.9V183.0H1701.4zM1694.3 172.4H1697.9V176.0H1694.3z"/><path fill="#4A8CC8" d="M1570.9 1601.3H1574.4V1604.8H1570.9zM1567.3 1597.7H1577.9V1601.3H1567.3zM1563.8 1594.2H1581.4V1597.7H1563.8zM1563.8 1590.7H1577.9V1594.2H1563.8zM1570.9 1587.2H1574.4V1590.7H1570.9zM1563.8 1580.1H1567.3V1583.6H1563.8zM470.1 1569.5H473.7V1573.0H470.1zM1553.2 1569.5H1556.8V1573.0H1553.2zM1546.2 1558.9H1549.7V1562.5H1546.2zM441.9 1555.4H445.4V1558.9H441.9zM1542.6 1555.4H1546.2V1558.9H1542.6zM438.4 1551.9H449.0V1555.4H438.4zM1542.6 1551.9H1546.2V1555.4H1542.6zM434.8 1548.3H452.5V1551.9H434.8zM1539.1 1548.3H1546.2V1551.9H1539.1zM431.3 1544.8H449.0V1548.3H431.3zM1539.1 1544.8H1546.2V1548.3H1539.1zM427.8 1541.3H445.4V1544.8H427.8zM1539.1 1541.3H1542.6V1544.8H1539.1zM427.8 1537.8H441.9V1541.3H427.8zM431.3 1534.2H438.4V1537.8H431.3zM413.7 1527.2H420.7V1530.7H413.7zM410.2 1523.7H424.3V1527.2H410.2zM406.6 1520.1H424.3V1523.7H406.6zM473.7 1520.1H480.7V1523.7H473.7zM403.1 1516.6H420.7V1520.1H403.1zM470.1 1516.6H484.2V1520.1H470.1zM558.3 1516.6H572.4V1520.1H558.3zM399.6 1513.1H417.2V1516.6H399.6zM466.6 1513.1H484.2V1516.6H466.6zM558.3 1513.1H561.9V1516.6H558.3zM403.1 1509.5H413.7V1513.1H403.1zM463.1 1509.5H480.7V1513.1H463.1zM558.3 1509.5H561.9V1513.1H558.3zM406.6 1506.0H410.2V1509.5H406.6zM459.5 1506.0H477.2V1509.5H459.5zM463.1 1502.5H473.7V1506.0H463.1zM466.6 1499.0H470.1V1502.5H466.6zM449.0 1495.4H452.5V1499.0H449.0zM607.7 1495.4H611.2V1499.0H607.7zM445.4 1491.9H456.0V1495.4H445.4zM441.9 1488.4H459.5V1491.9H441.9zM508.9 1488.4H516.0V1491.9H508.9zM385.5 1484.8H389.0V1488.4H385.5zM438.4 1484.8H456.0V1488.4H438.4zM505.4 1484.8H519.5V1488.4H505.4zM434.8 1481.3H452.5V1484.8H434.8zM501.9 1481.3H523.0V1484.8H501.9zM434.8 1477.8H449.0V1481.3H434.8zM498.4 1477.8H519.5V1481.3H498.4zM438.4 1474.3H445.4V1477.8H438.4zM494.8 1474.3H516.0V1477.8H494.8zM494.8 1470.7H512.5V1474.3H494.8zM498.4 1467.2H508.9V1470.7H498.4zM501.9 1463.7H505.4V1467.2H501.9zM480.7 1460.1H487.8V1463.7H480.7zM477.2 1456.6H491.3V1460.1H477.2zM473.7 1453.1H494.8V1456.6H473.7zM470.1 1449.6H491.3V1453.1H470.1zM466.6 1446.0H487.8V1449.6H466.6zM466.6 1442.5H484.2V1446.0H466.6zM470.1 1439.0H480.7V1442.5H470.1zM473.7 1435.5H477.2V1439.0H473.7zM600.7 1403.7H607.7V1407.2H600.7zM597.1 1400.2H611.2V1403.7H597.1zM438.4 1396.6H449.0V1400.2H438.4zM593.6 1396.6H611.2V1400.2H593.6zM438.4 1393.1H441.9V1396.6H438.4zM590.1 1393.1H607.7V1396.6H590.1zM438.4 1389.6H441.9V1393.1H438.4zM586.6 1389.6H604.2V1393.1H586.6zM438.4 1386.1H441.9V1389.6H438.4zM583.0 1386.1H600.7V1389.6H583.0zM583.0 1382.5H597.1V1386.1H583.0zM586.6 1379.0H593.6V1382.5H586.6zM568.9 1371.9H576.0V1375.5H568.9zM565.4 1368.4H579.5V1371.9H565.4zM561.9 1364.9H579.5V1368.4H561.9zM628.9 1364.9H635.9V1368.4H628.9zM558.3 1361.4H576.0V1364.9H558.3zM625.4 1361.4H639.5V1364.9H625.4zM554.8 1357.8H572.4V1361.4H554.8zM621.8 1357.8H639.5V1361.4H621.8zM551.3 1354.3H568.9V1357.8H551.3zM618.3 1354.3H635.9V1357.8H618.3zM551.3 1350.8H565.4V1354.3H551.3zM614.8 1350.8H632.4V1354.3H614.8zM706.5 1350.8H710.0V1354.3H706.5zM459.5 1347.3H463.1V1350.8H459.5zM554.8 1347.3H561.9V1350.8H554.8zM618.3 1347.3H628.9V1350.8H618.3zM703.0 1347.3H706.5V1350.8H703.0zM621.8 1343.7H625.4V1347.3H621.8zM699.4 1343.7H703.0V1347.3H699.4zM604.2 1340.2H607.7V1343.7H604.2zM695.9 1340.2H703.0V1343.7H695.9zM600.7 1336.7H611.2V1340.2H600.7zM692.4 1336.7H699.4V1340.2H692.4zM597.1 1333.1H614.8V1336.7H597.1zM692.4 1333.1H695.9V1336.7H692.4zM593.6 1329.6H611.2V1333.1H593.6zM590.1 1326.1H607.7V1329.6H590.1zM660.6 1326.1H667.7V1329.6H660.6zM590.1 1322.6H604.2V1326.1H590.1zM657.1 1322.6H671.2V1326.1H657.1zM593.6 1319.0H600.7V1322.6H593.6zM653.6 1319.0H671.2V1322.6H653.6zM650.1 1315.5H667.7V1319.0H650.1zM653.6 1312.0H664.2V1315.5H653.6zM657.1 1308.4H660.6V1312.0H657.1zM639.5 1304.9H643.0V1308.4H639.5zM635.9 1301.4H646.5V1304.9H635.9zM632.4 1297.9H650.1V1301.4H632.4zM628.9 1294.3H646.5V1297.9H628.9zM628.9 1290.8H643.0V1294.3H628.9zM632.4 1287.3H639.5V1290.8H632.4zM780.6 1266.1H787.6V1269.6H780.6zM618.3 1262.6H625.4V1266.1H618.3zM777.1 1262.6H780.6V1266.1H777.1zM787.6 1262.6H791.2V1266.1H787.6zM614.8 1259.1H621.8V1262.6H614.8zM773.5 1259.1H784.1V1262.6H773.5zM787.6 1259.1H791.2V1262.6H787.6zM611.2 1255.5H618.3V1259.1H611.2zM770.0 1255.5H784.1V1259.1H770.0zM607.7 1252.0H611.2V1255.5H607.7zM766.5 1252.0H784.1V1255.5H766.5zM604.2 1248.5H607.7V1252.0H604.2zM763.0 1248.5H780.6V1252.0H763.0zM985.2 1248.5H988.7V1252.0H985.2zM759.4 1244.9H777.1V1248.5H759.4zM755.9 1241.4H773.5V1244.9H755.9zM974.6 1241.4H978.2V1244.9H974.6zM752.4 1237.9H770.0V1241.4H752.4zM752.4 1234.4H766.5V1237.9H752.4zM752.4 1230.8H763.0V1234.4H752.4zM717.1 1202.6H727.7V1206.1H717.1zM713.6 1199.1H727.7V1202.6H713.6zM710.0 1195.5H727.7V1199.1H710.0zM798.2 1195.5H805.3V1199.1H798.2zM706.5 1192.0H724.1V1195.5H706.5zM794.7 1192.0H808.8V1195.5H794.7zM939.4 1192.0H942.9V1195.5H939.4zM703.0 1188.5H720.6V1192.0H703.0zM791.2 1188.5H808.8V1192.0H791.2zM935.8 1188.5H946.4V1192.0H935.8zM699.4 1185.0H717.1V1188.5H699.4zM787.6 1185.0H805.3V1188.5H787.6zM932.3 1185.0H946.4V1188.5H932.3zM695.9 1181.4H713.6V1185.0H695.9zM784.1 1181.4H801.8V1185.0H784.1zM932.3 1181.4H942.9V1185.0H932.3zM692.4 1177.9H710.0V1181.4H692.4zM787.6 1177.9H798.2V1181.4H787.6zM932.3 1177.9H939.4V1181.4H932.3zM688.9 1174.4H692.4V1177.9H688.9zM695.9 1174.4H706.5V1177.9H695.9zM791.2 1174.4H794.7V1177.9H791.2zM890.0 1174.4H900.5V1177.9H890.0zM928.8 1174.4H935.8V1177.9H928.8zM688.9 1170.9H692.4V1174.4H688.9zM773.5 1170.9H777.1V1174.4H773.5zM886.4 1170.9H893.5V1174.4H886.4zM897.0 1170.9H900.5V1174.4H897.0zM918.2 1170.9H921.7V1174.4H918.2zM925.2 1170.9H932.3V1174.4H925.2zM692.4 1167.3H699.4V1170.9H692.4zM770.0 1167.3H780.6V1170.9H770.0zM882.9 1167.3H893.5V1170.9H882.9zM897.0 1167.3H900.5V1170.9H897.0zM914.7 1167.3H918.2V1170.9H914.7zM921.7 1167.3H928.8V1170.9H921.7zM988.7 1167.3H992.3V1170.9H988.7zM766.5 1163.8H784.1V1167.3H766.5zM879.4 1163.8H897.0V1167.3H879.4zM911.1 1163.8H925.2V1167.3H911.1zM763.0 1160.3H780.6V1163.8H763.0zM875.8 1160.3H893.5V1163.8H875.8zM907.6 1160.3H911.1V1163.8H907.6zM918.2 1160.3H921.7V1163.8H918.2zM981.7 1160.3H985.2V1163.8H981.7zM759.4 1156.7H777.1V1160.3H759.4zM872.3 1156.7H890.0V1160.3H872.3zM911.1 1156.7H918.2V1160.3H911.1zM759.4 1153.2H773.5V1156.7H759.4zM868.8 1153.2H886.4V1156.7H868.8zM763.0 1149.7H770.0V1153.2H763.0zM865.3 1149.7H882.9V1153.2H865.3zM861.7 1146.2H879.4V1149.7H861.7zM854.7 1142.6H861.7V1146.2H854.7zM865.3 1142.6H875.8V1146.2H865.3zM858.2 1139.1H861.7V1142.6H858.2zM865.3 1139.1H872.3V1142.6H865.3zM858.2 1135.6H868.8V1139.1H858.2zM812.3 1100.3H815.9V1103.8H812.3zM812.3 1096.8H822.9V1100.3H812.3zM808.8 1093.2H812.3V1096.8H808.8zM819.4 1093.2H822.9V1096.8H819.4zM805.3 1089.7H822.9V1093.2H805.3zM801.8 1086.2H819.4V1089.7H801.8zM798.2 1082.7H815.9V1086.2H798.2zM794.7 1079.1H812.3V1082.7H794.7zM791.2 1075.6H808.8V1079.1H791.2zM787.6 1072.1H805.3V1075.6H787.6zM784.1 1068.5H801.8V1072.1H784.1zM780.6 1065.0H798.2V1068.5H780.6zM780.6 1061.5H784.1V1065.0H780.6zM791.2 1061.5H794.7V1065.0H791.2zM780.6 1058.0H791.2V1061.5H780.6zM794.7 1047.4H798.2V1050.9H794.7zM791.2 1043.8H794.7V1047.4H791.2zM798.2 1043.8H801.8V1047.4H798.2zM787.6 1040.3H794.7V1043.8H787.6zM798.2 1040.3H801.8V1043.8H798.2zM784.1 1036.8H787.6V1040.3H784.1zM791.2 1036.8H798.2V1040.3H791.2zM787.6 1033.3H794.7V1036.8H787.6zM981.7 1033.3H985.2V1036.8H981.7zM784.1 1029.7H791.2V1033.3H784.1zM978.2 1029.7H988.7V1033.3H978.2zM780.6 1026.2H787.6V1029.7H780.6zM974.6 1026.2H992.3V1029.7H974.6zM770.0 1022.7H784.1V1026.2H770.0zM971.1 1022.7H988.7V1026.2H971.1zM766.5 1019.1H780.6V1022.7H766.5zM967.6 1019.1H985.2V1022.7H967.6zM763.0 1015.6H777.1V1019.1H763.0zM964.0 1015.6H981.7V1019.1H964.0zM766.5 1012.1H773.5V1015.6H766.5zM960.5 1012.1H978.2V1015.6H960.5zM957.0 1008.6H974.6V1012.1H957.0zM960.5 1005.0H971.1V1008.6H960.5zM964.0 1001.5H967.6V1005.0H964.0zM946.4 998.0H949.9V1001.5H946.4zM942.9 994.5H953.5V998.0H942.9zM939.4 990.9H957.0V994.5H939.4zM935.8 987.4H953.5V990.9H935.8zM1013.4 987.4H1020.5V990.9H1013.4zM932.3 983.9H949.9V987.4H932.3zM1009.9 983.9H1024.0V987.4H1009.9zM713.6 980.3H717.1V983.9H713.6zM928.8 980.3H946.4V983.9H928.8zM1006.4 980.3H1024.0V983.9H1006.4zM925.2 976.8H942.9V980.3H925.2zM1002.9 976.8H1020.5V980.3H1002.9zM1151.0 976.8H1154.6V980.3H1151.0zM794.7 973.3H798.2V976.8H794.7zM921.7 973.3H939.4V976.8H921.7zM999.3 973.3H1017.0V976.8H999.3zM706.5 969.8H710.0V973.3H706.5zM925.2 969.8H935.8V973.3H925.2zM995.8 969.8H1013.4V973.3H995.8zM787.6 966.2H791.2V969.8H787.6zM928.8 966.2H932.3V969.8H928.8zM999.3 966.2H1009.9V969.8H999.3zM1002.9 962.7H1006.4V966.2H1002.9zM985.2 959.2H988.7V962.7H985.2zM981.7 955.6H992.3V959.2H981.7zM978.2 952.1H995.8V955.6H978.2zM974.6 948.6H992.3V952.1H974.6zM971.1 945.1H988.7V948.6H971.1zM967.6 941.5H985.2V945.1H967.6zM967.6 938.0H981.7V941.5H967.6zM971.1 934.5H978.2V938.0H971.1zM1204.0 814.5H1207.5V818.1H1204.0zM1200.4 811.0H1211.0V814.5H1200.4zM1196.9 807.5H1214.5V811.0H1196.9zM978.2 803.9H981.7V807.5H978.2zM1193.4 803.9H1211.0V807.5H1193.4zM1189.8 800.4H1207.5V803.9H1189.8zM1186.3 796.9H1204.0V800.4H1186.3zM1182.8 793.4H1200.4V796.9H1182.8zM1179.3 789.8H1196.9V793.4H1179.3zM1179.3 786.3H1193.4V789.8H1179.3zM1182.8 782.8H1189.8V786.3H1182.8zM1165.1 775.7H1172.2V779.2H1165.1zM1161.6 772.2H1175.7V775.7H1161.6zM1158.1 768.7H1175.7V772.2H1158.1zM1154.6 765.1H1172.2V768.7H1154.6zM1151.0 761.6H1168.7V765.1H1151.0zM1147.5 758.1H1165.1V761.6H1147.5zM1232.2 758.1H1239.2V761.6H1232.2zM1362.7 758.1H1369.8V761.6H1362.7zM1144.0 754.5H1161.6V758.1H1144.0zM1228.6 754.5H1242.8V758.1H1228.6zM1362.7 754.5H1366.2V758.1H1362.7zM1140.4 751.0H1158.1V754.5H1140.4zM1225.1 751.0H1242.8V754.5H1225.1zM1359.2 751.0H1366.2V754.5H1359.2zM1144.0 747.5H1154.6V751.0H1144.0zM1221.6 747.5H1239.2V751.0H1221.6zM1359.2 747.5H1362.7V751.0H1359.2zM1147.5 744.0H1151.0V747.5H1147.5zM1221.6 744.0H1235.7V747.5H1221.6zM1355.7 744.0H1359.2V747.5H1355.7zM1225.1 740.4H1232.2V744.0H1225.1zM1207.5 733.4H1214.5V736.9H1207.5zM1204.0 729.9H1218.1V733.4H1204.0zM1288.6 729.9H1295.7V733.4H1288.6zM1200.4 726.3H1218.1V729.9H1200.4zM1285.1 726.3H1299.2V729.9H1285.1zM1196.9 722.8H1214.5V726.3H1196.9zM1281.6 722.8H1299.2V726.3H1281.6zM1196.9 719.3H1211.0V722.8H1196.9zM1278.0 719.3H1295.7V722.8H1278.0zM1200.4 715.7H1207.5V719.3H1200.4zM1274.5 715.7H1292.2V719.3H1274.5zM1271.0 712.2H1288.6V715.7H1271.0zM1267.5 708.7H1285.1V712.2H1267.5zM1263.9 705.2H1281.6V708.7H1263.9zM1263.9 701.6H1278.0V705.2H1263.9zM1267.5 698.1H1274.5V701.6H1267.5zM1249.8 691.0H1256.9V694.6H1249.8zM1246.3 687.5H1260.4V691.0H1246.3zM1242.8 684.0H1260.4V687.5H1242.8zM1239.2 680.5H1256.9V684.0H1239.2zM1235.7 676.9H1253.3V680.5H1235.7zM1232.2 673.4H1249.8V676.9H1232.2zM1228.6 669.9H1246.3V673.4H1228.6zM1225.1 666.3H1242.8V669.9H1225.1zM1225.1 662.8H1239.2V666.3H1225.1zM1228.6 659.3H1235.7V662.8H1228.6zM1387.4 609.9H1390.9V613.4H1387.4zM1383.9 606.4H1394.5V609.9H1383.9zM1380.4 602.8H1398.0V606.4H1380.4zM1211.0 599.3H1214.5V602.8H1211.0zM1376.8 599.3H1394.5V602.8H1376.8zM1204.0 595.8H1211.0V599.3H1204.0zM1373.3 595.8H1390.9V599.3H1373.3zM1532.1 595.8H1535.6V599.3H1532.1zM1196.9 592.3H1207.5V595.8H1196.9zM1373.3 592.3H1387.4V595.8H1373.3zM1196.9 588.7H1200.4V592.3H1196.9zM1376.8 588.7H1383.9V592.3H1376.8zM1359.2 581.7H1366.2V585.2H1359.2zM1355.7 578.1H1369.8V581.7H1355.7zM1352.1 574.6H1369.8V578.1H1352.1zM1415.6 574.6H1419.2V578.1H1415.6zM1348.6 571.1H1366.2V574.6H1348.6zM1412.1 571.1H1422.7V574.6H1412.1zM1500.3 571.1H1510.9V574.6H1500.3zM1345.1 567.6H1362.7V571.1H1345.1zM1408.6 567.6H1426.2V571.1H1408.6zM1496.8 567.6H1500.3V571.1H1496.8zM1348.6 564.0H1359.2V567.6H1348.6zM1405.0 564.0H1422.7V567.6H1405.0zM1496.8 564.0H1500.3V567.6H1496.8zM1352.1 560.5H1355.7V564.0H1352.1zM1405.0 560.5H1419.2V564.0H1405.0zM1408.6 557.0H1415.6V560.5H1408.6zM1390.9 549.9H1398.0V553.5H1390.9zM1387.4 546.4H1401.5V549.9H1387.4zM1450.9 546.4H1458.0V549.9H1450.9zM1383.9 542.9H1401.5V546.4H1383.9zM1447.4 542.9H1461.5V546.4H1447.4zM1380.4 539.3H1398.0V542.9H1380.4zM1443.9 539.3H1461.5V542.9H1443.9zM1383.9 535.8H1394.5V539.3H1383.9zM1440.3 535.8H1458.0V539.3H1440.3zM1387.4 532.3H1390.9V535.8H1387.4zM1436.8 532.3H1454.4V535.8H1436.8zM1436.8 528.8H1450.9V532.3H1436.8zM1440.3 525.2H1447.4V528.8H1440.3zM1422.7 518.2H1429.7V521.7H1422.7zM1419.2 514.6H1433.3V518.2H1419.2zM1415.6 511.1H1433.3V514.6H1415.6zM1412.1 507.6H1429.7V511.1H1412.1zM1408.6 504.1H1426.2V507.6H1408.6zM1408.6 500.5H1422.7V504.1H1408.6zM1412.1 497.0H1419.2V500.5H1412.1zM1535.6 465.3H1542.6V468.8H1535.6zM1532.1 461.7H1546.2V465.3H1532.1zM1387.4 458.2H1394.5V461.7H1387.4zM1528.5 458.2H1549.7V461.7H1528.5zM1383.9 454.7H1387.4V458.2H1383.9zM1525.0 454.7H1546.2V458.2H1525.0zM1383.9 451.1H1387.4V454.7H1383.9zM1521.5 451.1H1542.6V454.7H1521.5zM1383.9 447.6H1387.4V451.1H1383.9zM1517.9 447.6H1539.1V451.1H1517.9zM1521.5 444.1H1535.6V447.6H1521.5zM1525.0 440.6H1532.1V444.1H1525.0zM1507.4 437.0H1510.9V440.6H1507.4zM1503.8 433.5H1514.4V437.0H1503.8zM1500.3 430.0H1517.9V433.5H1500.3zM1496.8 426.4H1517.9V430.0H1496.8zM1359.2 422.9H1362.7V426.4H1359.2zM1493.2 422.9H1514.4V426.4H1493.2zM1563.8 422.9H1570.9V426.4H1563.8zM1489.7 419.4H1510.9V422.9H1489.7zM1560.3 419.4H1574.4V422.9H1560.3zM406.6 415.9H417.2V419.4H406.6zM1489.7 415.9H1507.4V419.4H1489.7zM1556.8 415.9H1574.4V419.4H1556.8zM399.6 412.3H413.7V415.9H399.6zM1493.2 412.3H1503.8V415.9H1493.2zM1553.2 412.3H1570.9V415.9H1553.2zM396.0 408.8H399.6V412.3H396.0zM1496.8 408.8H1500.3V412.3H1496.8zM1556.8 408.8H1567.3V412.3H1556.8zM1560.3 405.3H1563.8V408.8H1560.3zM385.5 401.7H389.0V405.3H385.5zM1542.6 401.7H1546.2V405.3H1542.6zM1539.1 398.2H1549.7V401.7H1539.1zM1535.6 394.7H1553.2V398.2H1535.6zM360.8 391.2H367.8V394.7H360.8zM374.9 391.2H378.4V394.7H374.9zM1532.1 391.2H1549.7V394.7H1532.1zM357.2 387.6H367.8V391.2H357.2zM1532.1 387.6H1546.2V391.2H1532.1zM353.7 384.1H371.3V387.6H353.7zM1535.6 384.1H1542.6V387.6H1535.6zM357.2 380.6H367.8V384.1H357.2zM360.8 377.1H364.3V380.6H360.8zM1655.5 359.4H1659.1V362.9H1655.5zM1641.4 355.9H1648.5V359.4H1641.4zM1645.0 345.3H1648.5V348.8H1645.0zM1641.4 334.7H1645.0V338.2H1641.4zM1712.0 324.1H1715.5V327.7H1712.0zM1701.4 317.1H1704.9V320.6H1701.4zM1599.1 313.5H1602.6V317.1H1599.1zM1620.3 313.5H1623.8V317.1H1620.3zM1599.1 310.0H1602.6V313.5H1599.1zM1609.7 310.0H1613.2V313.5H1609.7zM1697.9 310.0H1701.4V313.5H1697.9zM1694.3 306.5H1697.9V310.0H1694.3zM1683.8 303.0H1687.3V306.5H1683.8zM1694.3 303.0H1697.9V306.5H1694.3zM1595.6 299.4H1599.1V303.0H1595.6zM1687.3 295.9H1690.8V299.4H1687.3zM1687.3 292.4H1690.8V295.9H1687.3zM1652.0 271.2H1655.5V274.7H1652.0zM1659.1 267.7H1666.1V271.2H1659.1zM1786.1 267.7H1789.6V271.2H1786.1zM1648.5 260.6H1655.5V264.2H1648.5zM1786.1 260.6H1789.6V264.2H1786.1zM1645.0 257.1H1648.5V260.6H1645.0zM1775.5 257.1H1779.0V260.6H1775.5zM1637.9 253.6H1641.4V257.1H1637.9zM1789.6 253.6H1793.1V257.1H1789.6zM1768.4 246.5H1775.5V250.0H1768.4zM1630.8 243.0H1634.4V246.5H1630.8zM1768.4 243.0H1775.5V246.5H1768.4zM1772.0 239.5H1775.5V243.0H1772.0zM1757.8 232.4H1761.4V235.9H1757.8zM1764.9 232.4H1768.4V235.9H1764.9zM1764.9 225.3H1768.4V228.9H1764.9zM1747.3 214.8H1750.8V218.3H1747.3zM1740.2 207.7H1743.7V211.2H1740.2zM1722.6 197.1H1726.1V200.7H1722.6zM1722.6 190.1H1726.1V193.6H1722.6zM1729.6 190.1H1733.2V193.6H1729.6zM1708.5 186.5H1715.5V190.1H1708.5zM1708.5 183.0H1719.0V186.5H1708.5zM1697.9 179.5H1701.4V183.0H1697.9zM1687.3 168.9H1690.8V172.4H1687.3zM1694.3 168.9H1697.9V172.4H1694.3zM1701.4 165.4H1704.9V168.9H1701.4z"/></g>

<rect x="202" y="119" width="1637" height="1637.5" fill="none" stroke="#000" stroke-width="6" stroke-linejoin="round"/>
<path d="M553.0 119V113 M553.0 1756.5V1762.5 M202 1405.5H196 M1839 1405.5H1845 M905.8 119V113 M905.8 1756.5V1762.5 M202 1052.7H196 M1839 1052.7H1845 M1258.6 119V113 M1258.6 1756.5V1762.5 M202 699.9H196 M1839 699.9H1845 M1611.4 119V113 M1611.4 1756.5V1762.5 M202 347.1H196 M1839 347.1H1845" stroke="#000" stroke-width="5.5" stroke-linecap="round" fill="none"/>
<text transform="matrix(0.93 0 0 0.9867 504.28 1812.6)" font-size="64">100</text>
<text transform="matrix(0.9235 0 0 0.9867 856.35 1812.6)" font-size="64">200</text>
<text transform="matrix(0.9343 0 0 0.9911 1208.73 1812.7)" font-size="64">300</text>
<text transform="matrix(0.934 0 0 0.9867 1562.07 1812.5)" font-size="64">400</text>
<text transform="matrix(0.932 0 0 0.98 92.07 1428.1)" font-size="64">100</text>
<text transform="matrix(0.9412 0 0 0.9511 91.12 1075.3)" font-size="64">200</text>
<text transform="matrix(0.9431 0 0 0.9889 91.11 723.0)" font-size="64">300</text>
<text transform="matrix(0.935 0 0 0.9778 92.07 369.4)" font-size="64">400</text>
<text transform="matrix(0.9324 0 0 1.0 819.07 1867.9)" font-size="64">Residue index</text>
<text transform="matrix(0.9744 0 0 1.0029 1883.08 484.6)" font-size="50">150</text>
<text transform="matrix(0.9744 0 0 1.0029 1883.08 894.6)" font-size="50">100</text>
<text transform="matrix(0.9961 0 0 1.0143 1882.01 1304.8)" font-size="50">50</text>
<text transform="matrix(0.975 0 0 1.0143 1881.83 1714.5)" font-size="50">0</text>
<text transform="translate(79.9 1139.5) rotate(-90) scale(0.9324 1)" font-size="64">Residue index</text>
<rect x="1862" y="1654.1" width="12" height="103.0" fill="#FF0000"/><rect x="1862" y="1551.8" width="12" height="103.0" fill="#FF1B00"/><rect x="1862" y="1449.4" width="12" height="103.0" fill="#FF3700"/><rect x="1862" y="1347.1" width="12" height="103.0" fill="#FF5200"/><rect x="1862" y="1244.7" width="12" height="103.0" fill="#FF6E00"/><rect x="1862" y="1142.4" width="12" height="103.0" fill="#FF8900"/><rect x="1862" y="1040.0" width="12" height="103.0" fill="#FFA500"/><rect x="1862" y="937.8" width="12" height="102.8" fill="#00FFFF"/><rect x="1862" y="835.5" width="12" height="102.8" fill="#0AEDF8"/><rect x="1862" y="733.2" width="12" height="102.8" fill="#15DAF0"/><rect x="1862" y="631.0" width="12" height="102.8" fill="#1FC8E8"/><rect x="1862" y="528.8" width="12" height="102.8" fill="#2AB6E0"/><rect x="1862" y="426.5" width="12" height="102.8" fill="#34A3D8"/><rect x="1862" y="324.2" width="12" height="102.8" fill="#3F91D0"/><rect x="1862" y="222.0" width="12" height="102.8" fill="#4A7FC8"/>
<rect x="1862" y="119" width="12" height="1637.5" fill="none" stroke="#000" stroke-width="6" stroke-linejoin="round"/>
<path d="M1874 1696.0H1880 M1874 1286.0H1880 M1874 876.0H1880 M1874 466.0H1880" stroke="#000" stroke-width="5" stroke-linecap="round" fill="none"/>
</svg></body></html>
